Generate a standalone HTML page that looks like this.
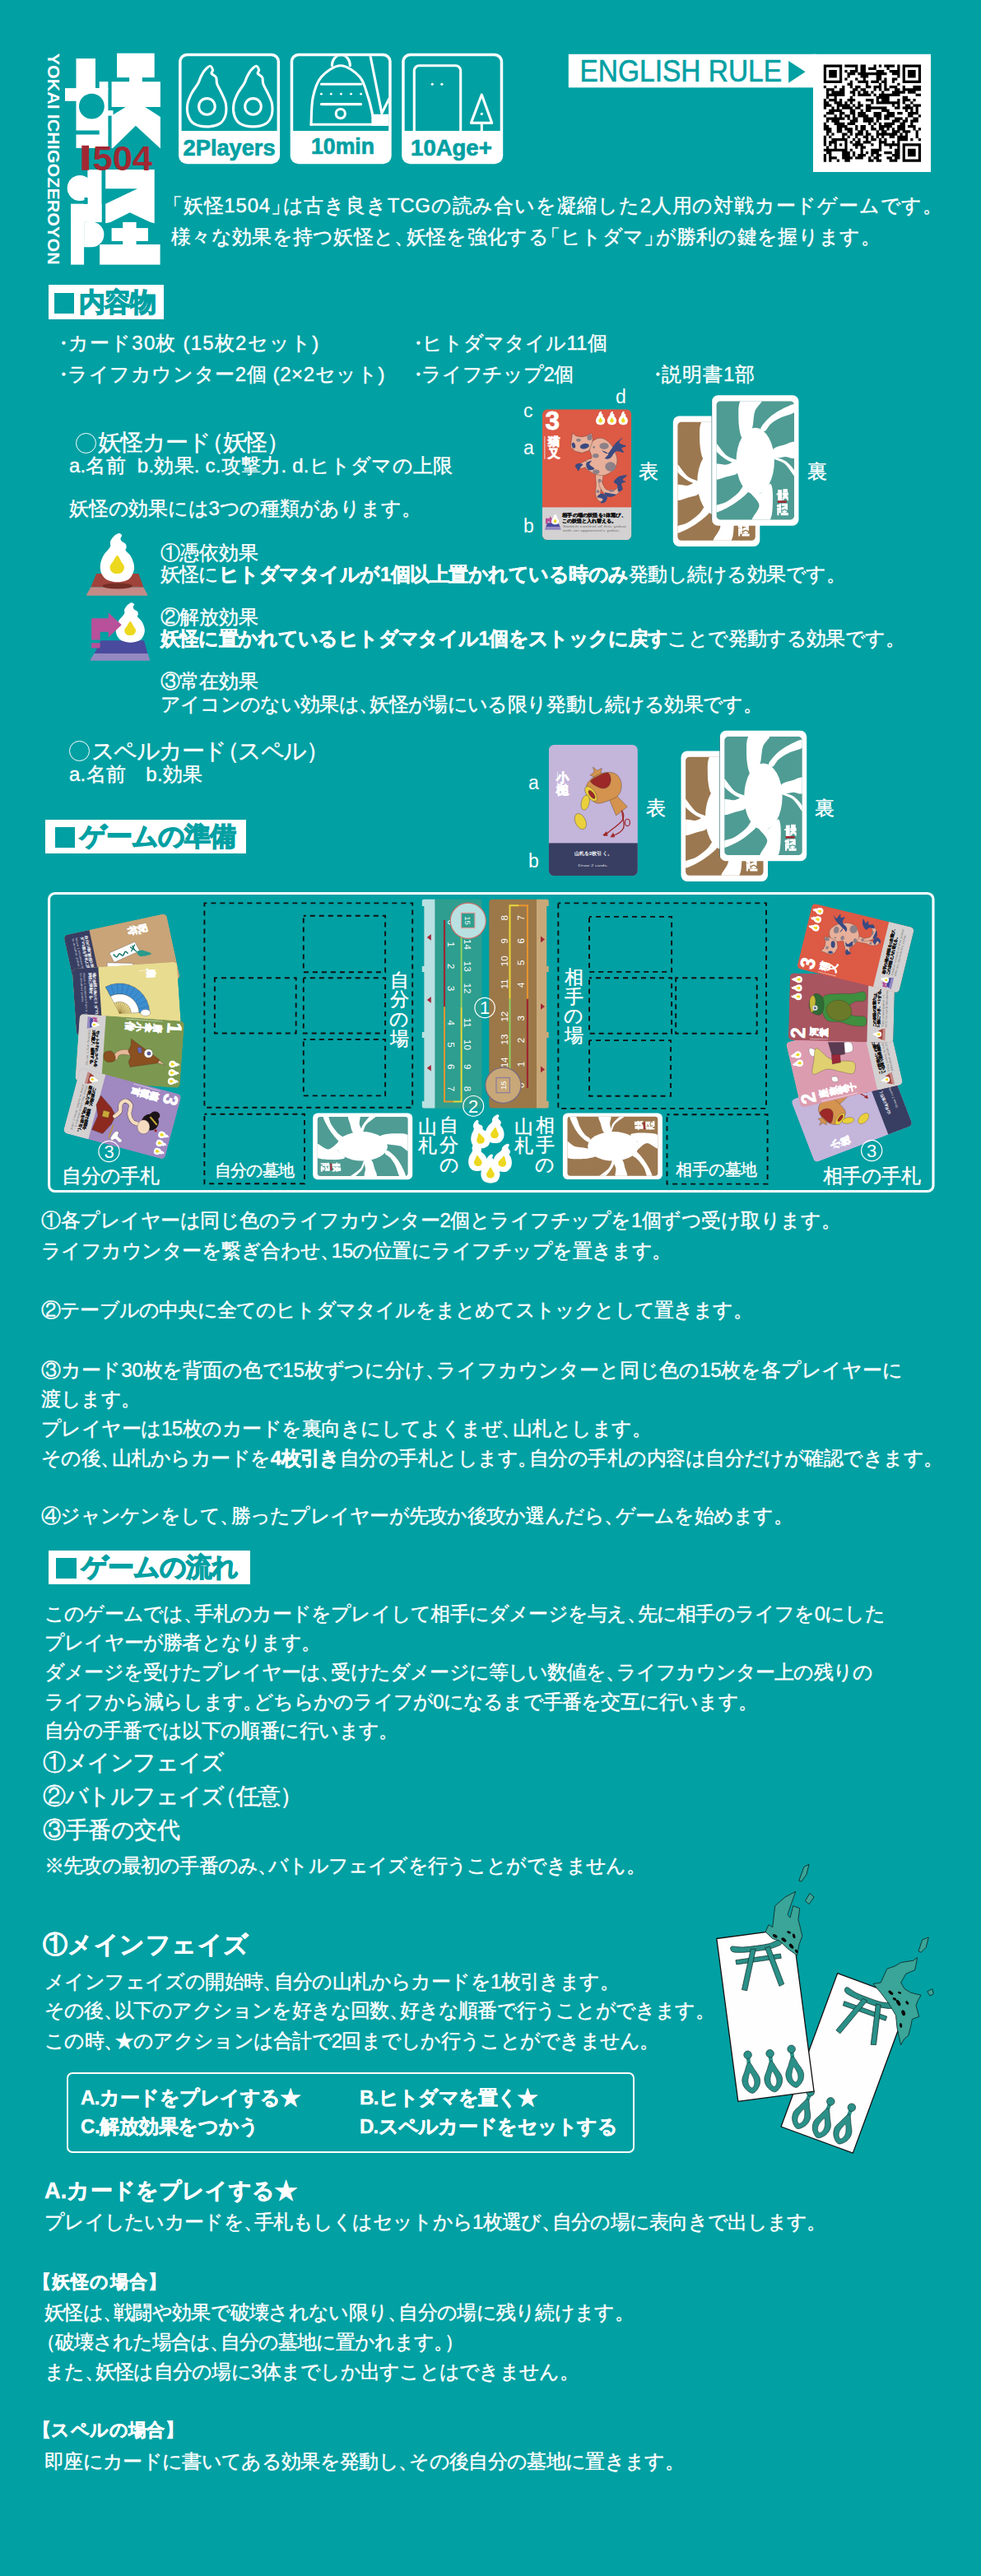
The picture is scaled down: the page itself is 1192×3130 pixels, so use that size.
<!DOCTYPE html><html lang="ja"><head><meta charset="utf-8"><title>妖怪1504 ルール</title><style>
html,body{margin:0;padding:0}body{background:#00a0a3;width:1192px;height:3130px;overflow:hidden;font-family:"Liberation Sans",sans-serif;color:#fff}
#pg{position:relative;width:1192px;height:3130px;overflow:hidden;background:#00a0a3}
.t{position:absolute;white-space:nowrap;margin:0;font-weight:normal}.t b{font-weight:bold;-webkit-text-stroke:0.45px #fff}.t{-webkit-text-stroke:0.38px #fff}.o{display:inline-block;box-sizing:border-box;width:25px;height:25px;border:1.6px solid #fff;border-radius:50%;vertical-align:-3.5px;margin-right:2px}.c{font-style:normal;margin-right:-0.42em}.q{font-style:normal;margin-left:-0.42em}.d{font-style:normal;margin:0 -7px 0 -1.5px}
.h{position:absolute;background:#fff;color:#00a0a3;font-weight:bold;white-space:nowrap;font-size:31.5px;letter-spacing:-1px;-webkit-text-stroke:1.3px #00a0a3}.sq{display:inline-block;width:24.5px;height:24.5px;background:#00a0a3;vertical-align:-3px;margin-right:6px}
svg{position:absolute;left:0;top:0}svg text{font-family:"Liberation Sans",sans-serif}
</style></head><body><div id="pg">
<svg width="1192" height="3130" viewBox="0 0 1192 3130">
<g fill="#fff">
<rect x="92.5" y="71.1" width="23.5" height="36"/>
<rect x="79" y="107.1" width="41.7" height="15.7"/>
<rect x="92.5" y="107.1" width="38.9" height="51.4"/>
<rect x="120.7" y="99.2" width="10.7" height="10"/>
<rect x="92.5" y="163.5" width="38.9" height="16.4"/>
<rect x="120.7" y="158" width="10.7" height="6"/>
<rect x="131" y="134.2" width="6.5" height="6.4"/>
<rect x="142.1" y="64.7" width="45.6" height="29.5"/>
<rect x="157.1" y="94" width="15.7" height="6"/>
<path d="M135.60 99.20L194.90 99.20L194.90 129.90L176.30 129.90L194.90 142.10L194.90 180.60L164.90 152.80L137.10 179.90L135.60 179.90L135.60 140.60L152.80 129.90L135.60 129.90Z"/>
</g>
<circle cx="111.4" cy="129.2" r="15.4" fill="#00a0a3"/>
<g fill="#fff">
<circle cx="97.1" cy="228.5" r="15.4"/>
<rect x="106.4" y="206.1" width="17.1" height="64"/>
<rect x="86.1" y="247.8" width="37.4" height="22"/>
<rect x="86.1" y="247.8" width="16" height="73.8"/>
<path d="M102.1 269.5 L111 269.5 A15.4 15.4 0 0 1 111 300.3 L102.1 300.3Z"/>
<path d="M128.20 206.10L187.70 206.10L187.70 271.30L182.70 269.90L157.80 258.20L134.20 269.90L128.20 271.30L128.20 247.80L167.00 229.20L128.20 229.20Z"/>
<rect x="149.2" y="269.9" width="16.4" height="28"/>
<rect x="135.6" y="277.1" width="44.3" height="15.9"/>
<rect x="121.1" y="297" width="73.5" height="24.6"/>
</g>
<rect x="102.5" y="240" width="3.9" height="7.8" fill="#00a0a3"/>
<rect x="99.3" y="176.8" width="8.8" height="30" fill="#a02832"/>
<text x="112.5" y="206.8" font-size="43" font-weight="bold" fill="#a02832" textLength="72.5" lengthAdjust="spacingAndGlyphs">504</text>
<text transform="translate(58.3 64.7) rotate(90)" font-size="20.5" font-weight="bold" fill="#fff" textLength="257" lengthAdjust="spacingAndGlyphs">YOKAI ICHIGOZEROYON</text>
<rect x="217.1" y="64.7" width="123" height="134.5" rx="10" fill="#fff"/><path d="M220.6 159 V75.2 a7 7 0 0 1 7 -7 H329.6 a7 7 0 0 1 7 7 V159Z" fill="#00a0a3"/>
<rect x="352.7" y="64.7" width="123" height="134.5" rx="10" fill="#fff"/><path d="M356.2 159 V75.2 a7 7 0 0 1 7 -7 H465.2 a7 7 0 0 1 7 7 V159Z" fill="#00a0a3"/>
<rect x="488.2" y="64.7" width="123" height="134.5" rx="10" fill="#fff"/><path d="M491.7 159 V75.2 a7 7 0 0 1 7 -7 H600.7 a7 7 0 0 1 7 7 V159Z" fill="#00a0a3"/>
<text x="278.6" y="188.5" font-size="27" font-weight="bold" fill="#00a0a3" stroke="#00a0a3" stroke-width="0.7" text-anchor="middle" textLength="112" lengthAdjust="spacingAndGlyphs">2Players</text>
<text x="416.5" y="186.8" font-size="27" font-weight="bold" fill="#00a0a3" stroke="#00a0a3" stroke-width="0.7" text-anchor="middle" textLength="77" lengthAdjust="spacingAndGlyphs">10min</text>
<text x="548.4" y="188.5" font-size="27" font-weight="bold" fill="#00a0a3" stroke="#00a0a3" stroke-width="0.7" text-anchor="middle" textLength="98.6" lengthAdjust="spacingAndGlyphs">10Age+</text>
<path d="M255.26 80.28C256.89 80.21 258.22 83.68 258.52 85.17C258.83 86.67 256.42 87.76 257.09 89.25C257.77 90.75 261.48 91.97 262.60 94.14C263.72 96.32 262.63 98.97 263.82 102.30C265.01 105.63 267.97 110.11 269.73 114.12C271.50 118.13 273.74 121.94 274.42 126.36C275.10 130.77 275.10 136.62 273.81 140.63C272.52 144.64 270.41 148.20 266.68 150.41C262.94 152.62 256.52 153.88 251.39 153.88C246.26 153.88 239.66 152.62 235.89 150.41C232.12 148.20 230.12 144.47 228.76 140.63C227.40 136.79 227.13 131.79 227.74 127.38C228.35 122.96 230.29 118.44 232.43 114.12C234.57 109.81 238.68 104.88 240.58 101.48C242.48 98.09 242.48 96.39 243.84 93.74C245.20 91.09 246.83 87.82 248.74 85.58C250.64 83.34 253.63 80.35 255.26 80.28Z" fill="none" stroke="#fff" stroke-width="3.1" stroke-linejoin="round"/>
<circle cx="251.4" cy="129.4" r="9.8" fill="none" stroke="#fff" stroke-width="3.1" stroke-linejoin="round"/>
<path d="M311.36 80.28C312.99 80.21 314.32 83.68 314.62 85.17C314.93 86.67 312.52 87.76 313.19 89.25C313.87 90.75 317.58 91.97 318.70 94.14C319.82 96.32 318.73 98.97 319.92 102.30C321.11 105.63 324.07 110.11 325.83 114.12C327.60 118.13 329.84 121.94 330.52 126.36C331.20 130.77 331.20 136.62 329.91 140.63C328.62 144.64 326.51 148.20 322.78 150.41C319.04 152.62 312.62 153.88 307.49 153.88C302.36 153.88 295.76 152.62 291.99 150.41C288.22 148.20 286.22 144.47 284.86 140.63C283.50 136.79 283.23 131.79 283.84 127.38C284.45 122.96 286.39 118.44 288.53 114.12C290.67 109.81 294.78 104.88 296.68 101.48C298.58 98.09 298.58 96.39 299.94 93.74C301.30 91.09 302.93 87.82 304.84 85.58C306.74 83.34 309.73 80.35 311.36 80.28Z" fill="none" stroke="#fff" stroke-width="3.1" stroke-linejoin="round"/>
<circle cx="307.5" cy="129.4" r="9.8" fill="none" stroke="#fff" stroke-width="3.1" stroke-linejoin="round"/>
<clipPath id="cb2"><rect x="356.2" y="68.2" width="116" height="91"/></clipPath><g clip-path="url(#cb2)" fill="none" stroke="#fff" stroke-width="3.1" stroke-linejoin="round" stroke-linecap="round">
<path d="M378.03 151.34C378.40 145.83 378.17 127.94 380.23 118.31C382.30 108.67 384.82 99.96 390.42 93.54C396.01 87.11 406.01 79.77 413.81 79.77C421.61 79.77 431.61 87.11 437.21 93.54C442.81 99.96 444.78 110.51 447.39 118.31C450.01 126.11 451.98 136.66 452.90 140.33"/>
<path d="M378.0 151.3 H480"/>
<path d="M403.4 79.8 A11 13 0 0 1 425.4 79.8"/>
<path d="M390.4 102.3 H438.6 M390.4 126.6 H438.6"/>
<circle cx="413.8" cy="138.1" r="5.6"/>
<path d="M449.6 66.0 L463.9 137.6 L474.4 116.9"/>
<rect x="452.9" y="140.3" width="30" height="11" fill="#fff"/>
</g>
<circle cx="390.4" cy="114.2" r="1.4" fill="#fff"/>
<circle cx="402.3" cy="114.2" r="1.4" fill="#fff"/>
<circle cx="414.4" cy="114.2" r="1.4" fill="#fff"/>
<circle cx="426.5" cy="114.2" r="1.4" fill="#fff"/>
<circle cx="438.6" cy="114.2" r="1.4" fill="#fff"/>
<g fill="none" stroke="#fff" stroke-width="3.1" stroke-linejoin="round">
<path d="M503.3 160 V85.8 a6 6 0 0 1 6 -6 H553.7 a6 6 0 0 1 6 6 V160"/>
<path d="M585.3 115.0 L572.4 149.4 L597.7 149.4 Z"/>
<path d="M585.3 149.4 V160"/>
</g>
<circle cx="525.3" cy="102.3" r="1.6" fill="#fff"/>
<circle cx="536.9" cy="102.3" r="1.6" fill="#fff"/>
<circle cx="585.3" cy="138.4" r="1.6" fill="#fff"/>
<rect x="690.8" y="65.8" width="300" height="40.6" fill="#fff"/>
<rect x="988" y="65.8" width="143" height="143.2" fill="#fff"/>
<text x="704.5" y="99" font-size="36" fill="#00a0a3" stroke="#00a0a3" stroke-width="0.6" textLength="245.5" lengthAdjust="spacingAndGlyphs">ENGLISH RULE</text>
<path d="M958.2 73.9 L978.6 87.3 L958.2 100.7Z" fill="#00a0a3"/>
<path d="M1000.80 78.50h22.41v3.24h-22.41zM1026.36 78.50h16.02v3.24h-16.02zM1045.52 78.50h6.44v3.24h-6.44zM1061.50 78.50h3.24v3.24h-3.24zM1067.89 78.50h3.24v3.24h-3.24zM1074.28 78.50h12.83v3.24h-12.83zM1090.25 78.50h3.24v3.24h-3.24zM1096.64 78.50h22.41v3.24h-22.41zM1000.80 81.69h3.24v3.24h-3.24zM1019.97 81.69h3.24v3.24h-3.24zM1039.14 81.69h3.24v3.24h-3.24zM1045.52 81.69h6.44v3.24h-6.44zM1055.11 81.69h9.63v3.24h-9.63zM1077.47 81.69h3.24v3.24h-3.24zM1090.25 81.69h3.24v3.24h-3.24zM1096.64 81.69h3.24v3.24h-3.24zM1115.81 81.69h3.24v3.24h-3.24zM1000.80 84.89h3.24v3.24h-3.24zM1007.19 84.89h9.63v3.24h-9.63zM1019.97 84.89h3.24v3.24h-3.24zM1026.36 84.89h3.24v3.24h-3.24zM1032.75 84.89h9.63v3.24h-9.63zM1045.52 84.89h6.44v3.24h-6.44zM1064.69 84.89h9.63v3.24h-9.63zM1080.66 84.89h12.83v3.24h-12.83zM1096.64 84.89h3.24v3.24h-3.24zM1103.03 84.89h9.63v3.24h-9.63zM1115.81 84.89h3.24v3.24h-3.24zM1000.80 88.08h3.24v3.24h-3.24zM1007.19 88.08h9.63v3.24h-9.63zM1019.97 88.08h3.24v3.24h-3.24zM1029.55 88.08h9.63v3.24h-9.63zM1042.33 88.08h35.19v3.24h-35.19zM1083.86 88.08h9.63v3.24h-9.63zM1096.64 88.08h3.24v3.24h-3.24zM1103.03 88.08h9.63v3.24h-9.63zM1115.81 88.08h3.24v3.24h-3.24zM1000.80 91.28h3.24v3.24h-3.24zM1007.19 91.28h9.63v3.24h-9.63zM1019.97 91.28h3.24v3.24h-3.24zM1029.55 91.28h3.24v3.24h-3.24zM1045.52 91.28h9.63v3.24h-9.63zM1064.69 91.28h6.44v3.24h-6.44zM1090.25 91.28h3.24v3.24h-3.24zM1096.64 91.28h3.24v3.24h-3.24zM1103.03 91.28h9.63v3.24h-9.63zM1115.81 91.28h3.24v3.24h-3.24zM1000.80 94.47h3.24v3.24h-3.24zM1019.97 94.47h3.24v3.24h-3.24zM1026.36 94.47h3.24v3.24h-3.24zM1039.14 94.47h3.24v3.24h-3.24zM1048.72 94.47h3.24v3.24h-3.24zM1064.69 94.47h6.44v3.24h-6.44zM1074.28 94.47h3.24v3.24h-3.24zM1083.86 94.47h6.44v3.24h-6.44zM1096.64 94.47h3.24v3.24h-3.24zM1115.81 94.47h3.24v3.24h-3.24zM1000.80 97.67h22.41v3.24h-22.41zM1032.75 97.67h3.24v3.24h-3.24zM1042.33 97.67h12.83v3.24h-12.83zM1058.30 97.67h9.63v3.24h-9.63zM1071.08 97.67h6.44v3.24h-6.44zM1083.86 97.67h3.24v3.24h-3.24zM1096.64 97.67h22.41v3.24h-22.41zM1029.55 100.86h6.44v3.24h-6.44zM1051.91 100.86h3.24v3.24h-3.24zM1067.89 100.86h3.24v3.24h-3.24zM1074.28 100.86h3.24v3.24h-3.24zM1090.25 100.86h3.24v3.24h-3.24zM1000.80 104.06h3.24v3.24h-3.24zM1013.58 104.06h3.24v3.24h-3.24zM1023.16 104.06h3.24v3.24h-3.24zM1032.75 104.06h3.24v3.24h-3.24zM1039.14 104.06h6.44v3.24h-6.44zM1051.91 104.06h6.44v3.24h-6.44zM1061.50 104.06h9.63v3.24h-9.63zM1074.28 104.06h3.24v3.24h-3.24zM1080.66 104.06h9.63v3.24h-9.63zM1096.64 104.06h3.24v3.24h-3.24zM1109.42 104.06h9.63v3.24h-9.63zM1003.99 107.25h9.63v3.24h-9.63zM1019.97 107.25h6.44v3.24h-6.44zM1035.94 107.25h6.44v3.24h-6.44zM1045.52 107.25h6.44v3.24h-6.44zM1061.50 107.25h3.24v3.24h-3.24zM1067.89 107.25h3.24v3.24h-3.24zM1074.28 107.25h6.44v3.24h-6.44zM1087.05 107.25h6.44v3.24h-6.44zM1096.64 107.25h22.41v3.24h-22.41zM1003.99 110.45h3.24v3.24h-3.24zM1010.38 110.45h16.02v3.24h-16.02zM1032.75 110.45h6.44v3.24h-6.44zM1042.33 110.45h3.24v3.24h-3.24zM1048.72 110.45h6.44v3.24h-6.44zM1058.30 110.45h3.24v3.24h-3.24zM1071.08 110.45h3.24v3.24h-3.24zM1083.86 110.45h16.02v3.24h-16.02zM1103.03 110.45h9.63v3.24h-9.63zM1003.99 113.64h22.41v3.24h-22.41zM1035.94 113.64h3.24v3.24h-3.24zM1042.33 113.64h16.02v3.24h-16.02zM1061.50 113.64h3.24v3.24h-3.24zM1067.89 113.64h25.61v3.24h-25.61zM1112.61 113.64h6.44v3.24h-6.44zM1003.99 116.84h3.24v3.24h-3.24zM1013.58 116.84h3.24v3.24h-3.24zM1032.75 116.84h3.24v3.24h-3.24zM1064.69 116.84h16.02v3.24h-16.02zM1096.64 116.84h6.44v3.24h-6.44zM1000.80 120.03h3.24v3.24h-3.24zM1007.19 120.03h9.63v3.24h-9.63zM1019.97 120.03h3.24v3.24h-3.24zM1029.55 120.03h9.63v3.24h-9.63zM1051.91 120.03h9.63v3.24h-9.63zM1064.69 120.03h3.24v3.24h-3.24zM1071.08 120.03h9.63v3.24h-9.63zM1090.25 120.03h3.24v3.24h-3.24zM1096.64 120.03h9.63v3.24h-9.63zM1109.42 120.03h3.24v3.24h-3.24zM1000.80 123.22h6.44v3.24h-6.44zM1013.58 123.22h9.63v3.24h-9.63zM1026.36 123.22h3.24v3.24h-3.24zM1032.75 123.22h3.24v3.24h-3.24zM1042.33 123.22h3.24v3.24h-3.24zM1058.30 123.22h3.24v3.24h-3.24zM1064.69 123.22h28.80v3.24h-28.80zM1096.64 123.22h3.24v3.24h-3.24zM1106.22 123.22h3.24v3.24h-3.24zM1000.80 126.42h9.63v3.24h-9.63zM1016.77 126.42h16.02v3.24h-16.02zM1035.94 126.42h3.24v3.24h-3.24zM1042.33 126.42h6.44v3.24h-6.44zM1051.91 126.42h6.44v3.24h-6.44zM1083.86 126.42h3.24v3.24h-3.24zM1090.25 126.42h3.24v3.24h-3.24zM1099.83 126.42h6.44v3.24h-6.44zM1109.42 126.42h9.63v3.24h-9.63zM1000.80 129.61h3.24v3.24h-3.24zM1010.38 129.61h3.24v3.24h-3.24zM1016.77 129.61h3.24v3.24h-3.24zM1023.16 129.61h12.83v3.24h-12.83zM1039.14 129.61h6.44v3.24h-6.44zM1051.91 129.61h25.61v3.24h-25.61zM1087.05 129.61h6.44v3.24h-6.44zM1096.64 129.61h12.83v3.24h-12.83zM1112.61 129.61h3.24v3.24h-3.24zM1007.19 132.81h16.02v3.24h-16.02zM1032.75 132.81h6.44v3.24h-6.44zM1045.52 132.81h3.24v3.24h-3.24zM1051.91 132.81h6.44v3.24h-6.44zM1071.08 132.81h9.63v3.24h-9.63zM1099.83 132.81h3.24v3.24h-3.24zM1106.22 132.81h3.24v3.24h-3.24zM1112.61 132.81h3.24v3.24h-3.24zM1003.99 136.00h9.63v3.24h-9.63zM1019.97 136.00h6.44v3.24h-6.44zM1032.75 136.00h6.44v3.24h-6.44zM1042.33 136.00h9.63v3.24h-9.63zM1061.50 136.00h9.63v3.24h-9.63zM1077.47 136.00h9.63v3.24h-9.63zM1090.25 136.00h6.44v3.24h-6.44zM1103.03 136.00h12.83v3.24h-12.83zM1000.80 139.20h3.24v3.24h-3.24zM1013.58 139.20h3.24v3.24h-3.24zM1019.97 139.20h3.24v3.24h-3.24zM1026.36 139.20h6.44v3.24h-6.44zM1035.94 139.20h3.24v3.24h-3.24zM1042.33 139.20h12.83v3.24h-12.83zM1061.50 139.20h9.63v3.24h-9.63zM1074.28 139.20h12.83v3.24h-12.83zM1103.03 139.20h6.44v3.24h-6.44zM1115.81 139.20h3.24v3.24h-3.24zM1003.99 142.39h22.41v3.24h-22.41zM1029.55 142.39h3.24v3.24h-3.24zM1035.94 142.39h6.44v3.24h-6.44zM1048.72 142.39h12.83v3.24h-12.83zM1064.69 142.39h6.44v3.24h-6.44zM1074.28 142.39h6.44v3.24h-6.44zM1087.05 142.39h9.63v3.24h-9.63zM1099.83 142.39h3.24v3.24h-3.24zM1109.42 142.39h6.44v3.24h-6.44zM1003.99 145.59h3.24v3.24h-3.24zM1010.38 145.59h9.63v3.24h-9.63zM1032.75 145.59h9.63v3.24h-9.63zM1048.72 145.59h12.83v3.24h-12.83zM1064.69 145.59h3.24v3.24h-3.24zM1083.86 145.59h9.63v3.24h-9.63zM1096.64 145.59h6.44v3.24h-6.44zM1106.22 145.59h9.63v3.24h-9.63zM1000.80 148.78h3.24v3.24h-3.24zM1013.58 148.78h12.83v3.24h-12.83zM1029.55 148.78h9.63v3.24h-9.63zM1055.11 148.78h3.24v3.24h-3.24zM1061.50 148.78h3.24v3.24h-3.24zM1067.89 148.78h3.24v3.24h-3.24zM1074.28 148.78h12.83v3.24h-12.83zM1093.44 148.78h6.44v3.24h-6.44zM1106.22 148.78h3.24v3.24h-3.24zM1000.80 151.98h6.44v3.24h-6.44zM1016.77 151.98h12.83v3.24h-12.83zM1039.14 151.98h3.24v3.24h-3.24zM1045.52 151.98h6.44v3.24h-6.44zM1058.30 151.98h3.24v3.24h-3.24zM1067.89 151.98h16.02v3.24h-16.02zM1090.25 151.98h9.63v3.24h-9.63zM1103.03 151.98h9.63v3.24h-9.63zM1000.80 155.17h9.63v3.24h-9.63zM1016.77 155.17h6.44v3.24h-6.44zM1026.36 155.17h9.63v3.24h-9.63zM1039.14 155.17h3.24v3.24h-3.24zM1045.52 155.17h6.44v3.24h-6.44zM1058.30 155.17h6.44v3.24h-6.44zM1067.89 155.17h6.44v3.24h-6.44zM1077.47 155.17h3.24v3.24h-3.24zM1083.86 155.17h3.24v3.24h-3.24zM1090.25 155.17h9.63v3.24h-9.63zM1109.42 155.17h3.24v3.24h-3.24zM1115.81 155.17h3.24v3.24h-3.24zM1003.99 158.36h6.44v3.24h-6.44zM1016.77 158.36h6.44v3.24h-6.44zM1029.55 158.36h6.44v3.24h-6.44zM1042.33 158.36h6.44v3.24h-6.44zM1051.91 158.36h3.24v3.24h-3.24zM1064.69 158.36h3.24v3.24h-3.24zM1071.08 158.36h6.44v3.24h-6.44zM1083.86 158.36h9.63v3.24h-9.63zM1096.64 158.36h9.63v3.24h-9.63zM1112.61 158.36h3.24v3.24h-3.24zM1003.99 161.56h3.24v3.24h-3.24zM1010.38 161.56h3.24v3.24h-3.24zM1023.16 161.56h6.44v3.24h-6.44zM1032.75 161.56h3.24v3.24h-3.24zM1039.14 161.56h9.63v3.24h-9.63zM1051.91 161.56h6.44v3.24h-6.44zM1064.69 161.56h25.61v3.24h-25.61zM1093.44 161.56h3.24v3.24h-3.24zM1099.83 161.56h3.24v3.24h-3.24zM1112.61 161.56h3.24v3.24h-3.24zM1000.80 164.75h3.24v3.24h-3.24zM1007.19 164.75h3.24v3.24h-3.24zM1023.16 164.75h3.24v3.24h-3.24zM1029.55 164.75h3.24v3.24h-3.24zM1039.14 164.75h3.24v3.24h-3.24zM1048.72 164.75h6.44v3.24h-6.44zM1058.30 164.75h3.24v3.24h-3.24zM1064.69 164.75h3.24v3.24h-3.24zM1071.08 164.75h3.24v3.24h-3.24zM1080.66 164.75h6.44v3.24h-6.44zM1090.25 164.75h12.83v3.24h-12.83zM1112.61 164.75h3.24v3.24h-3.24zM1000.80 167.95h3.24v3.24h-3.24zM1010.38 167.95h19.22v3.24h-19.22zM1035.94 167.95h3.24v3.24h-3.24zM1042.33 167.95h3.24v3.24h-3.24zM1051.91 167.95h3.24v3.24h-3.24zM1058.30 167.95h6.44v3.24h-6.44zM1067.89 167.95h3.24v3.24h-3.24zM1074.28 167.95h3.24v3.24h-3.24zM1090.25 167.95h12.83v3.24h-12.83zM1106.22 167.95h3.24v3.24h-3.24zM1115.81 167.95h3.24v3.24h-3.24zM1000.80 171.14h3.24v3.24h-3.24zM1007.19 171.14h9.63v3.24h-9.63zM1026.36 171.14h3.24v3.24h-3.24zM1032.75 171.14h3.24v3.24h-3.24zM1039.14 171.14h6.44v3.24h-6.44zM1048.72 171.14h9.63v3.24h-9.63zM1067.89 171.14h9.63v3.24h-9.63zM1083.86 171.14h3.24v3.24h-3.24zM1090.25 171.14h3.24v3.24h-3.24zM1000.80 174.34h3.24v3.24h-3.24zM1007.19 174.34h3.24v3.24h-3.24zM1013.58 174.34h3.24v3.24h-3.24zM1019.97 174.34h3.24v3.24h-3.24zM1026.36 174.34h3.24v3.24h-3.24zM1035.94 174.34h12.83v3.24h-12.83zM1058.30 174.34h3.24v3.24h-3.24zM1067.89 174.34h3.24v3.24h-3.24zM1074.28 174.34h19.22v3.24h-19.22zM1096.64 174.34h22.41v3.24h-22.41zM1003.99 177.53h3.24v3.24h-3.24zM1013.58 177.53h3.24v3.24h-3.24zM1026.36 177.53h3.24v3.24h-3.24zM1039.14 177.53h3.24v3.24h-3.24zM1045.52 177.53h6.44v3.24h-6.44zM1067.89 177.53h3.24v3.24h-3.24zM1080.66 177.53h3.24v3.24h-3.24zM1090.25 177.53h3.24v3.24h-3.24zM1096.64 177.53h3.24v3.24h-3.24zM1115.81 177.53h3.24v3.24h-3.24zM1000.80 180.73h28.80v3.24h-28.80zM1032.75 180.73h3.24v3.24h-3.24zM1045.52 180.73h3.24v3.24h-3.24zM1058.30 180.73h12.83v3.24h-12.83zM1087.05 180.73h6.44v3.24h-6.44zM1096.64 180.73h3.24v3.24h-3.24zM1103.03 180.73h9.63v3.24h-9.63zM1115.81 180.73h3.24v3.24h-3.24zM1003.99 183.92h6.44v3.24h-6.44zM1023.16 183.92h9.63v3.24h-9.63zM1035.94 183.92h3.24v3.24h-3.24zM1045.52 183.92h3.24v3.24h-3.24zM1051.91 183.92h3.24v3.24h-3.24zM1058.30 183.92h9.63v3.24h-9.63zM1074.28 183.92h9.63v3.24h-9.63zM1087.05 183.92h6.44v3.24h-6.44zM1096.64 183.92h3.24v3.24h-3.24zM1103.03 183.92h9.63v3.24h-9.63zM1115.81 183.92h3.24v3.24h-3.24zM1000.80 187.12h3.24v3.24h-3.24zM1007.19 187.12h3.24v3.24h-3.24zM1023.16 187.12h9.63v3.24h-9.63zM1035.94 187.12h3.24v3.24h-3.24zM1042.33 187.12h9.63v3.24h-9.63zM1058.30 187.12h3.24v3.24h-3.24zM1064.69 187.12h6.44v3.24h-6.44zM1083.86 187.12h9.63v3.24h-9.63zM1096.64 187.12h3.24v3.24h-3.24zM1103.03 187.12h9.63v3.24h-9.63zM1115.81 187.12h3.24v3.24h-3.24zM1000.80 190.31h3.24v3.24h-3.24zM1007.19 190.31h9.63v3.24h-9.63zM1023.16 190.31h12.83v3.24h-12.83zM1039.14 190.31h9.63v3.24h-9.63zM1055.11 190.31h3.24v3.24h-3.24zM1061.50 190.31h6.44v3.24h-6.44zM1077.47 190.31h6.44v3.24h-6.44zM1087.05 190.31h6.44v3.24h-6.44zM1096.64 190.31h3.24v3.24h-3.24zM1115.81 190.31h3.24v3.24h-3.24zM1000.80 193.51h3.24v3.24h-3.24zM1007.19 193.51h3.24v3.24h-3.24zM1016.77 193.51h3.24v3.24h-3.24zM1026.36 193.51h6.44v3.24h-6.44zM1055.11 193.51h6.44v3.24h-6.44zM1064.69 193.51h6.44v3.24h-6.44zM1080.66 193.51h9.63v3.24h-9.63zM1096.64 193.51h22.41v3.24h-22.41z" fill="#000"/>
<g transform="translate(658.90 497.30) scale(1.0131 0.9925)"><g><clipPath id="fc1"><rect width="107" height="160" rx="6.5"/></clipPath><g clip-path="url(#fc1)"><rect width="107" height="160" fill="#dd5a45"/><rect y="120" width="107" height="40" fill="#d3d1d1"/><g stroke="#3a3030" stroke-width="0.35"><path d="M64.61 79.44C65.94 77.45 71.46 78.56 72.56 80.76C73.67 82.97 71.68 88.72 71.24 92.69C70.80 96.67 69.25 101.53 69.91 104.62C70.57 107.71 75.43 109.92 75.21 111.24C74.99 112.57 70.46 113.67 68.59 112.57C66.71 111.46 64.61 107.93 63.95 104.62C63.29 101.31 64.50 96.89 64.61 92.69C64.72 88.49 63.29 81.43 64.61 79.44Z" fill="#e8b09a"/><path d="M69.91 86.07C71.24 86.73 73.67 95.89 76.54 97.99C79.41 100.09 84.49 99.54 87.14 98.65C89.79 97.77 91.12 93.02 92.44 92.69C93.77 92.36 95.75 94.68 95.09 96.67C94.43 98.65 91.56 103.29 88.47 104.62C85.37 105.94 79.85 106.39 76.54 104.62C73.23 102.85 69.69 97.11 68.59 94.02C67.48 90.92 68.59 85.40 69.91 86.07Z" fill="#e8b09a"/><path d="M58.25 41.67C59.58 39.46 62.23 37.36 64.61 36.37C67.00 35.38 69.91 34.93 72.56 35.71C75.21 36.48 78.26 38.76 80.51 41.01C82.77 43.26 84.58 46.13 86.08 49.22C87.58 52.32 89.02 56.47 89.53 59.56C90.03 62.65 89.86 65.30 89.13 67.78C88.40 70.25 87.03 72.46 85.15 74.40C83.27 76.35 80.18 78.33 77.86 79.44C75.54 80.54 73.45 80.99 71.24 81.03C69.03 81.07 67.04 80.59 64.61 79.70C62.18 78.82 58.98 77.27 56.66 75.73C54.34 74.18 51.80 72.19 50.70 70.43C49.59 68.66 49.48 66.58 50.03 65.13C50.59 63.67 52.46 62.61 54.01 61.68C55.56 60.75 58.60 60.80 59.31 59.56C60.02 58.32 58.69 55.92 58.25 54.26C57.81 52.60 56.66 51.72 56.66 49.62C56.66 47.52 56.93 43.88 58.25 41.67Z" fill="#e8b09a"/><path d="M52.68 63.54C50.92 63.09 47.83 65.30 46.06 66.19C44.29 67.07 42.52 67.73 42.08 68.84C41.64 69.94 42.08 72.37 43.41 72.81C44.73 73.25 47.83 72.15 50.03 71.49C52.24 70.83 56.22 70.16 56.66 68.84C57.10 67.51 54.45 63.98 52.68 63.54Z" fill="#e8b09a"/><path d="M36.25 29.08L40.49 32.79L47.38 33.85L52.95 32.79L59.31 29.35L60.64 37.30L58.78 44.32L56.40 50.28L47.65 53.47L39.43 51.34L34.13 46.31L34.93 38.36Z" fill="#e8b09a"/><path d="M54.27 33.85L58.78 30.94L59.44 37.83Z" fill="#8c8088" stroke="none"/></g><ellipse cx="74.2" cy="45.0" rx="5.6" ry="4.0" fill="#8c8088"/><ellipse cx="81.8" cy="70.2" rx="6.4" ry="5.8" fill="#8c8088"/><ellipse cx="64.1" cy="56.9" rx="3.7" ry="2.7" fill="#8c8088"/><ellipse cx="64.6" cy="76.5" rx="4.0" ry="2.7" fill="#8c8088"/><ellipse cx="56.7" cy="34.4" rx="2.9" ry="3.7" fill="#8c8088"/><ellipse cx="43.4" cy="37.7" rx="2.7" ry="2.1" fill="#8c8088"/><ellipse cx="68.6" cy="87.4" rx="1.9" ry="2.4" fill="#8c8088"/><ellipse cx="66.6" cy="100.6" rx="1.9" ry="1.9" fill="#8c8088"/><ellipse cx="83.2" cy="100.0" rx="3.3" ry="1.3" fill="#8c8088"/><ellipse cx="62.0" cy="46.3" rx="1.3" ry="1.6" fill="#8c8088"/><ellipse cx="37.6" cy="44.3" rx="2.1" ry="3.6" fill="#3b4a80" transform="rotate(-12 37.6 44.3)"/><ellipse cx="50.8" cy="45.2" rx="5.6" ry="3.2" fill="#3b4a80" transform="rotate(-12 50.8 45.2)"/><path d="M71.24 50.28C71.02 50.28 75.88 54.59 77.86 54.26C79.85 53.93 81.40 50.51 83.16 48.30C84.93 46.09 86.26 43.22 88.47 41.01C90.67 38.80 95.75 35.04 96.42 35.04C97.08 35.04 91.78 39.35 92.44 41.01C93.10 42.66 99.95 43.88 100.39 44.98C100.83 46.09 95.53 46.31 95.09 47.63C94.65 48.96 98.85 52.27 97.74 52.94C96.64 53.60 91.12 50.51 88.47 51.61C85.81 52.71 84.05 58.13 81.84 59.56C79.63 61.00 75.65 61.11 75.21 60.22C74.77 59.34 79.85 55.92 79.19 54.26C78.53 52.60 71.46 50.28 71.24 50.28Z" fill="#3b4a80"/><path d="M39.43 68.84C39.76 67.73 41.86 66.41 43.41 66.19C44.95 65.97 48.27 66.74 48.71 67.51C49.15 68.29 46.94 69.50 46.06 70.83C45.18 72.15 44.18 75.13 43.41 75.46C42.64 75.79 42.08 73.92 41.42 72.81C40.76 71.71 39.10 69.94 39.43 68.84Z" fill="#3b4a80"/><path d="M52.68 66.19C53.35 64.31 58.65 62.65 59.31 62.87C59.97 63.09 56.11 65.86 56.66 67.51C57.21 69.17 62.84 71.71 62.62 72.81C62.40 73.92 56.99 75.24 55.34 74.14C53.68 73.03 52.02 68.06 52.68 66.19Z" fill="#3b4a80"/><path d="M85.81 88.72C86.26 86.95 89.79 83.41 92.44 82.09C95.09 80.76 101.05 80.10 101.72 80.76C102.38 81.43 96.64 84.74 96.42 86.07C96.20 87.39 100.61 87.83 100.39 88.72C100.17 89.60 95.75 89.82 95.09 91.37C94.43 92.91 97.08 96.45 96.42 97.99C95.75 99.54 92.22 101.53 91.12 100.64C90.01 99.76 90.67 94.68 89.79 92.69C88.91 90.70 85.37 90.48 85.81 88.72Z" fill="#3b4a80"/><path d="M65.94 107.27C65.72 106.16 69.25 103.29 71.24 103.29C73.23 103.29 77.20 105.50 77.86 107.27C78.53 109.04 76.54 112.68 75.21 113.89C73.89 115.11 70.35 115.22 69.91 114.56C69.47 113.89 73.23 111.13 72.56 109.92C71.90 108.70 66.16 108.37 65.94 107.27Z" fill="#3b4a80"/><path d="M75.21 101.97C76.32 101.53 80.96 102.85 83.16 103.29C85.37 103.73 88.69 103.96 88.47 104.62C88.24 105.28 83.83 107.05 81.84 107.27C79.85 107.49 77.64 106.83 76.54 105.94C75.43 105.06 74.11 102.41 75.21 101.97Z" fill="#3b4a80"/><text x="3.5" y="25.2" font-size="31" font-weight="bold" fill="#fff" stroke="#fff" stroke-width="0.8">3</text><g><path d="M70.54 2.60C70.86 2.66 71.28 3.07 71.34 3.34C71.40 3.62 70.92 3.93 70.90 4.25C70.88 4.57 70.96 4.92 71.23 5.24C71.50 5.56 72.24 5.81 72.51 6.16C72.77 6.52 72.82 7.00 72.83 7.37C72.83 7.74 72.33 7.91 72.55 8.39C72.77 8.87 73.73 9.55 74.16 10.26C74.59 10.96 74.94 11.89 75.13 12.63C75.33 13.37 75.38 14.00 75.30 14.68C75.22 15.36 75.00 16.11 74.64 16.72C74.28 17.34 73.96 17.96 73.17 18.36C72.37 18.75 70.97 19.10 69.88 19.10C68.78 19.10 67.42 18.75 66.60 18.36C65.78 17.96 65.34 17.34 64.96 16.72C64.58 16.11 64.38 15.41 64.30 14.68C64.22 13.94 64.27 13.10 64.47 12.30C64.66 11.51 65.03 10.62 65.44 9.91C65.85 9.20 66.57 8.55 66.93 8.04C67.29 7.54 67.50 7.28 67.60 6.86C67.70 6.43 67.42 5.94 67.52 5.49C67.63 5.03 67.93 4.55 68.24 4.13C68.55 3.72 69.01 3.27 69.39 3.01C69.78 2.76 70.21 2.54 70.54 2.60Z" fill="#fff"/><path d="M69.90 10.03C70.32 10.06 70.78 11.45 71.16 12.09C71.53 12.74 72.07 13.32 72.12 13.91C72.18 14.51 71.88 15.27 71.49 15.67C71.11 16.07 70.36 16.30 69.80 16.30C69.24 16.30 68.49 16.07 68.11 15.67C67.72 15.27 67.40 14.54 67.48 13.91C67.56 13.29 68.19 12.55 68.59 11.91C68.99 11.26 69.47 9.99 69.90 10.03Z" fill="#edd820"/></g><g><path d="M84.24 2.60C84.56 2.66 84.98 3.07 85.04 3.34C85.10 3.62 84.62 3.93 84.60 4.25C84.58 4.57 84.66 4.92 84.93 5.24C85.20 5.56 85.94 5.81 86.21 6.16C86.47 6.52 86.52 7.00 86.53 7.37C86.53 7.74 86.03 7.91 86.25 8.39C86.47 8.87 87.43 9.55 87.86 10.26C88.29 10.96 88.64 11.89 88.83 12.63C89.03 13.37 89.08 14.00 89.00 14.68C88.92 15.36 88.70 16.11 88.34 16.72C87.98 17.34 87.66 17.96 86.87 18.36C86.07 18.75 84.67 19.10 83.58 19.10C82.48 19.10 81.12 18.75 80.30 18.36C79.48 17.96 79.04 17.34 78.66 16.72C78.28 16.11 78.08 15.41 78.00 14.68C77.92 13.94 77.97 13.10 78.17 12.30C78.36 11.51 78.73 10.62 79.14 9.91C79.55 9.20 80.27 8.55 80.63 8.04C80.99 7.54 81.20 7.28 81.30 6.86C81.40 6.43 81.12 5.94 81.22 5.49C81.33 5.03 81.63 4.55 81.94 4.13C82.25 3.72 82.71 3.27 83.09 3.01C83.48 2.76 83.91 2.54 84.24 2.60Z" fill="#fff"/><path d="M83.60 10.03C84.02 10.06 84.48 11.45 84.86 12.09C85.23 12.74 85.77 13.32 85.82 13.91C85.88 14.51 85.58 15.27 85.19 15.67C84.81 16.07 84.06 16.30 83.50 16.30C82.94 16.30 82.19 16.07 81.81 15.67C81.42 15.27 81.10 14.54 81.18 13.91C81.26 13.29 81.89 12.55 82.29 11.91C82.69 11.26 83.17 9.99 83.60 10.03Z" fill="#edd820"/></g><g><path d="M97.84 2.60C98.16 2.66 98.58 3.07 98.64 3.34C98.70 3.62 98.22 3.93 98.20 4.25C98.18 4.57 98.26 4.92 98.53 5.24C98.80 5.56 99.54 5.81 99.81 6.16C100.07 6.52 100.12 7.00 100.12 7.37C100.13 7.74 99.63 7.91 99.85 8.39C100.07 8.87 101.03 9.55 101.46 10.26C101.89 10.96 102.24 11.89 102.43 12.63C102.63 13.37 102.68 14.00 102.60 14.68C102.52 15.36 102.30 16.11 101.94 16.72C101.58 17.34 101.26 17.96 100.47 18.36C99.67 18.75 98.27 19.10 97.18 19.10C96.08 19.10 94.72 18.75 93.90 18.36C93.08 17.96 92.64 17.34 92.26 16.72C91.88 16.11 91.68 15.41 91.60 14.68C91.52 13.94 91.57 13.10 91.77 12.30C91.96 11.51 92.33 10.62 92.74 9.91C93.15 9.20 93.87 8.55 94.23 8.04C94.59 7.54 94.80 7.28 94.90 6.86C95.00 6.43 94.72 5.94 94.82 5.49C94.93 5.03 95.23 4.55 95.54 4.13C95.85 3.72 96.31 3.27 96.69 3.01C97.08 2.76 97.51 2.54 97.84 2.60Z" fill="#fff"/><path d="M97.20 10.03C97.62 10.06 98.08 11.45 98.46 12.09C98.83 12.74 99.37 13.32 99.42 13.91C99.48 14.51 99.18 15.27 98.79 15.67C98.41 16.07 97.66 16.30 97.10 16.30C96.54 16.30 95.79 16.07 95.41 15.67C95.02 15.27 94.70 14.54 94.78 13.91C94.86 13.29 95.49 12.55 95.89 11.91C96.29 11.26 96.77 9.99 97.20 10.03Z" fill="#edd820"/></g><text x="14.2" y="44.5" font-size="14.5" font-weight="bold" fill="#fff" stroke="#fff" stroke-width="0.9" text-anchor="middle">猫</text><text x="14.2" y="59.1" font-size="14.5" font-weight="bold" fill="#fff" stroke="#fff" stroke-width="0.9" text-anchor="middle">又</text><rect x="2.2" y="33" width="1.3" height="28" fill="#fff" opacity=".55"/><text x="24" y="132.2" font-size="5.6" font-weight="bold" fill="#111" stroke="#111" stroke-width="0.25" textLength="76.7" lengthAdjust="spacingAndGlyphs">相手の場の妖怪を1体選び、</text><text x="24" y="138.5" font-size="5.6" font-weight="bold" fill="#111" stroke="#111" stroke-width="0.25" textLength="64.9" lengthAdjust="spacingAndGlyphs">この妖怪と入れ替える。</text><text x="24.5" y="145.0" font-size="4.3" fill="#777" textLength="76.0" lengthAdjust="spacingAndGlyphs">Switch control of this yokai</text><text x="24.5" y="150.0" font-size="4.3" fill="#777" textLength="68.8" lengthAdjust="spacingAndGlyphs">with an opponent's yokai.</text><path d="M4 144 L6.5 139 H19 L21.5 144Z" fill="#4a4a9e"/><path d="M3 147.5 L4 144 H21.5 L22.5 147.5Z" fill="#9488c0"/><path d="M4 133.5 h5 v-2.5 l4.5 4.5 l-4.5 4.5 v-2.5 h-2.5 v3 h-2.5z" fill="#b8509a"/><g><path d="M16.10 128.50C16.37 128.54 16.71 128.85 16.76 129.06C16.81 129.27 16.41 129.51 16.40 129.75C16.38 129.99 16.45 130.26 16.67 130.50C16.89 130.74 17.50 130.93 17.71 131.20C17.93 131.47 17.97 131.83 17.98 132.11C17.98 132.39 17.57 132.52 17.75 132.89C17.93 133.25 18.71 133.76 19.06 134.30C19.42 134.84 19.71 135.54 19.87 136.10C20.02 136.66 20.07 137.13 20.00 137.65C19.93 138.17 19.75 138.74 19.46 139.20C19.17 139.66 18.90 140.14 18.25 140.44C17.60 140.74 16.46 141.00 15.56 141.00C14.67 141.00 13.55 140.74 12.88 140.44C12.21 140.14 11.85 139.66 11.54 139.20C11.23 138.74 11.07 138.21 11.00 137.65C10.93 137.09 10.98 136.45 11.13 135.85C11.29 135.25 11.60 134.57 11.94 134.04C12.27 133.50 12.86 133.01 13.15 132.62C13.45 132.24 13.62 132.05 13.70 131.72C13.78 131.40 13.55 131.03 13.64 130.69C13.72 130.34 13.97 129.97 14.22 129.66C14.48 129.35 14.85 129.01 15.17 128.81C15.48 128.62 15.84 128.46 16.10 128.50Z" fill="#fff"/><path d="M15.58 134.12C15.93 134.15 16.31 135.20 16.61 135.69C16.91 136.18 17.35 136.62 17.40 137.07C17.45 137.52 17.20 138.10 16.89 138.40C16.57 138.70 15.96 138.88 15.50 138.88C15.04 138.88 14.43 138.70 14.11 138.40C13.80 138.10 13.53 137.54 13.60 137.07C13.67 136.59 14.18 136.04 14.51 135.55C14.84 135.06 15.23 134.10 15.58 134.12Z" fill="#edd820"/></g></g></g></g>
<g transform="translate(817.80 505.50) scale(1.0000 1.0000)"><g><rect x="0" y="0" width="105.5" height="158.5" rx="7.5" fill="#fff"/><clipPath id="bk2"><rect x="5.6" y="7.3" width="94.4" height="143.9" rx="4.5"/></clipPath><rect x="5.6" y="7.3" width="94.4" height="143.9" rx="4.5" fill="#9c7850"/><g clip-path="url(#bk2)" fill="#fff" stroke="none"><ellipse cx="52.7" cy="80.1" rx="23.2" ry="40.5"/><path d="M35.88 5.55C40.50 1.50 57.39 3.24 60.14 5.55C62.88 7.86 54.22 13.63 52.34 19.41C50.46 25.19 50.61 35.59 48.87 40.21C47.14 44.83 44.11 45.41 41.94 47.14C39.77 48.87 37.46 53.50 35.88 50.61C34.29 47.72 32.41 37.32 32.41 29.81C32.41 22.30 31.25 9.59 35.88 5.55Z"/><path d="M59.27 40.21C60.14 37.46 65.63 30.96 69.67 27.21C73.71 23.45 78.34 20.42 83.54 17.68C88.73 14.93 97.98 10.31 100.87 10.75C103.76 11.18 103.76 17.53 100.87 20.28C97.98 23.02 88.45 24.75 83.54 27.21C78.63 29.66 74.58 32.26 71.40 35.01C68.23 37.75 66.49 42.81 64.47 43.67C62.45 44.54 58.41 42.95 59.27 40.21Z"/><path d="M74.87 65.34C77.18 62.59 84.40 61.44 88.73 60.14C93.07 58.84 98.84 54.94 100.87 57.54C102.89 60.14 102.89 72.85 100.87 75.74C98.84 78.63 93.07 74.73 88.73 74.87C84.40 75.01 77.18 78.19 74.87 76.60C72.56 75.01 72.56 68.08 74.87 65.34Z"/><path d="M75.74 77.47C77.76 78.77 84.55 79.92 88.73 83.54C92.92 87.15 98.84 97.69 100.87 99.13C102.89 100.58 102.74 95.38 100.87 92.20C98.99 89.02 93.65 82.81 89.60 80.07C85.56 77.33 78.91 76.17 76.60 75.74C74.29 75.30 73.71 76.17 75.74 77.47Z"/><path d="M47.14 118.20C47.43 115.74 55.23 120.80 59.27 119.06C63.32 117.33 68.95 106.21 71.40 107.80C73.86 109.39 74.29 121.09 74.00 128.60C73.71 136.11 73.86 148.82 69.67 152.86C65.48 156.90 50.90 156.04 48.87 152.86C46.85 149.68 57.83 139.57 57.54 133.80C57.25 128.02 46.85 120.65 47.14 118.20Z"/><path d="M44.54 116.46C43.24 119.64 36.02 125.13 31.54 128.60C27.07 132.06 22.30 134.95 17.68 137.26C13.06 139.57 6.12 142.89 3.81 142.46C1.50 142.03 1.50 136.83 3.81 134.66C6.12 132.50 13.06 132.06 17.68 129.46C22.30 126.86 27.93 122.39 31.54 119.06C35.15 115.74 37.18 109.97 39.34 109.53C41.51 109.10 45.84 113.29 44.54 116.46Z"/><path d="M31.54 93.93C29.38 97.11 22.30 97.83 17.68 99.13C13.06 100.43 6.12 104.19 3.81 101.73C1.50 99.28 1.50 87.29 3.81 84.40C6.12 81.51 13.20 85.12 17.68 84.40C22.15 83.68 28.37 78.48 30.68 80.07C32.99 81.66 33.71 90.76 31.54 93.93Z"/><path d="M30.68 79.20C28.65 77.61 22.15 76.89 17.68 73.14C13.20 69.38 6.12 57.83 3.81 56.67C1.50 55.52 1.50 62.59 3.81 66.20C6.12 69.82 13.34 75.59 17.68 78.34C22.01 81.08 27.64 82.52 29.81 82.67C31.98 82.81 32.70 80.79 30.68 79.20Z"/></g><g transform="translate(78.50 114.00) scale(0.1246) translate(-79 -64.7)" fill="#fff"><rect x="92.5" y="71.1" width="38.9" height="108.8"/><rect x="79" y="107.1" width="30" height="15.7"/><rect x="142.1" y="64.7" width="45.6" height="35"/><path d="M135.60 99.20L194.90 99.20L194.90 129.90L176.30 129.90L194.90 142.10L194.90 180.60L164.90 152.80L137.10 179.90L135.60 179.90L135.60 140.60L152.80 129.90L135.60 129.90Z"/><circle cx="97.1" cy="228.5" r="15.4"/><rect x="106.4" y="206.1" width="17.1" height="64"/><rect x="86.1" y="247.8" width="37.4" height="22"/><rect x="86.1" y="247.8" width="16" height="73.8"/><path d="M102.1 269.5 L111 269.5 A15.4 15.4 0 0 1 111 300.3 L102.1 300.3Z"/><path d="M128.20 206.10L187.70 206.10L187.70 271.30L157.80 258.20L128.20 271.30L128.20 247.80L167.00 229.20L128.20 229.20Z"/><rect x="149.2" y="269.9" width="16.4" height="28"/><rect x="135.6" y="277.1" width="44.3" height="15.9"/><rect x="121.1" y="297" width="73.5" height="24.6"/></g><rect x="79.8" y="128.2" width="11" height="2.6" fill="#a02832"/></g></g>
<g transform="translate(865.00 480.20) scale(1.0000 1.0000)"><g><rect x="0" y="0" width="105.5" height="158.5" rx="7.5" fill="#fff"/><clipPath id="bk3"><rect x="5.6" y="7.3" width="94.4" height="143.9" rx="4.5"/></clipPath><rect x="5.6" y="7.3" width="94.4" height="143.9" rx="4.5" fill="#4f9c94"/><g clip-path="url(#bk3)" fill="#fff" stroke="none"><ellipse cx="52.7" cy="80.1" rx="23.2" ry="40.5"/><path d="M35.88 5.55C40.50 1.50 57.39 3.24 60.14 5.55C62.88 7.86 54.22 13.63 52.34 19.41C50.46 25.19 50.61 35.59 48.87 40.21C47.14 44.83 44.11 45.41 41.94 47.14C39.77 48.87 37.46 53.50 35.88 50.61C34.29 47.72 32.41 37.32 32.41 29.81C32.41 22.30 31.25 9.59 35.88 5.55Z"/><path d="M59.27 40.21C60.14 37.46 65.63 30.96 69.67 27.21C73.71 23.45 78.34 20.42 83.54 17.68C88.73 14.93 97.98 10.31 100.87 10.75C103.76 11.18 103.76 17.53 100.87 20.28C97.98 23.02 88.45 24.75 83.54 27.21C78.63 29.66 74.58 32.26 71.40 35.01C68.23 37.75 66.49 42.81 64.47 43.67C62.45 44.54 58.41 42.95 59.27 40.21Z"/><path d="M74.87 65.34C77.18 62.59 84.40 61.44 88.73 60.14C93.07 58.84 98.84 54.94 100.87 57.54C102.89 60.14 102.89 72.85 100.87 75.74C98.84 78.63 93.07 74.73 88.73 74.87C84.40 75.01 77.18 78.19 74.87 76.60C72.56 75.01 72.56 68.08 74.87 65.34Z"/><path d="M75.74 77.47C77.76 78.77 84.55 79.92 88.73 83.54C92.92 87.15 98.84 97.69 100.87 99.13C102.89 100.58 102.74 95.38 100.87 92.20C98.99 89.02 93.65 82.81 89.60 80.07C85.56 77.33 78.91 76.17 76.60 75.74C74.29 75.30 73.71 76.17 75.74 77.47Z"/><path d="M47.14 118.20C47.43 115.74 55.23 120.80 59.27 119.06C63.32 117.33 68.95 106.21 71.40 107.80C73.86 109.39 74.29 121.09 74.00 128.60C73.71 136.11 73.86 148.82 69.67 152.86C65.48 156.90 50.90 156.04 48.87 152.86C46.85 149.68 57.83 139.57 57.54 133.80C57.25 128.02 46.85 120.65 47.14 118.20Z"/><path d="M44.54 116.46C43.24 119.64 36.02 125.13 31.54 128.60C27.07 132.06 22.30 134.95 17.68 137.26C13.06 139.57 6.12 142.89 3.81 142.46C1.50 142.03 1.50 136.83 3.81 134.66C6.12 132.50 13.06 132.06 17.68 129.46C22.30 126.86 27.93 122.39 31.54 119.06C35.15 115.74 37.18 109.97 39.34 109.53C41.51 109.10 45.84 113.29 44.54 116.46Z"/><path d="M31.54 93.93C29.38 97.11 22.30 97.83 17.68 99.13C13.06 100.43 6.12 104.19 3.81 101.73C1.50 99.28 1.50 87.29 3.81 84.40C6.12 81.51 13.20 85.12 17.68 84.40C22.15 83.68 28.37 78.48 30.68 80.07C32.99 81.66 33.71 90.76 31.54 93.93Z"/><path d="M30.68 79.20C28.65 77.61 22.15 76.89 17.68 73.14C13.20 69.38 6.12 57.83 3.81 56.67C1.50 55.52 1.50 62.59 3.81 66.20C6.12 69.82 13.34 75.59 17.68 78.34C22.01 81.08 27.64 82.52 29.81 82.67C31.98 82.81 32.70 80.79 30.68 79.20Z"/></g><g transform="translate(78.50 114.00) scale(0.1246) translate(-79 -64.7)" fill="#fff"><rect x="92.5" y="71.1" width="38.9" height="108.8"/><rect x="79" y="107.1" width="30" height="15.7"/><rect x="142.1" y="64.7" width="45.6" height="35"/><path d="M135.60 99.20L194.90 99.20L194.90 129.90L176.30 129.90L194.90 142.10L194.90 180.60L164.90 152.80L137.10 179.90L135.60 179.90L135.60 140.60L152.80 129.90L135.60 129.90Z"/><circle cx="97.1" cy="228.5" r="15.4"/><rect x="106.4" y="206.1" width="17.1" height="64"/><rect x="86.1" y="247.8" width="37.4" height="22"/><rect x="86.1" y="247.8" width="16" height="73.8"/><path d="M102.1 269.5 L111 269.5 A15.4 15.4 0 0 1 111 300.3 L102.1 300.3Z"/><path d="M128.20 206.10L187.70 206.10L187.70 271.30L157.80 258.20L128.20 271.30L128.20 247.80L167.00 229.20L128.20 229.20Z"/><rect x="149.2" y="269.9" width="16.4" height="28"/><rect x="135.6" y="277.1" width="44.3" height="15.9"/><rect x="121.1" y="297" width="73.5" height="24.6"/></g><rect x="79.8" y="128.2" width="11" height="2.6" fill="#a02832"/></g></g>
<rect x="864.3" y="487" width="1" height="146" fill="#2a6a70" opacity=".6"/>
<g transform="translate(666.70 905.00) scale(1.0112 0.9950)"><g><clipPath id="fc4"><rect width="107" height="160" rx="6.5"/></clipPath><g clip-path="url(#fc4)"><rect width="107" height="160" fill="#c4b5da"/><rect y="120" width="107" height="40" fill="#383e62"/><g stroke="#3a3030" stroke-width="0.35"><path d="M71.79 64.22L79.63 59.94L94.62 75.64L81.06 86.34Z" fill="#d4934e"/><path d="M87.5 79.9 C 96.8 92.8 79.6 98.5 66.8 111.3" fill="none" stroke="#9c2828" stroke-width="1.3"/><path d="M88.2 81.3 C 88.2 95.6 98.2 102.8 76.8 111.3" fill="none" stroke="#9c2828" stroke-width="1.3"/><ellipse cx="94.6" cy="94.9" rx="3" ry="4.2" fill="none" stroke="#9c2828" stroke-width="1.2"/><path d="M64.65 110.60L69.64 105.61L71.07 111.32Z" fill="#9c2828" stroke="none"/><path d="M73.93 112.74L77.49 107.04L79.63 112.74Z" fill="#9c2828" stroke="none"/><path d="M49.66 37.11L54.66 33.54L53.23 27.12L58.23 31.40L63.94 28.54L62.51 34.25L68.22 35.68L56.80 39.96Z" fill="#d4934e"/><path d="M45.38 49.95C46.33 45.67 51.09 41.27 55.37 38.53C59.65 35.80 66.55 33.78 71.07 33.54C75.59 33.30 79.75 34.61 82.49 37.11C85.22 39.60 87.25 44.48 87.48 48.52C87.72 52.57 86.65 58.04 83.92 61.37C81.18 64.70 75.35 66.84 71.07 68.50C66.79 70.17 61.80 72.07 58.23 71.36C54.66 70.64 51.81 67.79 49.66 64.22C47.52 60.65 44.43 54.23 45.38 49.95Z" fill="#d4934e"/><path d="M50.38 44.96C49.90 42.46 56.21 39.60 59.65 37.82C63.10 36.04 68.57 33.42 71.07 34.25C73.57 35.08 74.64 39.96 74.64 42.81C74.64 45.67 73.09 49.71 71.07 51.38C69.05 53.04 65.96 53.87 62.51 52.80C59.06 51.73 50.85 47.45 50.38 44.96Z" fill="#9c2828"/><ellipse cx="50.8" cy="59.9" rx="5.2" ry="10.5" transform="rotate(-35 50.8 59.9)" fill="#ead03c"/><ellipse cx="51.8" cy="60.7" rx="2.5" ry="6" transform="rotate(-35 51.8 60.7)" fill="#9c2828"/><ellipse cx="44.0" cy="70.6" rx="4.8" ry="9.3" transform="rotate(12 44.0 70.6)" fill="#ead03c"/><ellipse cx="38.2" cy="93.5" rx="6.2" ry="10.2" transform="rotate(-25 38.2 93.5)" fill="#ead03c"/></g><text x="16.2" y="45.0" font-size="15" font-weight="bold" fill="#fff" stroke="#fff" stroke-width="0.8" text-anchor="middle">小</text><text x="16.2" y="60.6" font-size="15" font-weight="bold" fill="#fff" stroke="#fff" stroke-width="0.8" text-anchor="middle">槌</text><rect x="10" y="33" width="1.2" height="26" fill="#fff" opacity=".55"/><text x="53.5" y="134.6" font-size="5.6" font-weight="bold" fill="#fff" text-anchor="middle" textLength="46" lengthAdjust="spacingAndGlyphs">山札を2枚引く。</text><text x="53.5" y="148.6" font-size="4.3" fill="#ddd" text-anchor="middle" textLength="36" lengthAdjust="spacingAndGlyphs">Draw 2 cards.</text></g></g></g>
<g transform="translate(827.50 912.50) scale(1.0000 1.0000)"><g><rect x="0" y="0" width="105.5" height="158.5" rx="7.5" fill="#fff"/><clipPath id="bk5"><rect x="5.6" y="7.3" width="94.4" height="143.9" rx="4.5"/></clipPath><rect x="5.6" y="7.3" width="94.4" height="143.9" rx="4.5" fill="#9c7850"/><g clip-path="url(#bk5)" fill="#fff" stroke="none"><ellipse cx="52.7" cy="80.1" rx="23.2" ry="40.5"/><path d="M35.88 5.55C40.50 1.50 57.39 3.24 60.14 5.55C62.88 7.86 54.22 13.63 52.34 19.41C50.46 25.19 50.61 35.59 48.87 40.21C47.14 44.83 44.11 45.41 41.94 47.14C39.77 48.87 37.46 53.50 35.88 50.61C34.29 47.72 32.41 37.32 32.41 29.81C32.41 22.30 31.25 9.59 35.88 5.55Z"/><path d="M59.27 40.21C60.14 37.46 65.63 30.96 69.67 27.21C73.71 23.45 78.34 20.42 83.54 17.68C88.73 14.93 97.98 10.31 100.87 10.75C103.76 11.18 103.76 17.53 100.87 20.28C97.98 23.02 88.45 24.75 83.54 27.21C78.63 29.66 74.58 32.26 71.40 35.01C68.23 37.75 66.49 42.81 64.47 43.67C62.45 44.54 58.41 42.95 59.27 40.21Z"/><path d="M74.87 65.34C77.18 62.59 84.40 61.44 88.73 60.14C93.07 58.84 98.84 54.94 100.87 57.54C102.89 60.14 102.89 72.85 100.87 75.74C98.84 78.63 93.07 74.73 88.73 74.87C84.40 75.01 77.18 78.19 74.87 76.60C72.56 75.01 72.56 68.08 74.87 65.34Z"/><path d="M75.74 77.47C77.76 78.77 84.55 79.92 88.73 83.54C92.92 87.15 98.84 97.69 100.87 99.13C102.89 100.58 102.74 95.38 100.87 92.20C98.99 89.02 93.65 82.81 89.60 80.07C85.56 77.33 78.91 76.17 76.60 75.74C74.29 75.30 73.71 76.17 75.74 77.47Z"/><path d="M47.14 118.20C47.43 115.74 55.23 120.80 59.27 119.06C63.32 117.33 68.95 106.21 71.40 107.80C73.86 109.39 74.29 121.09 74.00 128.60C73.71 136.11 73.86 148.82 69.67 152.86C65.48 156.90 50.90 156.04 48.87 152.86C46.85 149.68 57.83 139.57 57.54 133.80C57.25 128.02 46.85 120.65 47.14 118.20Z"/><path d="M44.54 116.46C43.24 119.64 36.02 125.13 31.54 128.60C27.07 132.06 22.30 134.95 17.68 137.26C13.06 139.57 6.12 142.89 3.81 142.46C1.50 142.03 1.50 136.83 3.81 134.66C6.12 132.50 13.06 132.06 17.68 129.46C22.30 126.86 27.93 122.39 31.54 119.06C35.15 115.74 37.18 109.97 39.34 109.53C41.51 109.10 45.84 113.29 44.54 116.46Z"/><path d="M31.54 93.93C29.38 97.11 22.30 97.83 17.68 99.13C13.06 100.43 6.12 104.19 3.81 101.73C1.50 99.28 1.50 87.29 3.81 84.40C6.12 81.51 13.20 85.12 17.68 84.40C22.15 83.68 28.37 78.48 30.68 80.07C32.99 81.66 33.71 90.76 31.54 93.93Z"/><path d="M30.68 79.20C28.65 77.61 22.15 76.89 17.68 73.14C13.20 69.38 6.12 57.83 3.81 56.67C1.50 55.52 1.50 62.59 3.81 66.20C6.12 69.82 13.34 75.59 17.68 78.34C22.01 81.08 27.64 82.52 29.81 82.67C31.98 82.81 32.70 80.79 30.68 79.20Z"/></g><g transform="translate(78.50 114.00) scale(0.1246) translate(-79 -64.7)" fill="#fff"><rect x="92.5" y="71.1" width="38.9" height="108.8"/><rect x="79" y="107.1" width="30" height="15.7"/><rect x="142.1" y="64.7" width="45.6" height="35"/><path d="M135.60 99.20L194.90 99.20L194.90 129.90L176.30 129.90L194.90 142.10L194.90 180.60L164.90 152.80L137.10 179.90L135.60 179.90L135.60 140.60L152.80 129.90L135.60 129.90Z"/><circle cx="97.1" cy="228.5" r="15.4"/><rect x="106.4" y="206.1" width="17.1" height="64"/><rect x="86.1" y="247.8" width="37.4" height="22"/><rect x="86.1" y="247.8" width="16" height="73.8"/><path d="M102.1 269.5 L111 269.5 A15.4 15.4 0 0 1 111 300.3 L102.1 300.3Z"/><path d="M128.20 206.10L187.70 206.10L187.70 271.30L157.80 258.20L128.20 271.30L128.20 247.80L167.00 229.20L128.20 229.20Z"/><rect x="149.2" y="269.9" width="16.4" height="28"/><rect x="135.6" y="277.1" width="44.3" height="15.9"/><rect x="121.1" y="297" width="73.5" height="24.6"/></g><rect x="79.8" y="128.2" width="11" height="2.6" fill="#a02832"/></g></g>
<g transform="translate(874.70 887.80) scale(1.0000 1.0000)"><g><rect x="0" y="0" width="105.5" height="158.5" rx="7.5" fill="#fff"/><clipPath id="bk6"><rect x="5.6" y="7.3" width="94.4" height="143.9" rx="4.5"/></clipPath><rect x="5.6" y="7.3" width="94.4" height="143.9" rx="4.5" fill="#4f9c94"/><g clip-path="url(#bk6)" fill="#fff" stroke="none"><ellipse cx="52.7" cy="80.1" rx="23.2" ry="40.5"/><path d="M35.88 5.55C40.50 1.50 57.39 3.24 60.14 5.55C62.88 7.86 54.22 13.63 52.34 19.41C50.46 25.19 50.61 35.59 48.87 40.21C47.14 44.83 44.11 45.41 41.94 47.14C39.77 48.87 37.46 53.50 35.88 50.61C34.29 47.72 32.41 37.32 32.41 29.81C32.41 22.30 31.25 9.59 35.88 5.55Z"/><path d="M59.27 40.21C60.14 37.46 65.63 30.96 69.67 27.21C73.71 23.45 78.34 20.42 83.54 17.68C88.73 14.93 97.98 10.31 100.87 10.75C103.76 11.18 103.76 17.53 100.87 20.28C97.98 23.02 88.45 24.75 83.54 27.21C78.63 29.66 74.58 32.26 71.40 35.01C68.23 37.75 66.49 42.81 64.47 43.67C62.45 44.54 58.41 42.95 59.27 40.21Z"/><path d="M74.87 65.34C77.18 62.59 84.40 61.44 88.73 60.14C93.07 58.84 98.84 54.94 100.87 57.54C102.89 60.14 102.89 72.85 100.87 75.74C98.84 78.63 93.07 74.73 88.73 74.87C84.40 75.01 77.18 78.19 74.87 76.60C72.56 75.01 72.56 68.08 74.87 65.34Z"/><path d="M75.74 77.47C77.76 78.77 84.55 79.92 88.73 83.54C92.92 87.15 98.84 97.69 100.87 99.13C102.89 100.58 102.74 95.38 100.87 92.20C98.99 89.02 93.65 82.81 89.60 80.07C85.56 77.33 78.91 76.17 76.60 75.74C74.29 75.30 73.71 76.17 75.74 77.47Z"/><path d="M47.14 118.20C47.43 115.74 55.23 120.80 59.27 119.06C63.32 117.33 68.95 106.21 71.40 107.80C73.86 109.39 74.29 121.09 74.00 128.60C73.71 136.11 73.86 148.82 69.67 152.86C65.48 156.90 50.90 156.04 48.87 152.86C46.85 149.68 57.83 139.57 57.54 133.80C57.25 128.02 46.85 120.65 47.14 118.20Z"/><path d="M44.54 116.46C43.24 119.64 36.02 125.13 31.54 128.60C27.07 132.06 22.30 134.95 17.68 137.26C13.06 139.57 6.12 142.89 3.81 142.46C1.50 142.03 1.50 136.83 3.81 134.66C6.12 132.50 13.06 132.06 17.68 129.46C22.30 126.86 27.93 122.39 31.54 119.06C35.15 115.74 37.18 109.97 39.34 109.53C41.51 109.10 45.84 113.29 44.54 116.46Z"/><path d="M31.54 93.93C29.38 97.11 22.30 97.83 17.68 99.13C13.06 100.43 6.12 104.19 3.81 101.73C1.50 99.28 1.50 87.29 3.81 84.40C6.12 81.51 13.20 85.12 17.68 84.40C22.15 83.68 28.37 78.48 30.68 80.07C32.99 81.66 33.71 90.76 31.54 93.93Z"/><path d="M30.68 79.20C28.65 77.61 22.15 76.89 17.68 73.14C13.20 69.38 6.12 57.83 3.81 56.67C1.50 55.52 1.50 62.59 3.81 66.20C6.12 69.82 13.34 75.59 17.68 78.34C22.01 81.08 27.64 82.52 29.81 82.67C31.98 82.81 32.70 80.79 30.68 79.20Z"/></g><g transform="translate(78.50 114.00) scale(0.1246) translate(-79 -64.7)" fill="#fff"><rect x="92.5" y="71.1" width="38.9" height="108.8"/><rect x="79" y="107.1" width="30" height="15.7"/><rect x="142.1" y="64.7" width="45.6" height="35"/><path d="M135.60 99.20L194.90 99.20L194.90 129.90L176.30 129.90L194.90 142.10L194.90 180.60L164.90 152.80L137.10 179.90L135.60 179.90L135.60 140.60L152.80 129.90L135.60 129.90Z"/><circle cx="97.1" cy="228.5" r="15.4"/><rect x="106.4" y="206.1" width="17.1" height="64"/><rect x="86.1" y="247.8" width="37.4" height="22"/><rect x="86.1" y="247.8" width="16" height="73.8"/><path d="M102.1 269.5 L111 269.5 A15.4 15.4 0 0 1 111 300.3 L102.1 300.3Z"/><path d="M128.20 206.10L187.70 206.10L187.70 271.30L157.80 258.20L128.20 271.30L128.20 247.80L167.00 229.20L128.20 229.20Z"/><rect x="149.2" y="269.9" width="16.4" height="28"/><rect x="135.6" y="277.1" width="44.3" height="15.9"/><rect x="121.1" y="297" width="73.5" height="24.6"/></g><rect x="79.8" y="128.2" width="11" height="2.6" fill="#a02832"/></g></g>
<rect x="874" y="895" width="1" height="146" fill="#2a6a70" opacity=".6"/>
<text x="636" y="507" font-size="23" fill="#fff">c</text>
<text x="748" y="490" font-size="23" fill="#fff">d</text>
<text x="636" y="552" font-size="23" fill="#fff">a</text>
<text x="636" y="647" font-size="23" fill="#fff">b</text>
<text x="642" y="958.5" font-size="23" fill="#fff">a</text>
<text x="642" y="1054" font-size="23" fill="#fff">b</text>
<path d="M117.00 696.90L168.40 696.90L174.50 713.40L110.30 713.40Z" fill="#a0433a"/>
<path d="M110.3 713.4 H174.5 L179.2 722.5 Q179.5 723.8 178 723.8 H106.3 Q104.8 723.8 105.2 722.5Z" fill="#c48a86"/>
<ellipse cx="142.7" cy="712" rx="18.3" ry="3.4" fill="#742e26"/>
<path d="M145.15 648.00C146.36 648.20 147.91 649.68 148.14 650.67C148.37 651.66 146.57 652.79 146.50 653.93C146.43 655.07 146.73 656.34 147.73 657.49C148.73 658.63 151.50 659.53 152.49 660.81C153.48 662.08 153.65 663.80 153.68 665.14C153.70 666.47 151.82 667.08 152.65 668.81C153.48 670.54 157.03 672.98 158.64 675.52C160.24 678.06 161.57 681.41 162.28 684.05C163.00 686.70 163.21 688.96 162.90 691.41C162.59 693.86 161.77 696.56 160.44 698.76C159.11 700.96 157.90 703.21 154.95 704.63C151.99 706.05 146.77 707.30 142.69 707.30C138.61 707.30 133.52 706.05 130.47 704.63C127.41 703.21 125.79 700.96 124.36 698.76C122.93 696.56 122.21 694.06 121.90 691.41C121.59 688.76 121.80 685.72 122.52 682.87C123.23 680.01 124.63 676.82 126.16 674.27C127.69 671.72 130.36 669.40 131.70 667.57C133.04 665.74 133.83 664.83 134.20 663.30C134.57 661.77 133.52 660.01 133.91 658.38C134.31 656.75 135.42 655.00 136.58 653.51C137.74 652.03 139.45 650.40 140.88 649.48C142.31 648.56 143.94 647.80 145.15 648.00Z" fill="#fff"/>
<path d="M142.61 674.90C144.21 675.01 145.93 679.93 147.32 682.23C148.71 684.52 150.73 686.55 150.94 688.66C151.15 690.77 150.03 693.47 148.58 694.88C147.14 696.29 144.36 697.10 142.25 697.10C140.14 697.10 137.36 696.29 135.91 694.88C134.47 693.47 133.26 690.88 133.56 688.66C133.86 686.44 136.22 683.85 137.72 681.56C139.23 679.27 141.01 674.79 142.61 674.90Z" fill="#edd820"/>
<path d="M122.50 778.20L175.10 778.20L179.40 793.90L114.60 793.90Z" fill="#4a4a9e"/>
<path d="M114.6 793.9 H179.4 L182.1 801.5 Q182.4 802.7 181 802.7 H111 Q109.4 802.7 109.8 801.5Z" fill="#9488c0"/>
<path d="M160.63 732.40C161.66 732.56 162.98 733.77 163.17 734.57C163.36 735.38 161.84 736.30 161.78 737.23C161.72 738.16 161.98 739.19 162.82 740.13C163.67 741.06 166.02 741.79 166.86 742.83C167.70 743.87 167.85 745.27 167.87 746.36C167.89 747.45 166.30 747.94 167.00 749.35C167.70 750.76 170.72 752.74 172.08 754.81C173.44 756.88 174.57 759.61 175.18 761.77C175.78 763.92 175.96 765.76 175.70 767.76C175.44 769.75 174.74 771.95 173.61 773.74C172.49 775.54 171.46 777.37 168.95 778.53C166.44 779.69 162.01 780.70 158.54 780.70C155.08 780.70 150.77 779.69 148.17 778.53C145.58 777.37 144.20 775.54 142.99 773.74C141.78 771.95 141.16 769.91 140.90 767.76C140.64 765.60 140.82 763.13 141.42 760.80C142.03 758.47 143.22 755.87 144.52 753.80C145.82 751.72 148.08 749.83 149.22 748.34C150.35 746.85 151.03 746.11 151.34 744.86C151.65 743.61 150.76 742.18 151.10 740.85C151.43 739.52 152.37 738.10 153.36 736.89C154.34 735.68 155.80 734.36 157.01 733.61C158.22 732.86 159.60 732.24 160.63 732.40Z" fill="#fff"/>
<path d="M158.44 755.00C159.70 755.09 161.06 758.88 162.15 760.64C163.25 762.41 164.85 763.98 165.01 765.60C165.18 767.23 164.30 769.31 163.16 770.39C162.01 771.47 159.82 772.10 158.15 772.10C156.48 772.10 154.29 771.47 153.15 770.39C152.00 769.31 151.05 767.31 151.29 765.60C151.52 763.89 153.38 761.90 154.57 760.13C155.77 758.36 157.17 754.91 158.44 755.00Z" fill="#edd820"/>
<path d="M112.3 751.3 H131.7 V744.6 L147.8 759.3 L131.7 774.6 V767.8 H121.7 V777.6 H111.1 V752.5 Q111.1 751.3 112.3 751.3Z M111.1 781.3 H121.7 V786.2 Q121.7 787.4 120.5 787.4 H111.1Z" fill="#b8509a"/>
<rect x="59.6" y="1085.5" width="1074.4" height="362" rx="7" fill="none" stroke="#fff" stroke-width="3.1"/>
<rect x="248.4" y="1097.4" width="252.8" height="248.3" fill="none" stroke="#111" stroke-width="1.9" stroke-dasharray="6 5" stroke-dashoffset="3"/>
<rect x="368.8" y="1112.8" width="99.3" height="68.5" fill="none" stroke="#111" stroke-width="1.9" stroke-dasharray="6 5" stroke-dashoffset="3"/>
<rect x="260.9" y="1188.2" width="98.8" height="67.3" fill="none" stroke="#111" stroke-width="1.9" stroke-dasharray="6 5" stroke-dashoffset="3"/>
<rect x="368.8" y="1188.2" width="99.3" height="67.3" fill="none" stroke="#111" stroke-width="1.9" stroke-dasharray="6 5" stroke-dashoffset="3"/>
<rect x="368.8" y="1263.0" width="99.3" height="68.4" fill="none" stroke="#111" stroke-width="1.9" stroke-dasharray="6 5" stroke-dashoffset="3"/>
<rect x="248.4" y="1353.7" width="121.6" height="84.5" fill="none" stroke="#111" stroke-width="1.9" stroke-dasharray="6 5" stroke-dashoffset="3"/>
<rect x="678.3" y="1097.4" width="252.7" height="249.5" fill="none" stroke="#111" stroke-width="1.9" stroke-dasharray="6 5" stroke-dashoffset="3"/>
<rect x="716.0" y="1113.9" width="100.1" height="67.0" fill="none" stroke="#111" stroke-width="1.9" stroke-dasharray="6 5" stroke-dashoffset="3"/>
<rect x="716.0" y="1188.2" width="100.1" height="67.5" fill="none" stroke="#111" stroke-width="1.9" stroke-dasharray="6 5" stroke-dashoffset="3"/>
<rect x="821.2" y="1188.2" width="98.5" height="67.5" fill="none" stroke="#111" stroke-width="1.9" stroke-dasharray="6 5" stroke-dashoffset="3"/>
<rect x="716.0" y="1264.1" width="99.0" height="67.6" fill="none" stroke="#111" stroke-width="1.9" stroke-dasharray="6 5" stroke-dashoffset="3"/>
<rect x="810.5" y="1354.2" width="122.1" height="84.4" fill="none" stroke="#111" stroke-width="1.9" stroke-dasharray="6 5" stroke-dashoffset="3"/>
<g transform="translate(501.2 1352.6) rotate(90) scale(0.7634)"><g><rect x="0" y="0" width="105.5" height="158.5" rx="7.5" fill="#fff"/><clipPath id="bk1"><rect x="5.6" y="7.3" width="94.4" height="143.9" rx="4.5"/></clipPath><rect x="5.6" y="7.3" width="94.4" height="143.9" rx="4.5" fill="#4f9c94"/><g clip-path="url(#bk1)" fill="#fff" stroke="none"><ellipse cx="52.7" cy="80.1" rx="23.2" ry="40.5"/><path d="M35.88 5.55C40.50 1.50 57.39 3.24 60.14 5.55C62.88 7.86 54.22 13.63 52.34 19.41C50.46 25.19 50.61 35.59 48.87 40.21C47.14 44.83 44.11 45.41 41.94 47.14C39.77 48.87 37.46 53.50 35.88 50.61C34.29 47.72 32.41 37.32 32.41 29.81C32.41 22.30 31.25 9.59 35.88 5.55Z"/><path d="M59.27 40.21C60.14 37.46 65.63 30.96 69.67 27.21C73.71 23.45 78.34 20.42 83.54 17.68C88.73 14.93 97.98 10.31 100.87 10.75C103.76 11.18 103.76 17.53 100.87 20.28C97.98 23.02 88.45 24.75 83.54 27.21C78.63 29.66 74.58 32.26 71.40 35.01C68.23 37.75 66.49 42.81 64.47 43.67C62.45 44.54 58.41 42.95 59.27 40.21Z"/><path d="M74.87 65.34C77.18 62.59 84.40 61.44 88.73 60.14C93.07 58.84 98.84 54.94 100.87 57.54C102.89 60.14 102.89 72.85 100.87 75.74C98.84 78.63 93.07 74.73 88.73 74.87C84.40 75.01 77.18 78.19 74.87 76.60C72.56 75.01 72.56 68.08 74.87 65.34Z"/><path d="M75.74 77.47C77.76 78.77 84.55 79.92 88.73 83.54C92.92 87.15 98.84 97.69 100.87 99.13C102.89 100.58 102.74 95.38 100.87 92.20C98.99 89.02 93.65 82.81 89.60 80.07C85.56 77.33 78.91 76.17 76.60 75.74C74.29 75.30 73.71 76.17 75.74 77.47Z"/><path d="M47.14 118.20C47.43 115.74 55.23 120.80 59.27 119.06C63.32 117.33 68.95 106.21 71.40 107.80C73.86 109.39 74.29 121.09 74.00 128.60C73.71 136.11 73.86 148.82 69.67 152.86C65.48 156.90 50.90 156.04 48.87 152.86C46.85 149.68 57.83 139.57 57.54 133.80C57.25 128.02 46.85 120.65 47.14 118.20Z"/><path d="M44.54 116.46C43.24 119.64 36.02 125.13 31.54 128.60C27.07 132.06 22.30 134.95 17.68 137.26C13.06 139.57 6.12 142.89 3.81 142.46C1.50 142.03 1.50 136.83 3.81 134.66C6.12 132.50 13.06 132.06 17.68 129.46C22.30 126.86 27.93 122.39 31.54 119.06C35.15 115.74 37.18 109.97 39.34 109.53C41.51 109.10 45.84 113.29 44.54 116.46Z"/><path d="M31.54 93.93C29.38 97.11 22.30 97.83 17.68 99.13C13.06 100.43 6.12 104.19 3.81 101.73C1.50 99.28 1.50 87.29 3.81 84.40C6.12 81.51 13.20 85.12 17.68 84.40C22.15 83.68 28.37 78.48 30.68 80.07C32.99 81.66 33.71 90.76 31.54 93.93Z"/><path d="M30.68 79.20C28.65 77.61 22.15 76.89 17.68 73.14C13.20 69.38 6.12 57.83 3.81 56.67C1.50 55.52 1.50 62.59 3.81 66.20C6.12 69.82 13.34 75.59 17.68 78.34C22.01 81.08 27.64 82.52 29.81 82.67C31.98 82.81 32.70 80.79 30.68 79.20Z"/></g><g transform="translate(78.50 114.00) scale(0.1246) translate(-79 -64.7)" fill="#fff"><rect x="92.5" y="71.1" width="38.9" height="108.8"/><rect x="79" y="107.1" width="30" height="15.7"/><rect x="142.1" y="64.7" width="45.6" height="35"/><path d="M135.60 99.20L194.90 99.20L194.90 129.90L176.30 129.90L194.90 142.10L194.90 180.60L164.90 152.80L137.10 179.90L135.60 179.90L135.60 140.60L152.80 129.90L135.60 129.90Z"/><circle cx="97.1" cy="228.5" r="15.4"/><rect x="106.4" y="206.1" width="17.1" height="64"/><rect x="86.1" y="247.8" width="37.4" height="22"/><rect x="86.1" y="247.8" width="16" height="73.8"/><path d="M102.1 269.5 L111 269.5 A15.4 15.4 0 0 1 111 300.3 L102.1 300.3Z"/><path d="M128.20 206.10L187.70 206.10L187.70 271.30L157.80 258.20L128.20 271.30L128.20 247.80L167.00 229.20L128.20 229.20Z"/><rect x="149.2" y="269.9" width="16.4" height="28"/><rect x="135.6" y="277.1" width="44.3" height="15.9"/><rect x="121.1" y="297" width="73.5" height="24.6"/></g><rect x="79.8" y="128.2" width="11" height="2.6" fill="#a02832"/></g></g>
<g transform="translate(683.9 1433) rotate(-90) scale(0.7634)"><g><rect x="0" y="0" width="105.5" height="158.5" rx="7.5" fill="#fff"/><clipPath id="bk2"><rect x="5.6" y="7.3" width="94.4" height="143.9" rx="4.5"/></clipPath><rect x="5.6" y="7.3" width="94.4" height="143.9" rx="4.5" fill="#9c7850"/><g clip-path="url(#bk2)" fill="#fff" stroke="none"><ellipse cx="52.7" cy="80.1" rx="23.2" ry="40.5"/><path d="M35.88 5.55C40.50 1.50 57.39 3.24 60.14 5.55C62.88 7.86 54.22 13.63 52.34 19.41C50.46 25.19 50.61 35.59 48.87 40.21C47.14 44.83 44.11 45.41 41.94 47.14C39.77 48.87 37.46 53.50 35.88 50.61C34.29 47.72 32.41 37.32 32.41 29.81C32.41 22.30 31.25 9.59 35.88 5.55Z"/><path d="M59.27 40.21C60.14 37.46 65.63 30.96 69.67 27.21C73.71 23.45 78.34 20.42 83.54 17.68C88.73 14.93 97.98 10.31 100.87 10.75C103.76 11.18 103.76 17.53 100.87 20.28C97.98 23.02 88.45 24.75 83.54 27.21C78.63 29.66 74.58 32.26 71.40 35.01C68.23 37.75 66.49 42.81 64.47 43.67C62.45 44.54 58.41 42.95 59.27 40.21Z"/><path d="M74.87 65.34C77.18 62.59 84.40 61.44 88.73 60.14C93.07 58.84 98.84 54.94 100.87 57.54C102.89 60.14 102.89 72.85 100.87 75.74C98.84 78.63 93.07 74.73 88.73 74.87C84.40 75.01 77.18 78.19 74.87 76.60C72.56 75.01 72.56 68.08 74.87 65.34Z"/><path d="M75.74 77.47C77.76 78.77 84.55 79.92 88.73 83.54C92.92 87.15 98.84 97.69 100.87 99.13C102.89 100.58 102.74 95.38 100.87 92.20C98.99 89.02 93.65 82.81 89.60 80.07C85.56 77.33 78.91 76.17 76.60 75.74C74.29 75.30 73.71 76.17 75.74 77.47Z"/><path d="M47.14 118.20C47.43 115.74 55.23 120.80 59.27 119.06C63.32 117.33 68.95 106.21 71.40 107.80C73.86 109.39 74.29 121.09 74.00 128.60C73.71 136.11 73.86 148.82 69.67 152.86C65.48 156.90 50.90 156.04 48.87 152.86C46.85 149.68 57.83 139.57 57.54 133.80C57.25 128.02 46.85 120.65 47.14 118.20Z"/><path d="M44.54 116.46C43.24 119.64 36.02 125.13 31.54 128.60C27.07 132.06 22.30 134.95 17.68 137.26C13.06 139.57 6.12 142.89 3.81 142.46C1.50 142.03 1.50 136.83 3.81 134.66C6.12 132.50 13.06 132.06 17.68 129.46C22.30 126.86 27.93 122.39 31.54 119.06C35.15 115.74 37.18 109.97 39.34 109.53C41.51 109.10 45.84 113.29 44.54 116.46Z"/><path d="M31.54 93.93C29.38 97.11 22.30 97.83 17.68 99.13C13.06 100.43 6.12 104.19 3.81 101.73C1.50 99.28 1.50 87.29 3.81 84.40C6.12 81.51 13.20 85.12 17.68 84.40C22.15 83.68 28.37 78.48 30.68 80.07C32.99 81.66 33.71 90.76 31.54 93.93Z"/><path d="M30.68 79.20C28.65 77.61 22.15 76.89 17.68 73.14C13.20 69.38 6.12 57.83 3.81 56.67C1.50 55.52 1.50 62.59 3.81 66.20C6.12 69.82 13.34 75.59 17.68 78.34C22.01 81.08 27.64 82.52 29.81 82.67C31.98 82.81 32.70 80.79 30.68 79.20Z"/></g><g transform="translate(78.50 114.00) scale(0.1246) translate(-79 -64.7)" fill="#fff"><rect x="92.5" y="71.1" width="38.9" height="108.8"/><rect x="79" y="107.1" width="30" height="15.7"/><rect x="142.1" y="64.7" width="45.6" height="35"/><path d="M135.60 99.20L194.90 99.20L194.90 129.90L176.30 129.90L194.90 142.10L194.90 180.60L164.90 152.80L137.10 179.90L135.60 179.90L135.60 140.60L152.80 129.90L135.60 129.90Z"/><circle cx="97.1" cy="228.5" r="15.4"/><rect x="106.4" y="206.1" width="17.1" height="64"/><rect x="86.1" y="247.8" width="37.4" height="22"/><rect x="86.1" y="247.8" width="16" height="73.8"/><path d="M102.1 269.5 L111 269.5 A15.4 15.4 0 0 1 111 300.3 L102.1 300.3Z"/><path d="M128.20 206.10L187.70 206.10L187.70 271.30L157.80 258.20L128.20 271.30L128.20 247.80L167.00 229.20L128.20 229.20Z"/><rect x="149.2" y="269.9" width="16.4" height="28"/><rect x="135.6" y="277.1" width="44.3" height="15.9"/><rect x="121.1" y="297" width="73.5" height="24.6"/></g><rect x="79.8" y="128.2" width="11" height="2.6" fill="#a02832"/></g></g>
<path d="M515.4 1092.8 H585.3 V1346.5 H515.4Z" fill="#2d9e8f"/>
<path d="M528.4 1092.8 H583 Q585.3 1092.8 585.3 1095 V1344 Q585.3 1346.5 583 1346.5 H528.4Z" fill="#2d9e8f"/>
<path d="M512.8 1095 Q512.8 1092.8 515 1092.8 H528.4 V1346.5 H515 Q512.8 1346.5 512.8 1344 V1338 H515.4 V1261 H512.8 V1254 H515.4 V1181 H512.8 V1174 H515.4 V1101 H512.8Z" fill="#b9e1e1"/>
<path d="M540 1118 V1223.4" stroke="#9c2832" stroke-width="2.2" fill="none"/>
<path d="M540 1223.4 V1338.5 H551" stroke="#e8962e" stroke-width="2" fill="none"/>
<path d="M551 1338.5 H560.6 V1223.4" stroke="#e8d838" stroke-width="2" fill="none"/>
<path d="M560.6 1223.4 V1138" stroke="#90d060" stroke-width="2" fill="none"/>
<text transform="translate(544 1120.6) rotate(90)" font-size="11.5" fill="#fff" text-anchor="middle">0</text>
<text transform="translate(544 1147.4) rotate(90)" font-size="11.5" fill="#fff" text-anchor="middle">1</text>
<text transform="translate(563.8 1147.4) rotate(90)" font-size="11.5" fill="#fff" text-anchor="middle">14</text>
<text transform="translate(544 1174.2) rotate(90)" font-size="11.5" fill="#fff" text-anchor="middle">2</text>
<text transform="translate(563.8 1174.2) rotate(90)" font-size="11.5" fill="#fff" text-anchor="middle">13</text>
<text transform="translate(544 1201.0) rotate(90)" font-size="11.5" fill="#fff" text-anchor="middle">3</text>
<text transform="translate(563.8 1201.0) rotate(90)" font-size="11.5" fill="#fff" text-anchor="middle">12</text>
<text transform="translate(544 1242.7) rotate(90)" font-size="11.5" fill="#fff" text-anchor="middle">4</text>
<text transform="translate(563.8 1242.7) rotate(90)" font-size="11.5" fill="#fff" text-anchor="middle">11</text>
<text transform="translate(544 1269.5) rotate(90)" font-size="11.5" fill="#fff" text-anchor="middle">5</text>
<text transform="translate(563.8 1269.5) rotate(90)" font-size="11.5" fill="#fff" text-anchor="middle">10</text>
<text transform="translate(544 1296.2) rotate(90)" font-size="11.5" fill="#fff" text-anchor="middle">6</text>
<text transform="translate(563.8 1296.2) rotate(90)" font-size="11.5" fill="#fff" text-anchor="middle">9</text>
<text transform="translate(544 1323.0) rotate(90)" font-size="11.5" fill="#fff" text-anchor="middle">7</text>
<text transform="translate(563.8 1323.0) rotate(90)" font-size="11.5" fill="#fff" text-anchor="middle">8</text>
<path d="M518.8 1138.9 l5 -3.8 v7.6z" fill="#a02838"/>
<path d="M518.8 1214.9 l5 -3.8 v7.6z" fill="#a02838"/>
<path d="M518.8 1297.7 l5 -3.8 v7.6z" fill="#a02838"/>
<circle cx="568.8" cy="1118.8" r="21.6" fill="#b9e1e1" stroke="#d0706a" stroke-width="1.2"/>
<rect x="560.5" y="1109.3" width="16.4" height="18.2" fill="#2d9e8f" stroke="#e09a98" stroke-width="1.2"/>
<text transform="translate(565 1118.6) rotate(90)" font-size="9.5" fill="#fff" text-anchor="middle">15</text>
<path d="M598.3 1092.8 H652 V1346.5 H598.3 Q594.3 1346.5 594.3 1342.5 V1096.8 Q594.3 1092.8 598.3 1092.8Z" fill="#9c7848"/>
<path d="M652 1092.8 H664.5 Q666.7 1092.8 666.7 1095 V1101 H664.2 V1174 H666.7 V1181 H664.2 V1254 H666.7 V1261 H664.2 V1338 H666.7 V1344 Q666.7 1346.5 664.5 1346.5 H652Z" fill="#c8a878"/>
<path d="M619.5 1213.8 V1100.3 H630" stroke="#e8d838" stroke-width="2" fill="none"/>
<path d="M630 1100.3 H640.9 V1213.8" stroke="#e8962e" stroke-width="2" fill="none"/>
<path d="M640.9 1213.8 V1322" stroke="#9c2832" stroke-width="2.2" fill="none"/>
<path d="M619.5 1213.8 V1300" stroke="#90d060" stroke-width="2" fill="none"/>
<text transform="translate(616.8 1115.3) rotate(-90)" font-size="11.5" fill="#fff" text-anchor="middle">8</text>
<text transform="translate(616.8 1143.2) rotate(-90)" font-size="11.5" fill="#fff" text-anchor="middle">9</text>
<text transform="translate(616.8 1167.8) rotate(-90)" font-size="11.5" fill="#fff" text-anchor="middle">10</text>
<text transform="translate(616.8 1195.6) rotate(-90)" font-size="11.5" fill="#fff" text-anchor="middle">11</text>
<text transform="translate(616.8 1235.2) rotate(-90)" font-size="11.5" fill="#fff" text-anchor="middle">12</text>
<text transform="translate(616.8 1263.0) rotate(-90)" font-size="11.5" fill="#fff" text-anchor="middle">13</text>
<text transform="translate(616.8 1290.9) rotate(-90)" font-size="11.5" fill="#fff" text-anchor="middle">14</text>
<text transform="translate(637 1115.3) rotate(-90)" font-size="11.5" fill="#fff" text-anchor="middle">7</text>
<text transform="translate(637 1143.2) rotate(-90)" font-size="11.5" fill="#fff" text-anchor="middle">6</text>
<text transform="translate(637 1169.9) rotate(-90)" font-size="11.5" fill="#fff" text-anchor="middle">5</text>
<text transform="translate(637 1196.7) rotate(-90)" font-size="11.5" fill="#fff" text-anchor="middle">4</text>
<text transform="translate(637 1237.4) rotate(-90)" font-size="11.5" fill="#fff" text-anchor="middle">3</text>
<text transform="translate(637 1264.1) rotate(-90)" font-size="11.5" fill="#fff" text-anchor="middle">2</text>
<text transform="translate(637 1293.0) rotate(-90)" font-size="11.5" fill="#fff" text-anchor="middle">1</text>
<text transform="translate(637 1318.7) rotate(-90)" font-size="11.5" fill="#fff" text-anchor="middle">0</text>
<path d="M662 1141.4 l-5 -3.8 v7.6z" fill="#a02838"/>
<path d="M662 1223.0 l-5 -3.8 v7.6z" fill="#a02838"/>
<path d="M662 1299.4 l-5 -3.8 v7.6z" fill="#a02838"/>
<circle cx="611.4" cy="1318.7" r="21.6" fill="#c8a878" stroke="#7a6a80" stroke-width="1.3"/>
<rect x="603" y="1309.5" width="16.4" height="18.2" fill="#c8a878" stroke="#8a7aa0" stroke-width="1.2"/>
<text transform="translate(614.6 1318.8) rotate(-90)" font-size="9.5" fill="#fff" text-anchor="middle">15</text>
<g transform="translate(148.20 1163.00) rotate(77.80) scale(0.7617 0.7969) translate(-53.5 -80)"><g><clipPath id="fc1"><rect width="107" height="160" rx="6.5"/></clipPath><g clip-path="url(#fc1)"><rect width="107" height="160" fill="#c8a478"/><rect y="120" width="107" height="40" fill="#383e62"/><text x="16.2" y="45.0" font-size="15" font-weight="bold" fill="#fff" stroke="#fff" stroke-width="0.8" text-anchor="middle">呪</text><text x="16.2" y="60.6" font-size="15" font-weight="bold" fill="#fff" stroke="#fff" stroke-width="0.8" text-anchor="middle">符</text><rect x="10" y="33" width="1.2" height="26" fill="#fff" opacity=".55"/><text x="8" y="129.0" font-size="5.6" font-weight="bold" fill="#fff" textLength="92.0" lengthAdjust="spacingAndGlyphs">自分の場の妖怪1体に置かれたヒト</text><text x="8" y="135.3" font-size="5.6" font-weight="bold" fill="#fff" textLength="64.9" lengthAdjust="spacingAndGlyphs">ダマ1個を手札に戻す。</text><text x="8" y="143.5" font-size="4.3" fill="#ccd" textLength="77.0" lengthAdjust="spacingAndGlyphs">Move 1 hitodama from a yokai</text><text x="8" y="148.5" font-size="4.3" fill="#ccd" textLength="46.8" lengthAdjust="spacingAndGlyphs">to another yokai.</text></g></g></g><clipPath id="hc1"><rect width="107" height="160" rx="6.5" transform="translate(148.20 1163.00) rotate(77.80) scale(0.7617 0.7969) translate(-53.5 -80)"/></clipPath><g clip-path="url(#hc1)"><g stroke="#3a3030" stroke-width="0.3"><path d="M130.02 1169.81L161.34 1170.46L162.15 1176.66L130.68 1176.66Z" fill="#fff"/><path d="M132.80 1157.90L163.79 1144.36L169.82 1155.46L138.83 1169.32Z" fill="#fff"/></g><path d="M137.69 1159.53C138.37 1160.08 140.54 1162.93 141.77 1162.80C142.99 1162.66 143.81 1158.99 145.03 1158.72C146.25 1158.45 147.88 1161.57 149.11 1161.16C150.33 1160.76 151.28 1156.68 152.37 1156.27C153.46 1155.86 155.09 1158.31 155.63 1158.72" fill="none" stroke="#1f7a70" stroke-width="1.6"/><path d="M158.1 1150.6 L166.2 1156.3 M160.5 1148.9 L163.8 1154.6 M163.8 1147.6 L159.4 1156.3" stroke="#1f7a70" stroke-width="1.3"/><path d="M166.23 1156.27C166.78 1155.32 169.49 1154.78 171.13 1154.64C172.76 1154.50 173.84 1154.78 176.02 1155.46C178.19 1156.14 183.90 1157.77 184.17 1158.72C184.45 1159.67 179.82 1160.62 177.65 1161.16C175.47 1161.71 172.76 1162.12 171.13 1161.98C169.49 1161.84 168.68 1161.30 167.86 1160.35C167.05 1159.40 165.69 1157.22 166.23 1156.27Z" fill="#2a9a8c"/></g>
<g transform="translate(153.90 1213.50) rotate(86.15) scale(0.7617 0.7969) translate(-53.5 -80)"><g><clipPath id="fc2"><rect width="107" height="160" rx="6.5"/></clipPath><g clip-path="url(#fc2)"><rect width="107" height="160" fill="#e8dc90"/><rect y="120" width="107" height="40" fill="#383e62"/><text x="16.2" y="45.0" font-size="15" font-weight="bold" fill="#fff" stroke="#fff" stroke-width="0.8" text-anchor="middle">扇</text><rect x="10" y="33" width="1.2" height="26" fill="#fff" opacity=".55"/><text x="8" y="129.0" font-size="5.6" font-weight="bold" fill="#fff" textLength="92.0" lengthAdjust="spacingAndGlyphs">場の妖怪1体のヒトダマ1個を別の</text><text x="8" y="135.3" font-size="5.6" font-weight="bold" fill="#fff" textLength="47.2" lengthAdjust="spacingAndGlyphs">妖怪に移動する。</text><text x="8" y="143.5" font-size="4.3" fill="#ccd" textLength="77.0" lengthAdjust="spacingAndGlyphs">Move 1 hitodama from a yokai</text><text x="8" y="148.5" font-size="4.3" fill="#ccd" textLength="46.8" lengthAdjust="spacingAndGlyphs">to another yokai.</text></g></g></g><clipPath id="hc2"><rect width="107" height="160" rx="6.5" transform="translate(153.90 1213.50) rotate(86.15) scale(0.7617 0.7969) translate(-53.5 -80)"/></clipPath><g clip-path="url(#hc2)"><g stroke="#3a3030" stroke-width="0.3"><path d="M128.22 1199.07L135.05 1196.28L142.30 1194.93L149.68 1195.06L156.88 1196.67L163.60 1199.69L169.59 1204.01L174.58 1209.44L178.38 1215.76L180.83 1222.72L181.83 1230.03L168.84 1230.48L168.20 1225.77L166.62 1221.29L164.17 1217.22L160.96 1213.73L157.10 1210.95L152.77 1209.00L148.14 1207.97L143.39 1207.88L138.72 1208.76L134.32 1210.55Z" fill="#3c8ed0"/><path d="M134.32 1210.55L138.72 1208.76L143.39 1207.88L148.14 1207.97L152.77 1209.00L157.10 1210.95L160.96 1213.73L164.17 1217.22L166.62 1221.29L168.20 1225.77L168.84 1230.48L159.35 1230.81L158.96 1228.01L158.02 1225.34L156.56 1222.91L154.65 1220.83L152.35 1219.18L149.77 1218.02L147.01 1217.40L144.18 1217.35L141.40 1217.87L138.78 1218.94Z" fill="#fff"/><path d="M145.4 1231.3 L138.8 1218.9" stroke="#8a6a30" stroke-width="0.5"/><path d="M134.3 1210.6 L128.2 1199.1" stroke="#2a5a90" stroke-width="0.35"/><path d="M145.4 1231.3 L141.4 1217.9" stroke="#8a6a30" stroke-width="0.5"/><path d="M138.7 1208.8 L135.0 1196.3" stroke="#2a5a90" stroke-width="0.35"/><path d="M145.4 1231.3 L144.2 1217.3" stroke="#8a6a30" stroke-width="0.5"/><path d="M143.4 1207.9 L142.3 1194.9" stroke="#2a5a90" stroke-width="0.35"/><path d="M145.4 1231.3 L147.0 1217.4" stroke="#8a6a30" stroke-width="0.5"/><path d="M148.1 1208.0 L149.7 1195.1" stroke="#2a5a90" stroke-width="0.35"/><path d="M145.4 1231.3 L149.8 1218.0" stroke="#8a6a30" stroke-width="0.5"/><path d="M152.8 1209.0 L156.9 1196.7" stroke="#2a5a90" stroke-width="0.35"/><path d="M145.4 1231.3 L152.4 1219.2" stroke="#8a6a30" stroke-width="0.5"/><path d="M157.1 1210.9 L163.6 1199.7" stroke="#2a5a90" stroke-width="0.35"/><path d="M145.4 1231.3 L154.6 1220.8" stroke="#8a6a30" stroke-width="0.5"/><path d="M161.0 1213.7 L169.6 1204.0" stroke="#2a5a90" stroke-width="0.35"/><path d="M145.4 1231.3 L156.6 1222.9" stroke="#8a6a30" stroke-width="0.5"/><path d="M164.2 1217.2 L174.6 1209.4" stroke="#2a5a90" stroke-width="0.35"/><path d="M145.4 1231.3 L158.0 1225.3" stroke="#8a6a30" stroke-width="0.5"/><path d="M166.6 1221.3 L178.4 1215.8" stroke="#2a5a90" stroke-width="0.35"/><path d="M145.4 1231.3 L159.0 1228.0" stroke="#8a6a30" stroke-width="0.5"/><path d="M168.2 1225.8 L180.8 1222.7" stroke="#2a5a90" stroke-width="0.35"/><path d="M145.4 1231.3 L159.3 1230.8" stroke="#8a6a30" stroke-width="0.5"/><path d="M168.8 1230.5 L181.8 1230.0" stroke="#2a5a90" stroke-width="0.35"/><ellipse cx="176.8" cy="1230.5" rx="6" ry="4" fill="#fff"/></g></g>
<g transform="translate(157.70 1277.00) rotate(94.00) scale(0.7617 0.7969) translate(-53.5 -80)"><g><clipPath id="fc3"><rect width="107" height="160" rx="6.5"/></clipPath><g clip-path="url(#fc3)"><rect width="107" height="160" fill="#7c9850"/><rect y="120" width="107" height="40" fill="#d3d1d1"/><text x="3.5" y="25.2" font-size="31" font-weight="bold" fill="#fff" stroke="#fff" stroke-width="0.8">1</text><g><path d="M70.54 2.60C70.86 2.66 71.28 3.07 71.34 3.34C71.40 3.62 70.92 3.93 70.90 4.25C70.88 4.57 70.96 4.92 71.23 5.24C71.50 5.56 72.24 5.81 72.51 6.16C72.77 6.52 72.82 7.00 72.83 7.37C72.83 7.74 72.33 7.91 72.55 8.39C72.77 8.87 73.73 9.55 74.16 10.26C74.59 10.96 74.94 11.89 75.13 12.63C75.33 13.37 75.38 14.00 75.30 14.68C75.22 15.36 75.00 16.11 74.64 16.72C74.28 17.34 73.96 17.96 73.17 18.36C72.37 18.75 70.97 19.10 69.88 19.10C68.78 19.10 67.42 18.75 66.60 18.36C65.78 17.96 65.34 17.34 64.96 16.72C64.58 16.11 64.38 15.41 64.30 14.68C64.22 13.94 64.27 13.10 64.47 12.30C64.66 11.51 65.03 10.62 65.44 9.91C65.85 9.20 66.57 8.55 66.93 8.04C67.29 7.54 67.50 7.28 67.60 6.86C67.70 6.43 67.42 5.94 67.52 5.49C67.63 5.03 67.93 4.55 68.24 4.13C68.55 3.72 69.01 3.27 69.39 3.01C69.78 2.76 70.21 2.54 70.54 2.60Z" fill="#fff"/><path d="M69.90 10.03C70.32 10.06 70.78 11.45 71.16 12.09C71.53 12.74 72.07 13.32 72.12 13.91C72.18 14.51 71.88 15.27 71.49 15.67C71.11 16.07 70.36 16.30 69.80 16.30C69.24 16.30 68.49 16.07 68.11 15.67C67.72 15.27 67.40 14.54 67.48 13.91C67.56 13.29 68.19 12.55 68.59 11.91C68.99 11.26 69.47 9.99 69.90 10.03Z" fill="#edd820"/></g><g><path d="M84.24 2.60C84.56 2.66 84.98 3.07 85.04 3.34C85.10 3.62 84.62 3.93 84.60 4.25C84.58 4.57 84.66 4.92 84.93 5.24C85.20 5.56 85.94 5.81 86.21 6.16C86.47 6.52 86.52 7.00 86.53 7.37C86.53 7.74 86.03 7.91 86.25 8.39C86.47 8.87 87.43 9.55 87.86 10.26C88.29 10.96 88.64 11.89 88.83 12.63C89.03 13.37 89.08 14.00 89.00 14.68C88.92 15.36 88.70 16.11 88.34 16.72C87.98 17.34 87.66 17.96 86.87 18.36C86.07 18.75 84.67 19.10 83.58 19.10C82.48 19.10 81.12 18.75 80.30 18.36C79.48 17.96 79.04 17.34 78.66 16.72C78.28 16.11 78.08 15.41 78.00 14.68C77.92 13.94 77.97 13.10 78.17 12.30C78.36 11.51 78.73 10.62 79.14 9.91C79.55 9.20 80.27 8.55 80.63 8.04C80.99 7.54 81.20 7.28 81.30 6.86C81.40 6.43 81.12 5.94 81.22 5.49C81.33 5.03 81.63 4.55 81.94 4.13C82.25 3.72 82.71 3.27 83.09 3.01C83.48 2.76 83.91 2.54 84.24 2.60Z" fill="#fff"/><path d="M83.60 10.03C84.02 10.06 84.48 11.45 84.86 12.09C85.23 12.74 85.77 13.32 85.82 13.91C85.88 14.51 85.58 15.27 85.19 15.67C84.81 16.07 84.06 16.30 83.50 16.30C82.94 16.30 82.19 16.07 81.81 15.67C81.42 15.27 81.10 14.54 81.18 13.91C81.26 13.29 81.89 12.55 82.29 11.91C82.69 11.26 83.17 9.99 83.60 10.03Z" fill="#edd820"/></g><g><path d="M97.84 2.60C98.16 2.66 98.58 3.07 98.64 3.34C98.70 3.62 98.22 3.93 98.20 4.25C98.18 4.57 98.26 4.92 98.53 5.24C98.80 5.56 99.54 5.81 99.81 6.16C100.07 6.52 100.12 7.00 100.12 7.37C100.13 7.74 99.63 7.91 99.85 8.39C100.07 8.87 101.03 9.55 101.46 10.26C101.89 10.96 102.24 11.89 102.43 12.63C102.63 13.37 102.68 14.00 102.60 14.68C102.52 15.36 102.30 16.11 101.94 16.72C101.58 17.34 101.26 17.96 100.47 18.36C99.67 18.75 98.27 19.10 97.18 19.10C96.08 19.10 94.72 18.75 93.90 18.36C93.08 17.96 92.64 17.34 92.26 16.72C91.88 16.11 91.68 15.41 91.60 14.68C91.52 13.94 91.57 13.10 91.77 12.30C91.96 11.51 92.33 10.62 92.74 9.91C93.15 9.20 93.87 8.55 94.23 8.04C94.59 7.54 94.80 7.28 94.90 6.86C95.00 6.43 94.72 5.94 94.82 5.49C94.93 5.03 95.23 4.55 95.54 4.13C95.85 3.72 96.31 3.27 96.69 3.01C97.08 2.76 97.51 2.54 97.84 2.60Z" fill="#fff"/><path d="M97.20 10.03C97.62 10.06 98.08 11.45 98.46 12.09C98.83 12.74 99.37 13.32 99.42 13.91C99.48 14.51 99.18 15.27 98.79 15.67C98.41 16.07 97.66 16.30 97.10 16.30C96.54 16.30 95.79 16.07 95.41 15.67C95.02 15.27 94.70 14.54 94.78 13.91C94.86 13.29 95.49 12.55 95.89 11.91C96.29 11.26 96.77 9.99 97.20 10.03Z" fill="#edd820"/></g><text x="14.2" y="44.5" font-size="14.5" font-weight="bold" fill="#fff" stroke="#fff" stroke-width="0.9" text-anchor="middle">唐</text><text x="14.2" y="59.1" font-size="14.5" font-weight="bold" fill="#fff" stroke="#fff" stroke-width="0.9" text-anchor="middle">傘</text><text x="14.2" y="73.7" font-size="14.5" font-weight="bold" fill="#fff" stroke="#fff" stroke-width="0.9" text-anchor="middle">小</text><text x="14.2" y="88.3" font-size="14.5" font-weight="bold" fill="#fff" stroke="#fff" stroke-width="0.9" text-anchor="middle">僧</text><rect x="2.2" y="33" width="1.3" height="56" fill="#fff" opacity=".55"/><text x="24" y="132.2" font-size="5.6" font-weight="bold" fill="#111" stroke="#111" stroke-width="0.25" textLength="59.0" lengthAdjust="spacingAndGlyphs">セットされたスペルを</text><text x="24" y="138.5" font-size="5.6" font-weight="bold" fill="#111" stroke="#111" stroke-width="0.25" textLength="59.0" lengthAdjust="spacingAndGlyphs">1枚選び、破壊する。</text><text x="24.5" y="145.0" font-size="4.3" fill="#777" textLength="57.8" lengthAdjust="spacingAndGlyphs">Destroy any 1 set sp.</text><path d="M4 144 L6.5 139 H19 L21.5 144Z" fill="#4a4a9e"/><path d="M3 147.5 L4 144 H21.5 L22.5 147.5Z" fill="#9488c0"/><path d="M4 133.5 h5 v-2.5 l4.5 4.5 l-4.5 4.5 v-2.5 h-2.5 v3 h-2.5z" fill="#b8509a"/><g><path d="M16.10 128.50C16.37 128.54 16.71 128.85 16.76 129.06C16.81 129.27 16.41 129.51 16.40 129.75C16.38 129.99 16.45 130.26 16.67 130.50C16.89 130.74 17.50 130.93 17.71 131.20C17.93 131.47 17.97 131.83 17.98 132.11C17.98 132.39 17.57 132.52 17.75 132.89C17.93 133.25 18.71 133.76 19.06 134.30C19.42 134.84 19.71 135.54 19.87 136.10C20.02 136.66 20.07 137.13 20.00 137.65C19.93 138.17 19.75 138.74 19.46 139.20C19.17 139.66 18.90 140.14 18.25 140.44C17.60 140.74 16.46 141.00 15.56 141.00C14.67 141.00 13.55 140.74 12.88 140.44C12.21 140.14 11.85 139.66 11.54 139.20C11.23 138.74 11.07 138.21 11.00 137.65C10.93 137.09 10.98 136.45 11.13 135.85C11.29 135.25 11.60 134.57 11.94 134.04C12.27 133.50 12.86 133.01 13.15 132.62C13.45 132.24 13.62 132.05 13.70 131.72C13.78 131.40 13.55 131.03 13.64 130.69C13.72 130.34 13.97 129.97 14.22 129.66C14.48 129.35 14.85 129.01 15.17 128.81C15.48 128.62 15.84 128.46 16.10 128.50Z" fill="#fff"/><path d="M15.58 134.12C15.93 134.15 16.31 135.20 16.61 135.69C16.91 136.18 17.35 136.62 17.40 137.07C17.45 137.52 17.20 138.10 16.89 138.40C16.57 138.70 15.96 138.88 15.50 138.88C15.04 138.88 14.43 138.70 14.11 138.40C13.80 138.10 13.53 137.54 13.60 137.07C13.67 136.59 14.18 136.04 14.51 135.55C14.84 135.06 15.23 134.10 15.58 134.12Z" fill="#edd820"/></g></g></g></g><clipPath id="hc3"><rect width="107" height="160" rx="6.5" transform="translate(157.70 1277.00) rotate(94.00) scale(0.7617 0.7969) translate(-53.5 -80)"/></clipPath><g clip-path="url(#hc3)"><g stroke="#3a3030" stroke-width="0.3"><path d="M158.89 1276.38C157.13 1275.29 151.42 1275.02 148.29 1275.56C145.16 1276.11 141.90 1278.01 140.14 1279.64C138.37 1281.27 137.42 1283.99 137.69 1285.35C137.96 1286.71 140.54 1288.34 141.77 1287.80C142.99 1287.25 143.40 1283.17 145.03 1282.09C146.66 1281.00 149.24 1281.27 151.55 1281.27C153.86 1281.27 157.67 1282.90 158.89 1282.09C160.12 1281.27 160.66 1277.47 158.89 1276.38Z" fill="#e8b898"/><path d="M127.09 1278.82C128.58 1277.33 133.07 1276.38 135.24 1277.19C137.42 1278.01 139.59 1281.68 140.14 1283.72C140.68 1285.76 140.14 1288.34 138.50 1289.43C136.87 1290.51 132.39 1290.79 130.35 1290.24C128.31 1289.70 126.82 1288.07 126.27 1286.16C125.73 1284.26 125.59 1280.32 127.09 1278.82Z" fill="#8a5020"/><path d="M189.07 1284.53L200.48 1294.32L189.88 1291.06Z" fill="#e8b898"/><path d="M159.38 1262.19L193.96 1287.80L191.51 1291.87L158.08 1296.44L156.12 1290.24L158.89 1283.72L155.63 1277.19L158.89 1270.67Z" fill="#8a5020"/><circle cx="180.4" cy="1280.0" r="5.3" fill="#fff"/><circle cx="180.9" cy="1280.0" r="2.3" fill="#5a5aa0"/><rect x="167.0" y="1272.3" width="5" height="7.5" rx="2" fill="#6a6ab8" transform="rotate(-15 169.5 1274.7)"/></g></g>
<g transform="translate(148.70 1353.20) rotate(105.00) scale(0.7617 0.7969) translate(-53.5 -80)"><g><clipPath id="fc4"><rect width="107" height="160" rx="6.5"/></clipPath><g clip-path="url(#fc4)"><rect width="107" height="160" fill="#a088c0"/><rect y="120" width="107" height="40" fill="#d3d1d1"/><text x="3.5" y="25.2" font-size="31" font-weight="bold" fill="#fff" stroke="#fff" stroke-width="0.8">3</text><g><path d="M70.54 2.60C70.86 2.66 71.28 3.07 71.34 3.34C71.40 3.62 70.92 3.93 70.90 4.25C70.88 4.57 70.96 4.92 71.23 5.24C71.50 5.56 72.24 5.81 72.51 6.16C72.77 6.52 72.82 7.00 72.83 7.37C72.83 7.74 72.33 7.91 72.55 8.39C72.77 8.87 73.73 9.55 74.16 10.26C74.59 10.96 74.94 11.89 75.13 12.63C75.33 13.37 75.38 14.00 75.30 14.68C75.22 15.36 75.00 16.11 74.64 16.72C74.28 17.34 73.96 17.96 73.17 18.36C72.37 18.75 70.97 19.10 69.88 19.10C68.78 19.10 67.42 18.75 66.60 18.36C65.78 17.96 65.34 17.34 64.96 16.72C64.58 16.11 64.38 15.41 64.30 14.68C64.22 13.94 64.27 13.10 64.47 12.30C64.66 11.51 65.03 10.62 65.44 9.91C65.85 9.20 66.57 8.55 66.93 8.04C67.29 7.54 67.50 7.28 67.60 6.86C67.70 6.43 67.42 5.94 67.52 5.49C67.63 5.03 67.93 4.55 68.24 4.13C68.55 3.72 69.01 3.27 69.39 3.01C69.78 2.76 70.21 2.54 70.54 2.60Z" fill="#fff"/><path d="M69.90 10.03C70.32 10.06 70.78 11.45 71.16 12.09C71.53 12.74 72.07 13.32 72.12 13.91C72.18 14.51 71.88 15.27 71.49 15.67C71.11 16.07 70.36 16.30 69.80 16.30C69.24 16.30 68.49 16.07 68.11 15.67C67.72 15.27 67.40 14.54 67.48 13.91C67.56 13.29 68.19 12.55 68.59 11.91C68.99 11.26 69.47 9.99 69.90 10.03Z" fill="#edd820"/></g><g><path d="M84.24 2.60C84.56 2.66 84.98 3.07 85.04 3.34C85.10 3.62 84.62 3.93 84.60 4.25C84.58 4.57 84.66 4.92 84.93 5.24C85.20 5.56 85.94 5.81 86.21 6.16C86.47 6.52 86.52 7.00 86.53 7.37C86.53 7.74 86.03 7.91 86.25 8.39C86.47 8.87 87.43 9.55 87.86 10.26C88.29 10.96 88.64 11.89 88.83 12.63C89.03 13.37 89.08 14.00 89.00 14.68C88.92 15.36 88.70 16.11 88.34 16.72C87.98 17.34 87.66 17.96 86.87 18.36C86.07 18.75 84.67 19.10 83.58 19.10C82.48 19.10 81.12 18.75 80.30 18.36C79.48 17.96 79.04 17.34 78.66 16.72C78.28 16.11 78.08 15.41 78.00 14.68C77.92 13.94 77.97 13.10 78.17 12.30C78.36 11.51 78.73 10.62 79.14 9.91C79.55 9.20 80.27 8.55 80.63 8.04C80.99 7.54 81.20 7.28 81.30 6.86C81.40 6.43 81.12 5.94 81.22 5.49C81.33 5.03 81.63 4.55 81.94 4.13C82.25 3.72 82.71 3.27 83.09 3.01C83.48 2.76 83.91 2.54 84.24 2.60Z" fill="#fff"/><path d="M83.60 10.03C84.02 10.06 84.48 11.45 84.86 12.09C85.23 12.74 85.77 13.32 85.82 13.91C85.88 14.51 85.58 15.27 85.19 15.67C84.81 16.07 84.06 16.30 83.50 16.30C82.94 16.30 82.19 16.07 81.81 15.67C81.42 15.27 81.10 14.54 81.18 13.91C81.26 13.29 81.89 12.55 82.29 11.91C82.69 11.26 83.17 9.99 83.60 10.03Z" fill="#edd820"/></g><g><path d="M97.84 2.60C98.16 2.66 98.58 3.07 98.64 3.34C98.70 3.62 98.22 3.93 98.20 4.25C98.18 4.57 98.26 4.92 98.53 5.24C98.80 5.56 99.54 5.81 99.81 6.16C100.07 6.52 100.12 7.00 100.12 7.37C100.13 7.74 99.63 7.91 99.85 8.39C100.07 8.87 101.03 9.55 101.46 10.26C101.89 10.96 102.24 11.89 102.43 12.63C102.63 13.37 102.68 14.00 102.60 14.68C102.52 15.36 102.30 16.11 101.94 16.72C101.58 17.34 101.26 17.96 100.47 18.36C99.67 18.75 98.27 19.10 97.18 19.10C96.08 19.10 94.72 18.75 93.90 18.36C93.08 17.96 92.64 17.34 92.26 16.72C91.88 16.11 91.68 15.41 91.60 14.68C91.52 13.94 91.57 13.10 91.77 12.30C91.96 11.51 92.33 10.62 92.74 9.91C93.15 9.20 93.87 8.55 94.23 8.04C94.59 7.54 94.80 7.28 94.90 6.86C95.00 6.43 94.72 5.94 94.82 5.49C94.93 5.03 95.23 4.55 95.54 4.13C95.85 3.72 96.31 3.27 96.69 3.01C97.08 2.76 97.51 2.54 97.84 2.60Z" fill="#fff"/><path d="M97.20 10.03C97.62 10.06 98.08 11.45 98.46 12.09C98.83 12.74 99.37 13.32 99.42 13.91C99.48 14.51 99.18 15.27 98.79 15.67C98.41 16.07 97.66 16.30 97.10 16.30C96.54 16.30 95.79 16.07 95.41 15.67C95.02 15.27 94.70 14.54 94.78 13.91C94.86 13.29 95.49 12.55 95.89 11.91C96.29 11.26 96.77 9.99 97.20 10.03Z" fill="#edd820"/></g><text x="14.2" y="44.5" font-size="14.5" font-weight="bold" fill="#fff" stroke="#fff" stroke-width="0.9" text-anchor="middle">轆</text><text x="14.2" y="59.1" font-size="14.5" font-weight="bold" fill="#fff" stroke="#fff" stroke-width="0.9" text-anchor="middle">轤</text><text x="14.2" y="73.7" font-size="14.5" font-weight="bold" fill="#fff" stroke="#fff" stroke-width="0.9" text-anchor="middle">首</text><rect x="2.2" y="33" width="1.3" height="42" fill="#fff" opacity=".55"/><text x="24" y="132.2" font-size="5.6" font-weight="bold" fill="#111" stroke="#111" stroke-width="0.25" textLength="70.8" lengthAdjust="spacingAndGlyphs">この妖怪が、戦闘で妖怪を</text><text x="24" y="138.5" font-size="5.6" font-weight="bold" fill="#111" stroke="#111" stroke-width="0.25" textLength="79.0" lengthAdjust="spacingAndGlyphs">破壊した時、山札を1枚引く。</text><text x="24.5" y="145.0" font-size="4.3" fill="#777" textLength="68.8" lengthAdjust="spacingAndGlyphs">When this yokai defeats a</text><text x="24.5" y="150.0" font-size="4.3" fill="#777" textLength="76.0" lengthAdjust="spacingAndGlyphs">yokai in battle, draw 1 card.</text><path d="M4 144 L7 137 H19 L22 144Z" fill="#a0433a"/><path d="M3 147.5 L4 144 H22 L23 147.5Z" fill="#c48a86"/><g><path d="M13.60 128.50C13.87 128.54 14.21 128.88 14.26 129.11C14.31 129.33 13.91 129.59 13.90 129.85C13.88 130.11 13.95 130.40 14.17 130.66C14.39 130.92 15.00 131.13 15.21 131.42C15.43 131.71 15.47 132.10 15.48 132.40C15.48 132.71 15.07 132.84 15.25 133.24C15.43 133.63 16.21 134.19 16.56 134.76C16.92 135.34 17.21 136.10 17.37 136.71C17.52 137.31 17.57 137.82 17.50 138.38C17.43 138.94 17.25 139.55 16.96 140.06C16.67 140.56 16.40 141.07 15.75 141.39C15.10 141.72 13.96 142.00 13.06 142.00C12.17 142.00 11.05 141.72 10.38 141.39C9.71 141.07 9.35 140.56 9.04 140.06C8.73 139.55 8.57 138.99 8.50 138.38C8.43 137.78 8.48 137.09 8.63 136.44C8.79 135.79 9.10 135.06 9.44 134.48C9.77 133.90 10.36 133.37 10.65 132.96C10.95 132.54 11.12 132.33 11.20 131.98C11.28 131.63 11.05 131.23 11.14 130.86C11.22 130.49 11.47 130.09 11.72 129.76C11.98 129.42 12.35 129.05 12.67 128.84C12.98 128.63 13.34 128.46 13.60 128.50Z" fill="#fff"/><path d="M13.08 134.57C13.43 134.60 13.81 135.74 14.11 136.27C14.41 136.80 14.85 137.27 14.90 137.76C14.95 138.24 14.70 138.87 14.39 139.19C14.07 139.52 13.46 139.70 13.00 139.70C12.54 139.70 11.93 139.52 11.61 139.19C11.30 138.87 11.03 138.27 11.10 137.76C11.17 137.24 11.68 136.64 12.01 136.11C12.34 135.58 12.73 134.55 13.08 134.57Z" fill="#edd820"/></g></g></g></g><clipPath id="hc4"><rect width="107" height="160" rx="6.5" transform="translate(148.70 1353.20) rotate(105.00) scale(0.7617 0.7969) translate(-53.5 -80)"/></clipPath><g clip-path="url(#hc4)"><g stroke="#3a3030" stroke-width="0.3"><path d="M122.52 1331.02L135.24 1345.70L140.46 1355.48L135.24 1366.09L124.64 1377.50L111.59 1372.61L118.93 1355.48L116.97 1342.44Z" fill="#8c2a20"/><rect x="124.6" y="1349.8" width="8" height="7.5" fill="#c8a838" transform="rotate(14 127.9 1353.9)"/><path d="M134.43 1382.40C135.11 1380.63 138.50 1376.14 140.14 1375.06C141.77 1373.97 143.67 1374.92 144.21 1375.87C144.76 1376.82 142.72 1379.13 143.40 1380.77C144.08 1382.40 148.02 1384.44 148.29 1385.66C148.56 1386.88 146.39 1388.38 145.03 1388.11C143.67 1387.83 141.63 1384.44 140.14 1384.03C138.64 1383.62 137.01 1385.93 136.06 1385.66C135.11 1385.39 133.75 1384.16 134.43 1382.40Z" fill="#fff"/><path d="M137.7 1366.9 L132.0 1382.4" stroke="#b89830" stroke-width="1.4"/></g><path d="M139.32 1356.30C140.41 1355.35 144.62 1353.04 145.84 1350.59C147.07 1348.14 145.57 1343.80 146.66 1341.62C147.75 1339.45 150.33 1337.41 152.37 1337.54C154.41 1337.68 158.08 1339.72 158.89 1342.44C159.71 1345.15 156.85 1350.46 157.26 1353.85C157.67 1357.25 159.03 1360.65 161.34 1362.82C163.65 1365.00 169.49 1366.22 171.13 1366.90" fill="none" stroke="#3a3030" stroke-width="5.2" stroke-linecap="round"/><path d="M139.32 1356.30C140.41 1355.35 144.62 1353.04 145.84 1350.59C147.07 1348.14 145.57 1343.80 146.66 1341.62C147.75 1339.45 150.33 1337.41 152.37 1337.54C154.41 1337.68 158.08 1339.72 158.89 1342.44C159.71 1345.15 156.85 1350.46 157.26 1353.85C157.67 1357.25 159.03 1360.65 161.34 1362.82C163.65 1365.00 169.49 1366.22 171.13 1366.90" fill="none" stroke="#f5dcc0" stroke-width="4.5" stroke-linecap="round"/><ellipse cx="182.5" cy="1363.6" rx="10.5" ry="10" fill="#1a1418"/><ellipse cx="188.3" cy="1355.5" rx="6" ry="5" fill="#1a1418"/><ellipse cx="174.4" cy="1369.3" rx="7.5" ry="8.5" fill="#f5dcc0" stroke="#3a3030" stroke-width="0.3"/><path d="M182.5 1357.1 L190.7 1366.9" stroke="#c8a838" stroke-width="2.2"/><circle cx="189.1" cy="1373.8" r="1.6" fill="#a02020"/></g>
<g transform="translate(1035.00 1352.00) rotate(-111.00) scale(0.7617 0.7969) translate(-53.5 -80)"><g><clipPath id="fc8"><rect width="107" height="160" rx="6.5"/></clipPath><g clip-path="url(#fc8)"><rect width="107" height="160" fill="#c4b5da"/><rect y="120" width="107" height="40" fill="#383e62"/><g stroke="#3a3030" stroke-width="0.35"><path d="M71.79 64.22L79.63 59.94L94.62 75.64L81.06 86.34Z" fill="#d4934e"/><path d="M87.5 79.9 C 96.8 92.8 79.6 98.5 66.8 111.3" fill="none" stroke="#9c2828" stroke-width="1.3"/><path d="M88.2 81.3 C 88.2 95.6 98.2 102.8 76.8 111.3" fill="none" stroke="#9c2828" stroke-width="1.3"/><ellipse cx="94.6" cy="94.9" rx="3" ry="4.2" fill="none" stroke="#9c2828" stroke-width="1.2"/><path d="M64.65 110.60L69.64 105.61L71.07 111.32Z" fill="#9c2828" stroke="none"/><path d="M73.93 112.74L77.49 107.04L79.63 112.74Z" fill="#9c2828" stroke="none"/><path d="M49.66 37.11L54.66 33.54L53.23 27.12L58.23 31.40L63.94 28.54L62.51 34.25L68.22 35.68L56.80 39.96Z" fill="#d4934e"/><path d="M45.38 49.95C46.33 45.67 51.09 41.27 55.37 38.53C59.65 35.80 66.55 33.78 71.07 33.54C75.59 33.30 79.75 34.61 82.49 37.11C85.22 39.60 87.25 44.48 87.48 48.52C87.72 52.57 86.65 58.04 83.92 61.37C81.18 64.70 75.35 66.84 71.07 68.50C66.79 70.17 61.80 72.07 58.23 71.36C54.66 70.64 51.81 67.79 49.66 64.22C47.52 60.65 44.43 54.23 45.38 49.95Z" fill="#d4934e"/><path d="M50.38 44.96C49.90 42.46 56.21 39.60 59.65 37.82C63.10 36.04 68.57 33.42 71.07 34.25C73.57 35.08 74.64 39.96 74.64 42.81C74.64 45.67 73.09 49.71 71.07 51.38C69.05 53.04 65.96 53.87 62.51 52.80C59.06 51.73 50.85 47.45 50.38 44.96Z" fill="#9c2828"/><ellipse cx="50.8" cy="59.9" rx="5.2" ry="10.5" transform="rotate(-35 50.8 59.9)" fill="#ead03c"/><ellipse cx="51.8" cy="60.7" rx="2.5" ry="6" transform="rotate(-35 51.8 60.7)" fill="#9c2828"/><ellipse cx="44.0" cy="70.6" rx="4.8" ry="9.3" transform="rotate(12 44.0 70.6)" fill="#ead03c"/><ellipse cx="38.2" cy="93.5" rx="6.2" ry="10.2" transform="rotate(-25 38.2 93.5)" fill="#ead03c"/></g><text x="16.2" y="45.0" font-size="15" font-weight="bold" fill="#fff" stroke="#fff" stroke-width="0.8" text-anchor="middle">小</text><text x="16.2" y="60.6" font-size="15" font-weight="bold" fill="#fff" stroke="#fff" stroke-width="0.8" text-anchor="middle">槌</text><rect x="10" y="33" width="1.2" height="26" fill="#fff" opacity=".55"/><text x="53.5" y="134.6" font-size="5.6" font-weight="bold" fill="#fff" text-anchor="middle" textLength="46" lengthAdjust="spacingAndGlyphs">山札を2枚引く。</text><text x="53.5" y="148.6" font-size="4.3" fill="#ddd" text-anchor="middle" textLength="36" lengthAdjust="spacingAndGlyphs">Draw 2 cards.</text></g></g></g>
<g transform="translate(1026.00 1292.00) rotate(-103.00) scale(0.7617 0.7969) translate(-53.5 -80)"><g><clipPath id="fc7"><rect width="107" height="160" rx="6.5"/></clipPath><g clip-path="url(#fc7)"><rect width="107" height="160" fill="#dc9cb0"/><rect y="120" width="107" height="40" fill="#d3d1d1"/><text x="3.5" y="25.2" font-size="31" font-weight="bold" fill="#fff" stroke="#fff" stroke-width="0.8">2</text><g><path d="M70.54 2.60C70.86 2.66 71.28 3.07 71.34 3.34C71.40 3.62 70.92 3.93 70.90 4.25C70.88 4.57 70.96 4.92 71.23 5.24C71.50 5.56 72.24 5.81 72.51 6.16C72.77 6.52 72.82 7.00 72.83 7.37C72.83 7.74 72.33 7.91 72.55 8.39C72.77 8.87 73.73 9.55 74.16 10.26C74.59 10.96 74.94 11.89 75.13 12.63C75.33 13.37 75.38 14.00 75.30 14.68C75.22 15.36 75.00 16.11 74.64 16.72C74.28 17.34 73.96 17.96 73.17 18.36C72.37 18.75 70.97 19.10 69.88 19.10C68.78 19.10 67.42 18.75 66.60 18.36C65.78 17.96 65.34 17.34 64.96 16.72C64.58 16.11 64.38 15.41 64.30 14.68C64.22 13.94 64.27 13.10 64.47 12.30C64.66 11.51 65.03 10.62 65.44 9.91C65.85 9.20 66.57 8.55 66.93 8.04C67.29 7.54 67.50 7.28 67.60 6.86C67.70 6.43 67.42 5.94 67.52 5.49C67.63 5.03 67.93 4.55 68.24 4.13C68.55 3.72 69.01 3.27 69.39 3.01C69.78 2.76 70.21 2.54 70.54 2.60Z" fill="#fff"/><path d="M69.90 10.03C70.32 10.06 70.78 11.45 71.16 12.09C71.53 12.74 72.07 13.32 72.12 13.91C72.18 14.51 71.88 15.27 71.49 15.67C71.11 16.07 70.36 16.30 69.80 16.30C69.24 16.30 68.49 16.07 68.11 15.67C67.72 15.27 67.40 14.54 67.48 13.91C67.56 13.29 68.19 12.55 68.59 11.91C68.99 11.26 69.47 9.99 69.90 10.03Z" fill="#edd820"/></g><g><path d="M84.24 2.60C84.56 2.66 84.98 3.07 85.04 3.34C85.10 3.62 84.62 3.93 84.60 4.25C84.58 4.57 84.66 4.92 84.93 5.24C85.20 5.56 85.94 5.81 86.21 6.16C86.47 6.52 86.52 7.00 86.53 7.37C86.53 7.74 86.03 7.91 86.25 8.39C86.47 8.87 87.43 9.55 87.86 10.26C88.29 10.96 88.64 11.89 88.83 12.63C89.03 13.37 89.08 14.00 89.00 14.68C88.92 15.36 88.70 16.11 88.34 16.72C87.98 17.34 87.66 17.96 86.87 18.36C86.07 18.75 84.67 19.10 83.58 19.10C82.48 19.10 81.12 18.75 80.30 18.36C79.48 17.96 79.04 17.34 78.66 16.72C78.28 16.11 78.08 15.41 78.00 14.68C77.92 13.94 77.97 13.10 78.17 12.30C78.36 11.51 78.73 10.62 79.14 9.91C79.55 9.20 80.27 8.55 80.63 8.04C80.99 7.54 81.20 7.28 81.30 6.86C81.40 6.43 81.12 5.94 81.22 5.49C81.33 5.03 81.63 4.55 81.94 4.13C82.25 3.72 82.71 3.27 83.09 3.01C83.48 2.76 83.91 2.54 84.24 2.60Z" fill="#fff"/><path d="M83.60 10.03C84.02 10.06 84.48 11.45 84.86 12.09C85.23 12.74 85.77 13.32 85.82 13.91C85.88 14.51 85.58 15.27 85.19 15.67C84.81 16.07 84.06 16.30 83.50 16.30C82.94 16.30 82.19 16.07 81.81 15.67C81.42 15.27 81.10 14.54 81.18 13.91C81.26 13.29 81.89 12.55 82.29 11.91C82.69 11.26 83.17 9.99 83.60 10.03Z" fill="#edd820"/></g><text x="14.2" y="44.5" font-size="14.5" font-weight="bold" fill="#fff" stroke="#fff" stroke-width="0.9" text-anchor="middle">座</text><text x="14.2" y="59.1" font-size="14.5" font-weight="bold" fill="#fff" stroke="#fff" stroke-width="0.9" text-anchor="middle">敷</text><text x="14.2" y="73.7" font-size="14.5" font-weight="bold" fill="#fff" stroke="#fff" stroke-width="0.9" text-anchor="middle">童</text><text x="14.2" y="88.3" font-size="14.5" font-weight="bold" fill="#fff" stroke="#fff" stroke-width="0.9" text-anchor="middle">子</text><rect x="2.2" y="33" width="1.3" height="56" fill="#fff" opacity=".55"/><text x="24" y="132.2" font-size="5.6" font-weight="bold" fill="#111" stroke="#111" stroke-width="0.25" textLength="53.1" lengthAdjust="spacingAndGlyphs">この妖怪がこの場に</text><text x="24" y="138.5" font-size="5.6" font-weight="bold" fill="#111" stroke="#111" stroke-width="0.25" textLength="53.1" lengthAdjust="spacingAndGlyphs">いる限り効果無効。</text><text x="24.5" y="145.0" font-size="4.3" fill="#777" textLength="46.8" lengthAdjust="spacingAndGlyphs">This yokai is not</text><text x="24.5" y="150.0" font-size="4.3" fill="#777" textLength="55.0" lengthAdjust="spacingAndGlyphs">affected while here.</text><path d="M4 144 L7 137 H19 L22 144Z" fill="#a0433a"/><path d="M3 147.5 L4 144 H22 L23 147.5Z" fill="#c48a86"/><g><path d="M13.60 128.50C13.87 128.54 14.21 128.88 14.26 129.11C14.31 129.33 13.91 129.59 13.90 129.85C13.88 130.11 13.95 130.40 14.17 130.66C14.39 130.92 15.00 131.13 15.21 131.42C15.43 131.71 15.47 132.10 15.48 132.40C15.48 132.71 15.07 132.84 15.25 133.24C15.43 133.63 16.21 134.19 16.56 134.76C16.92 135.34 17.21 136.10 17.37 136.71C17.52 137.31 17.57 137.82 17.50 138.38C17.43 138.94 17.25 139.55 16.96 140.06C16.67 140.56 16.40 141.07 15.75 141.39C15.10 141.72 13.96 142.00 13.06 142.00C12.17 142.00 11.05 141.72 10.38 141.39C9.71 141.07 9.35 140.56 9.04 140.06C8.73 139.55 8.57 138.99 8.50 138.38C8.43 137.78 8.48 137.09 8.63 136.44C8.79 135.79 9.10 135.06 9.44 134.48C9.77 133.90 10.36 133.37 10.65 132.96C10.95 132.54 11.12 132.33 11.20 131.98C11.28 131.63 11.05 131.23 11.14 130.86C11.22 130.49 11.47 130.09 11.72 129.76C11.98 129.42 12.35 129.05 12.67 128.84C12.98 128.63 13.34 128.46 13.60 128.50Z" fill="#fff"/><path d="M13.08 134.57C13.43 134.60 13.81 135.74 14.11 136.27C14.41 136.80 14.85 137.27 14.90 137.76C14.95 138.24 14.70 138.87 14.39 139.19C14.07 139.52 13.46 139.70 13.00 139.70C12.54 139.70 11.93 139.52 11.61 139.19C11.30 138.87 11.03 138.27 11.10 137.76C11.17 137.24 11.68 136.64 12.01 136.11C12.34 135.58 12.73 134.55 13.08 134.57Z" fill="#edd820"/></g></g></g></g><clipPath id="hc7"><rect width="107" height="160" rx="6.5" transform="translate(1026.00 1292.00) rotate(-103.00) scale(0.7617 0.7969) translate(-53.5 -80)"/></clipPath><g clip-path="url(#hc7)"><g stroke="#3a3030" stroke-width="0.3"><path d="M983.83 1273.58C985.02 1272.90 990.12 1274.94 990.97 1276.64C991.82 1278.34 990.12 1283.10 988.93 1283.78C987.74 1284.46 984.68 1282.42 983.83 1280.72C982.98 1279.02 982.64 1274.26 983.83 1273.58Z" fill="#fff"/><path d="M1021.55 1268.49C1022.91 1266.45 1031.40 1265.09 1033.78 1266.45C1036.16 1267.81 1037.18 1274.60 1035.82 1276.64C1034.46 1278.68 1028.01 1280.04 1025.63 1278.68C1023.25 1277.32 1020.19 1270.52 1021.55 1268.49Z" fill="#fff"/><path d="M1006.26 1266.45L1025.63 1266.45L1026.65 1280.72L1011.36 1283.78Z" fill="#5a3a50"/><path d="M991.99 1273.58C995.05 1273.07 1002.35 1283.27 1007.28 1285.82C1012.21 1288.36 1016.45 1288.02 1021.55 1288.87C1026.65 1289.72 1035.31 1288.36 1037.86 1290.91C1040.41 1293.46 1039.56 1302.30 1036.84 1304.16C1034.12 1306.03 1026.82 1302.97 1021.55 1302.13C1016.28 1301.28 1010.85 1298.56 1005.24 1299.07C999.63 1299.58 990.63 1306.88 987.91 1305.18C985.19 1303.48 988.25 1294.14 988.93 1288.87C989.61 1283.61 988.93 1274.09 991.99 1273.58Z" fill="#e0d070"/><path d="M1010.34 1281.74L1020.53 1280.72L1021.55 1290.91L1011.36 1292.95Z" fill="#9a2838"/><path d="M1010.34 1309.26C1011.02 1308.24 1015.09 1307.56 1016.45 1308.24C1017.81 1308.92 1019.17 1312.32 1018.49 1313.34C1017.81 1314.36 1013.73 1315.04 1012.38 1314.36C1011.02 1313.68 1009.66 1310.28 1010.34 1309.26Z" fill="#fff"/></g></g>
<g transform="translate(1022.60 1224.70) rotate(-88.50) scale(0.7617 0.7969) translate(-53.5 -80)"><g><clipPath id="fc6"><rect width="107" height="160" rx="6.5"/></clipPath><g clip-path="url(#fc6)"><rect width="107" height="160" fill="#a85560"/><rect y="120" width="107" height="40" fill="#d3d1d1"/><text x="3.5" y="25.2" font-size="31" font-weight="bold" fill="#fff" stroke="#fff" stroke-width="0.8">2</text><g><path d="M70.54 2.60C70.86 2.66 71.28 3.07 71.34 3.34C71.40 3.62 70.92 3.93 70.90 4.25C70.88 4.57 70.96 4.92 71.23 5.24C71.50 5.56 72.24 5.81 72.51 6.16C72.77 6.52 72.82 7.00 72.83 7.37C72.83 7.74 72.33 7.91 72.55 8.39C72.77 8.87 73.73 9.55 74.16 10.26C74.59 10.96 74.94 11.89 75.13 12.63C75.33 13.37 75.38 14.00 75.30 14.68C75.22 15.36 75.00 16.11 74.64 16.72C74.28 17.34 73.96 17.96 73.17 18.36C72.37 18.75 70.97 19.10 69.88 19.10C68.78 19.10 67.42 18.75 66.60 18.36C65.78 17.96 65.34 17.34 64.96 16.72C64.58 16.11 64.38 15.41 64.30 14.68C64.22 13.94 64.27 13.10 64.47 12.30C64.66 11.51 65.03 10.62 65.44 9.91C65.85 9.20 66.57 8.55 66.93 8.04C67.29 7.54 67.50 7.28 67.60 6.86C67.70 6.43 67.42 5.94 67.52 5.49C67.63 5.03 67.93 4.55 68.24 4.13C68.55 3.72 69.01 3.27 69.39 3.01C69.78 2.76 70.21 2.54 70.54 2.60Z" fill="#fff"/><path d="M69.90 10.03C70.32 10.06 70.78 11.45 71.16 12.09C71.53 12.74 72.07 13.32 72.12 13.91C72.18 14.51 71.88 15.27 71.49 15.67C71.11 16.07 70.36 16.30 69.80 16.30C69.24 16.30 68.49 16.07 68.11 15.67C67.72 15.27 67.40 14.54 67.48 13.91C67.56 13.29 68.19 12.55 68.59 11.91C68.99 11.26 69.47 9.99 69.90 10.03Z" fill="#edd820"/></g><g><path d="M84.24 2.60C84.56 2.66 84.98 3.07 85.04 3.34C85.10 3.62 84.62 3.93 84.60 4.25C84.58 4.57 84.66 4.92 84.93 5.24C85.20 5.56 85.94 5.81 86.21 6.16C86.47 6.52 86.52 7.00 86.53 7.37C86.53 7.74 86.03 7.91 86.25 8.39C86.47 8.87 87.43 9.55 87.86 10.26C88.29 10.96 88.64 11.89 88.83 12.63C89.03 13.37 89.08 14.00 89.00 14.68C88.92 15.36 88.70 16.11 88.34 16.72C87.98 17.34 87.66 17.96 86.87 18.36C86.07 18.75 84.67 19.10 83.58 19.10C82.48 19.10 81.12 18.75 80.30 18.36C79.48 17.96 79.04 17.34 78.66 16.72C78.28 16.11 78.08 15.41 78.00 14.68C77.92 13.94 77.97 13.10 78.17 12.30C78.36 11.51 78.73 10.62 79.14 9.91C79.55 9.20 80.27 8.55 80.63 8.04C80.99 7.54 81.20 7.28 81.30 6.86C81.40 6.43 81.12 5.94 81.22 5.49C81.33 5.03 81.63 4.55 81.94 4.13C82.25 3.72 82.71 3.27 83.09 3.01C83.48 2.76 83.91 2.54 84.24 2.60Z" fill="#fff"/><path d="M83.60 10.03C84.02 10.06 84.48 11.45 84.86 12.09C85.23 12.74 85.77 13.32 85.82 13.91C85.88 14.51 85.58 15.27 85.19 15.67C84.81 16.07 84.06 16.30 83.50 16.30C82.94 16.30 82.19 16.07 81.81 15.67C81.42 15.27 81.10 14.54 81.18 13.91C81.26 13.29 81.89 12.55 82.29 11.91C82.69 11.26 83.17 9.99 83.60 10.03Z" fill="#edd820"/></g><g><path d="M97.84 2.60C98.16 2.66 98.58 3.07 98.64 3.34C98.70 3.62 98.22 3.93 98.20 4.25C98.18 4.57 98.26 4.92 98.53 5.24C98.80 5.56 99.54 5.81 99.81 6.16C100.07 6.52 100.12 7.00 100.12 7.37C100.13 7.74 99.63 7.91 99.85 8.39C100.07 8.87 101.03 9.55 101.46 10.26C101.89 10.96 102.24 11.89 102.43 12.63C102.63 13.37 102.68 14.00 102.60 14.68C102.52 15.36 102.30 16.11 101.94 16.72C101.58 17.34 101.26 17.96 100.47 18.36C99.67 18.75 98.27 19.10 97.18 19.10C96.08 19.10 94.72 18.75 93.90 18.36C93.08 17.96 92.64 17.34 92.26 16.72C91.88 16.11 91.68 15.41 91.60 14.68C91.52 13.94 91.57 13.10 91.77 12.30C91.96 11.51 92.33 10.62 92.74 9.91C93.15 9.20 93.87 8.55 94.23 8.04C94.59 7.54 94.80 7.28 94.90 6.86C95.00 6.43 94.72 5.94 94.82 5.49C94.93 5.03 95.23 4.55 95.54 4.13C95.85 3.72 96.31 3.27 96.69 3.01C97.08 2.76 97.51 2.54 97.84 2.60Z" fill="#fff"/><path d="M97.20 10.03C97.62 10.06 98.08 11.45 98.46 12.09C98.83 12.74 99.37 13.32 99.42 13.91C99.48 14.51 99.18 15.27 98.79 15.67C98.41 16.07 97.66 16.30 97.10 16.30C96.54 16.30 95.79 16.07 95.41 15.67C95.02 15.27 94.70 14.54 94.78 13.91C94.86 13.29 95.49 12.55 95.89 11.91C96.29 11.26 96.77 9.99 97.20 10.03Z" fill="#edd820"/></g><text x="14.2" y="44.5" font-size="14.5" font-weight="bold" fill="#fff" stroke="#fff" stroke-width="0.9" text-anchor="middle">河</text><text x="14.2" y="59.1" font-size="14.5" font-weight="bold" fill="#fff" stroke="#fff" stroke-width="0.9" text-anchor="middle">童</text><rect x="2.2" y="33" width="1.3" height="28" fill="#fff" opacity=".55"/><text x="24" y="132.2" font-size="5.6" font-weight="bold" fill="#111" stroke="#111" stroke-width="0.25" textLength="59.0" lengthAdjust="spacingAndGlyphs">この妖怪の攻撃力は、</text><text x="24" y="138.5" font-size="5.6" font-weight="bold" fill="#111" stroke="#111" stroke-width="0.25" textLength="64.9" lengthAdjust="spacingAndGlyphs">1個につき、+1する。</text><text x="24.5" y="145.0" font-size="4.3" fill="#777" textLength="52.2" lengthAdjust="spacingAndGlyphs">This yokai gains +1</text><text x="24.5" y="150.0" font-size="4.3" fill="#777" textLength="60.5" lengthAdjust="spacingAndGlyphs">ATK for each hitodama.</text><path d="M4 144 L7 137 H19 L22 144Z" fill="#a0433a"/><path d="M3 147.5 L4 144 H22 L23 147.5Z" fill="#c48a86"/><g><path d="M13.60 128.50C13.87 128.54 14.21 128.88 14.26 129.11C14.31 129.33 13.91 129.59 13.90 129.85C13.88 130.11 13.95 130.40 14.17 130.66C14.39 130.92 15.00 131.13 15.21 131.42C15.43 131.71 15.47 132.10 15.48 132.40C15.48 132.71 15.07 132.84 15.25 133.24C15.43 133.63 16.21 134.19 16.56 134.76C16.92 135.34 17.21 136.10 17.37 136.71C17.52 137.31 17.57 137.82 17.50 138.38C17.43 138.94 17.25 139.55 16.96 140.06C16.67 140.56 16.40 141.07 15.75 141.39C15.10 141.72 13.96 142.00 13.06 142.00C12.17 142.00 11.05 141.72 10.38 141.39C9.71 141.07 9.35 140.56 9.04 140.06C8.73 139.55 8.57 138.99 8.50 138.38C8.43 137.78 8.48 137.09 8.63 136.44C8.79 135.79 9.10 135.06 9.44 134.48C9.77 133.90 10.36 133.37 10.65 132.96C10.95 132.54 11.12 132.33 11.20 131.98C11.28 131.63 11.05 131.23 11.14 130.86C11.22 130.49 11.47 130.09 11.72 129.76C11.98 129.42 12.35 129.05 12.67 128.84C12.98 128.63 13.34 128.46 13.60 128.50Z" fill="#fff"/><path d="M13.08 134.57C13.43 134.60 13.81 135.74 14.11 136.27C14.41 136.80 14.85 137.27 14.90 137.76C14.95 138.24 14.70 138.87 14.39 139.19C14.07 139.52 13.46 139.70 13.00 139.70C12.54 139.70 11.93 139.52 11.61 139.19C11.30 138.87 11.03 138.27 11.10 137.76C11.17 137.24 11.68 136.64 12.01 136.11C12.34 135.58 12.73 134.55 13.08 134.57Z" fill="#edd820"/></g></g></g></g><clipPath id="hc6"><rect width="107" height="160" rx="6.5" transform="translate(1022.60 1224.70) rotate(-88.50) scale(0.7617 0.7969) translate(-53.5 -80)"/></clipPath><g clip-path="url(#hc6)"><g stroke="#3a3030" stroke-width="0.3"><path d="M1001.16 1210.38C1004.90 1206.98 1015.77 1207.83 1021.55 1207.32C1027.33 1206.81 1031.06 1207.66 1035.82 1207.32C1040.58 1206.98 1047.54 1203.93 1050.09 1205.29C1052.64 1206.64 1053.15 1213.44 1051.11 1215.48C1049.07 1217.52 1041.43 1215.82 1037.86 1217.52C1034.29 1219.22 1030.04 1222.95 1029.70 1225.67C1029.36 1228.39 1032.25 1232.13 1035.82 1233.83C1039.39 1235.53 1048.56 1233.83 1051.11 1235.87C1053.66 1237.91 1053.66 1244.36 1051.11 1246.06C1048.56 1247.76 1040.75 1246.74 1035.82 1246.06C1030.89 1245.38 1026.65 1243.00 1021.55 1241.98C1016.45 1240.96 1008.98 1242.32 1005.24 1239.94C1001.50 1237.57 999.80 1232.64 999.12 1227.71C998.44 1222.78 997.42 1213.78 1001.16 1210.38Z" fill="#3f8f3f"/><ellipse cx="1019.5" cy="1227.7" rx="15.5" ry="12.5" fill="#6b7a28" transform="rotate(8 1019.5 1227.7)"/><path d="M983.83 1215.48C985.02 1212.42 988.42 1208.00 990.97 1207.32C993.52 1206.64 997.42 1208.68 999.12 1211.40C1000.82 1214.12 1001.50 1220.07 1001.16 1223.63C1000.82 1227.20 999.12 1231.45 997.08 1232.81C995.05 1234.17 991.14 1232.98 988.93 1231.79C986.72 1230.60 984.68 1228.39 983.83 1225.67C982.98 1222.95 982.64 1218.54 983.83 1215.48Z" fill="#2f6b35"/><path d="M983.83 1215.48C984.27 1212.25 986.72 1209.36 987.91 1209.36C989.10 1209.36 990.80 1212.42 990.97 1215.48C991.14 1218.54 989.88 1225.50 988.93 1227.71C987.98 1229.92 986.11 1230.77 985.26 1228.73C984.41 1226.69 983.39 1218.71 983.83 1215.48Z" fill="#c8b838"/><circle cx="990.4" cy="1224.7" r="3.2" fill="#fff"/><circle cx="990.4" cy="1224.7" r="1.5" fill="#5a7a90"/></g></g>
<g transform="translate(1039.60 1152.00) rotate(-76.30) scale(0.7617 0.7969) translate(-53.5 -80)"><g><clipPath id="fc5"><rect width="107" height="160" rx="6.5"/></clipPath><g clip-path="url(#fc5)"><rect width="107" height="160" fill="#dd5a45"/><rect y="120" width="107" height="40" fill="#d3d1d1"/><g stroke="#3a3030" stroke-width="0.35"><path d="M64.61 79.44C65.94 77.45 71.46 78.56 72.56 80.76C73.67 82.97 71.68 88.72 71.24 92.69C70.80 96.67 69.25 101.53 69.91 104.62C70.57 107.71 75.43 109.92 75.21 111.24C74.99 112.57 70.46 113.67 68.59 112.57C66.71 111.46 64.61 107.93 63.95 104.62C63.29 101.31 64.50 96.89 64.61 92.69C64.72 88.49 63.29 81.43 64.61 79.44Z" fill="#e8b09a"/><path d="M69.91 86.07C71.24 86.73 73.67 95.89 76.54 97.99C79.41 100.09 84.49 99.54 87.14 98.65C89.79 97.77 91.12 93.02 92.44 92.69C93.77 92.36 95.75 94.68 95.09 96.67C94.43 98.65 91.56 103.29 88.47 104.62C85.37 105.94 79.85 106.39 76.54 104.62C73.23 102.85 69.69 97.11 68.59 94.02C67.48 90.92 68.59 85.40 69.91 86.07Z" fill="#e8b09a"/><path d="M58.25 41.67C59.58 39.46 62.23 37.36 64.61 36.37C67.00 35.38 69.91 34.93 72.56 35.71C75.21 36.48 78.26 38.76 80.51 41.01C82.77 43.26 84.58 46.13 86.08 49.22C87.58 52.32 89.02 56.47 89.53 59.56C90.03 62.65 89.86 65.30 89.13 67.78C88.40 70.25 87.03 72.46 85.15 74.40C83.27 76.35 80.18 78.33 77.86 79.44C75.54 80.54 73.45 80.99 71.24 81.03C69.03 81.07 67.04 80.59 64.61 79.70C62.18 78.82 58.98 77.27 56.66 75.73C54.34 74.18 51.80 72.19 50.70 70.43C49.59 68.66 49.48 66.58 50.03 65.13C50.59 63.67 52.46 62.61 54.01 61.68C55.56 60.75 58.60 60.80 59.31 59.56C60.02 58.32 58.69 55.92 58.25 54.26C57.81 52.60 56.66 51.72 56.66 49.62C56.66 47.52 56.93 43.88 58.25 41.67Z" fill="#e8b09a"/><path d="M52.68 63.54C50.92 63.09 47.83 65.30 46.06 66.19C44.29 67.07 42.52 67.73 42.08 68.84C41.64 69.94 42.08 72.37 43.41 72.81C44.73 73.25 47.83 72.15 50.03 71.49C52.24 70.83 56.22 70.16 56.66 68.84C57.10 67.51 54.45 63.98 52.68 63.54Z" fill="#e8b09a"/><path d="M36.25 29.08L40.49 32.79L47.38 33.85L52.95 32.79L59.31 29.35L60.64 37.30L58.78 44.32L56.40 50.28L47.65 53.47L39.43 51.34L34.13 46.31L34.93 38.36Z" fill="#e8b09a"/><path d="M54.27 33.85L58.78 30.94L59.44 37.83Z" fill="#8c8088" stroke="none"/></g><ellipse cx="74.2" cy="45.0" rx="5.6" ry="4.0" fill="#8c8088"/><ellipse cx="81.8" cy="70.2" rx="6.4" ry="5.8" fill="#8c8088"/><ellipse cx="64.1" cy="56.9" rx="3.7" ry="2.7" fill="#8c8088"/><ellipse cx="64.6" cy="76.5" rx="4.0" ry="2.7" fill="#8c8088"/><ellipse cx="56.7" cy="34.4" rx="2.9" ry="3.7" fill="#8c8088"/><ellipse cx="43.4" cy="37.7" rx="2.7" ry="2.1" fill="#8c8088"/><ellipse cx="68.6" cy="87.4" rx="1.9" ry="2.4" fill="#8c8088"/><ellipse cx="66.6" cy="100.6" rx="1.9" ry="1.9" fill="#8c8088"/><ellipse cx="83.2" cy="100.0" rx="3.3" ry="1.3" fill="#8c8088"/><ellipse cx="62.0" cy="46.3" rx="1.3" ry="1.6" fill="#8c8088"/><ellipse cx="37.6" cy="44.3" rx="2.1" ry="3.6" fill="#3b4a80" transform="rotate(-12 37.6 44.3)"/><ellipse cx="50.8" cy="45.2" rx="5.6" ry="3.2" fill="#3b4a80" transform="rotate(-12 50.8 45.2)"/><path d="M71.24 50.28C71.02 50.28 75.88 54.59 77.86 54.26C79.85 53.93 81.40 50.51 83.16 48.30C84.93 46.09 86.26 43.22 88.47 41.01C90.67 38.80 95.75 35.04 96.42 35.04C97.08 35.04 91.78 39.35 92.44 41.01C93.10 42.66 99.95 43.88 100.39 44.98C100.83 46.09 95.53 46.31 95.09 47.63C94.65 48.96 98.85 52.27 97.74 52.94C96.64 53.60 91.12 50.51 88.47 51.61C85.81 52.71 84.05 58.13 81.84 59.56C79.63 61.00 75.65 61.11 75.21 60.22C74.77 59.34 79.85 55.92 79.19 54.26C78.53 52.60 71.46 50.28 71.24 50.28Z" fill="#3b4a80"/><path d="M39.43 68.84C39.76 67.73 41.86 66.41 43.41 66.19C44.95 65.97 48.27 66.74 48.71 67.51C49.15 68.29 46.94 69.50 46.06 70.83C45.18 72.15 44.18 75.13 43.41 75.46C42.64 75.79 42.08 73.92 41.42 72.81C40.76 71.71 39.10 69.94 39.43 68.84Z" fill="#3b4a80"/><path d="M52.68 66.19C53.35 64.31 58.65 62.65 59.31 62.87C59.97 63.09 56.11 65.86 56.66 67.51C57.21 69.17 62.84 71.71 62.62 72.81C62.40 73.92 56.99 75.24 55.34 74.14C53.68 73.03 52.02 68.06 52.68 66.19Z" fill="#3b4a80"/><path d="M85.81 88.72C86.26 86.95 89.79 83.41 92.44 82.09C95.09 80.76 101.05 80.10 101.72 80.76C102.38 81.43 96.64 84.74 96.42 86.07C96.20 87.39 100.61 87.83 100.39 88.72C100.17 89.60 95.75 89.82 95.09 91.37C94.43 92.91 97.08 96.45 96.42 97.99C95.75 99.54 92.22 101.53 91.12 100.64C90.01 99.76 90.67 94.68 89.79 92.69C88.91 90.70 85.37 90.48 85.81 88.72Z" fill="#3b4a80"/><path d="M65.94 107.27C65.72 106.16 69.25 103.29 71.24 103.29C73.23 103.29 77.20 105.50 77.86 107.27C78.53 109.04 76.54 112.68 75.21 113.89C73.89 115.11 70.35 115.22 69.91 114.56C69.47 113.89 73.23 111.13 72.56 109.92C71.90 108.70 66.16 108.37 65.94 107.27Z" fill="#3b4a80"/><path d="M75.21 101.97C76.32 101.53 80.96 102.85 83.16 103.29C85.37 103.73 88.69 103.96 88.47 104.62C88.24 105.28 83.83 107.05 81.84 107.27C79.85 107.49 77.64 106.83 76.54 105.94C75.43 105.06 74.11 102.41 75.21 101.97Z" fill="#3b4a80"/><text x="3.5" y="25.2" font-size="31" font-weight="bold" fill="#fff" stroke="#fff" stroke-width="0.8">3</text><g><path d="M70.54 2.60C70.86 2.66 71.28 3.07 71.34 3.34C71.40 3.62 70.92 3.93 70.90 4.25C70.88 4.57 70.96 4.92 71.23 5.24C71.50 5.56 72.24 5.81 72.51 6.16C72.77 6.52 72.82 7.00 72.83 7.37C72.83 7.74 72.33 7.91 72.55 8.39C72.77 8.87 73.73 9.55 74.16 10.26C74.59 10.96 74.94 11.89 75.13 12.63C75.33 13.37 75.38 14.00 75.30 14.68C75.22 15.36 75.00 16.11 74.64 16.72C74.28 17.34 73.96 17.96 73.17 18.36C72.37 18.75 70.97 19.10 69.88 19.10C68.78 19.10 67.42 18.75 66.60 18.36C65.78 17.96 65.34 17.34 64.96 16.72C64.58 16.11 64.38 15.41 64.30 14.68C64.22 13.94 64.27 13.10 64.47 12.30C64.66 11.51 65.03 10.62 65.44 9.91C65.85 9.20 66.57 8.55 66.93 8.04C67.29 7.54 67.50 7.28 67.60 6.86C67.70 6.43 67.42 5.94 67.52 5.49C67.63 5.03 67.93 4.55 68.24 4.13C68.55 3.72 69.01 3.27 69.39 3.01C69.78 2.76 70.21 2.54 70.54 2.60Z" fill="#fff"/><path d="M69.90 10.03C70.32 10.06 70.78 11.45 71.16 12.09C71.53 12.74 72.07 13.32 72.12 13.91C72.18 14.51 71.88 15.27 71.49 15.67C71.11 16.07 70.36 16.30 69.80 16.30C69.24 16.30 68.49 16.07 68.11 15.67C67.72 15.27 67.40 14.54 67.48 13.91C67.56 13.29 68.19 12.55 68.59 11.91C68.99 11.26 69.47 9.99 69.90 10.03Z" fill="#edd820"/></g><g><path d="M84.24 2.60C84.56 2.66 84.98 3.07 85.04 3.34C85.10 3.62 84.62 3.93 84.60 4.25C84.58 4.57 84.66 4.92 84.93 5.24C85.20 5.56 85.94 5.81 86.21 6.16C86.47 6.52 86.52 7.00 86.53 7.37C86.53 7.74 86.03 7.91 86.25 8.39C86.47 8.87 87.43 9.55 87.86 10.26C88.29 10.96 88.64 11.89 88.83 12.63C89.03 13.37 89.08 14.00 89.00 14.68C88.92 15.36 88.70 16.11 88.34 16.72C87.98 17.34 87.66 17.96 86.87 18.36C86.07 18.75 84.67 19.10 83.58 19.10C82.48 19.10 81.12 18.75 80.30 18.36C79.48 17.96 79.04 17.34 78.66 16.72C78.28 16.11 78.08 15.41 78.00 14.68C77.92 13.94 77.97 13.10 78.17 12.30C78.36 11.51 78.73 10.62 79.14 9.91C79.55 9.20 80.27 8.55 80.63 8.04C80.99 7.54 81.20 7.28 81.30 6.86C81.40 6.43 81.12 5.94 81.22 5.49C81.33 5.03 81.63 4.55 81.94 4.13C82.25 3.72 82.71 3.27 83.09 3.01C83.48 2.76 83.91 2.54 84.24 2.60Z" fill="#fff"/><path d="M83.60 10.03C84.02 10.06 84.48 11.45 84.86 12.09C85.23 12.74 85.77 13.32 85.82 13.91C85.88 14.51 85.58 15.27 85.19 15.67C84.81 16.07 84.06 16.30 83.50 16.30C82.94 16.30 82.19 16.07 81.81 15.67C81.42 15.27 81.10 14.54 81.18 13.91C81.26 13.29 81.89 12.55 82.29 11.91C82.69 11.26 83.17 9.99 83.60 10.03Z" fill="#edd820"/></g><g><path d="M97.84 2.60C98.16 2.66 98.58 3.07 98.64 3.34C98.70 3.62 98.22 3.93 98.20 4.25C98.18 4.57 98.26 4.92 98.53 5.24C98.80 5.56 99.54 5.81 99.81 6.16C100.07 6.52 100.12 7.00 100.12 7.37C100.13 7.74 99.63 7.91 99.85 8.39C100.07 8.87 101.03 9.55 101.46 10.26C101.89 10.96 102.24 11.89 102.43 12.63C102.63 13.37 102.68 14.00 102.60 14.68C102.52 15.36 102.30 16.11 101.94 16.72C101.58 17.34 101.26 17.96 100.47 18.36C99.67 18.75 98.27 19.10 97.18 19.10C96.08 19.10 94.72 18.75 93.90 18.36C93.08 17.96 92.64 17.34 92.26 16.72C91.88 16.11 91.68 15.41 91.60 14.68C91.52 13.94 91.57 13.10 91.77 12.30C91.96 11.51 92.33 10.62 92.74 9.91C93.15 9.20 93.87 8.55 94.23 8.04C94.59 7.54 94.80 7.28 94.90 6.86C95.00 6.43 94.72 5.94 94.82 5.49C94.93 5.03 95.23 4.55 95.54 4.13C95.85 3.72 96.31 3.27 96.69 3.01C97.08 2.76 97.51 2.54 97.84 2.60Z" fill="#fff"/><path d="M97.20 10.03C97.62 10.06 98.08 11.45 98.46 12.09C98.83 12.74 99.37 13.32 99.42 13.91C99.48 14.51 99.18 15.27 98.79 15.67C98.41 16.07 97.66 16.30 97.10 16.30C96.54 16.30 95.79 16.07 95.41 15.67C95.02 15.27 94.70 14.54 94.78 13.91C94.86 13.29 95.49 12.55 95.89 11.91C96.29 11.26 96.77 9.99 97.20 10.03Z" fill="#edd820"/></g><text x="14.2" y="44.5" font-size="14.5" font-weight="bold" fill="#fff" stroke="#fff" stroke-width="0.9" text-anchor="middle">猫</text><text x="14.2" y="59.1" font-size="14.5" font-weight="bold" fill="#fff" stroke="#fff" stroke-width="0.9" text-anchor="middle">又</text><rect x="2.2" y="33" width="1.3" height="28" fill="#fff" opacity=".55"/><text x="24" y="132.2" font-size="5.6" font-weight="bold" fill="#111" stroke="#111" stroke-width="0.25" textLength="76.7" lengthAdjust="spacingAndGlyphs">相手の場の妖怪を1体選び、</text><text x="24" y="138.5" font-size="5.6" font-weight="bold" fill="#111" stroke="#111" stroke-width="0.25" textLength="64.9" lengthAdjust="spacingAndGlyphs">この妖怪と入れ替える。</text><text x="24.5" y="145.0" font-size="4.3" fill="#777" textLength="76.0" lengthAdjust="spacingAndGlyphs">Switch control of this yokai</text><text x="24.5" y="150.0" font-size="4.3" fill="#777" textLength="68.8" lengthAdjust="spacingAndGlyphs">with an opponent's yokai.</text><path d="M4 144 L6.5 139 H19 L21.5 144Z" fill="#4a4a9e"/><path d="M3 147.5 L4 144 H21.5 L22.5 147.5Z" fill="#9488c0"/><path d="M4 133.5 h5 v-2.5 l4.5 4.5 l-4.5 4.5 v-2.5 h-2.5 v3 h-2.5z" fill="#b8509a"/><g><path d="M16.10 128.50C16.37 128.54 16.71 128.85 16.76 129.06C16.81 129.27 16.41 129.51 16.40 129.75C16.38 129.99 16.45 130.26 16.67 130.50C16.89 130.74 17.50 130.93 17.71 131.20C17.93 131.47 17.97 131.83 17.98 132.11C17.98 132.39 17.57 132.52 17.75 132.89C17.93 133.25 18.71 133.76 19.06 134.30C19.42 134.84 19.71 135.54 19.87 136.10C20.02 136.66 20.07 137.13 20.00 137.65C19.93 138.17 19.75 138.74 19.46 139.20C19.17 139.66 18.90 140.14 18.25 140.44C17.60 140.74 16.46 141.00 15.56 141.00C14.67 141.00 13.55 140.74 12.88 140.44C12.21 140.14 11.85 139.66 11.54 139.20C11.23 138.74 11.07 138.21 11.00 137.65C10.93 137.09 10.98 136.45 11.13 135.85C11.29 135.25 11.60 134.57 11.94 134.04C12.27 133.50 12.86 133.01 13.15 132.62C13.45 132.24 13.62 132.05 13.70 131.72C13.78 131.40 13.55 131.03 13.64 130.69C13.72 130.34 13.97 129.97 14.22 129.66C14.48 129.35 14.85 129.01 15.17 128.81C15.48 128.62 15.84 128.46 16.10 128.50Z" fill="#fff"/><path d="M15.58 134.12C15.93 134.15 16.31 135.20 16.61 135.69C16.91 136.18 17.35 136.62 17.40 137.07C17.45 137.52 17.20 138.10 16.89 138.40C16.57 138.70 15.96 138.88 15.50 138.88C15.04 138.88 14.43 138.70 14.11 138.40C13.80 138.10 13.53 137.54 13.60 137.07C13.67 136.59 14.18 136.04 14.51 135.55C14.84 135.06 15.23 134.10 15.58 134.12Z" fill="#edd820"/></g></g></g></g>
<circle cx="589.1" cy="1224.5" r="12.2" fill="none" stroke="#fff" stroke-width="1.2"/><text x="589.1" y="1232.3" font-size="22" fill="#fff" text-anchor="middle">1</text>
<circle cx="575.2" cy="1343.9" r="12.4" fill="none" stroke="#fff" stroke-width="1.2"/><text x="575.2" y="1351.7" font-size="22" fill="#fff" text-anchor="middle">2</text>
<circle cx="132.5" cy="1399.0" r="12.6" fill="none" stroke="#fff" stroke-width="1.2"/><text x="132.5" y="1406.8" font-size="22" fill="#fff" text-anchor="middle">3</text>
<circle cx="1059.2" cy="1398.0" r="12.6" fill="none" stroke="#fff" stroke-width="1.2"/><text x="1059.2" y="1405.8" font-size="22" fill="#fff" text-anchor="middle">3</text>
<g transform="rotate(-14 582.3 1378.4)"><path d="M583.84 1360.90C584.52 1361.02 585.39 1361.89 585.52 1362.48C585.65 1363.06 584.64 1363.73 584.60 1364.40C584.56 1365.07 584.73 1365.82 585.29 1366.50C585.85 1367.18 587.40 1367.71 587.96 1368.46C588.51 1369.21 588.61 1370.23 588.62 1371.02C588.64 1371.80 587.59 1372.16 588.05 1373.19C588.51 1374.21 590.51 1375.64 591.41 1377.14C592.31 1378.64 593.06 1380.62 593.45 1382.18C593.85 1383.74 593.97 1385.07 593.80 1386.52C593.63 1387.97 593.16 1389.56 592.42 1390.86C591.68 1392.16 591.00 1393.49 589.34 1394.33C587.68 1395.16 584.75 1395.90 582.46 1395.90C580.17 1395.90 577.32 1395.16 575.61 1394.33C573.89 1393.49 572.98 1392.16 572.18 1390.86C571.38 1389.56 570.97 1388.08 570.80 1386.52C570.63 1384.96 570.75 1383.17 571.14 1381.48C571.54 1379.79 572.33 1377.91 573.19 1376.41C574.05 1374.90 575.55 1373.53 576.30 1372.45C577.05 1371.37 577.49 1370.83 577.70 1369.93C577.91 1369.03 577.32 1367.99 577.54 1367.03C577.76 1366.06 578.38 1365.03 579.03 1364.16C579.69 1363.28 580.65 1362.32 581.45 1361.78C582.25 1361.23 583.16 1360.78 583.84 1360.90Z" fill="#fff"/><path d="M582.50 1376.65C583.40 1376.72 584.36 1379.66 585.13 1381.04C585.91 1382.41 587.04 1383.63 587.16 1384.90C587.28 1386.16 586.65 1387.78 585.84 1388.62C585.03 1389.46 583.48 1389.95 582.30 1389.95C581.12 1389.95 579.57 1389.46 578.76 1388.62C577.95 1387.78 577.27 1386.23 577.44 1384.90C577.61 1383.57 578.93 1382.01 579.77 1380.64C580.61 1379.27 581.61 1376.58 582.50 1376.65Z" fill="#edd820"/></g>
<g transform="rotate(6 601.7 1371.6)"><path d="M603.24 1354.10C603.92 1354.22 604.79 1355.09 604.92 1355.67C605.05 1356.26 604.04 1356.93 604.00 1357.60C603.96 1358.27 604.13 1359.02 604.69 1359.70C605.25 1360.38 606.80 1360.91 607.36 1361.66C607.91 1362.41 608.01 1363.43 608.03 1364.21C608.04 1365.00 606.99 1365.36 607.45 1366.38C607.91 1367.41 609.91 1368.84 610.81 1370.34C611.71 1371.84 612.46 1373.82 612.86 1375.38C613.25 1376.94 613.37 1378.27 613.20 1379.72C613.03 1381.17 612.56 1382.76 611.82 1384.06C611.08 1385.36 610.40 1386.68 608.74 1387.52C607.08 1388.36 604.15 1389.10 601.86 1389.10C599.57 1389.10 596.72 1388.36 595.01 1387.52C593.29 1386.68 592.38 1385.36 591.58 1384.06C590.78 1382.76 590.37 1381.28 590.20 1379.72C590.03 1378.16 590.15 1376.37 590.55 1374.68C590.94 1372.99 591.73 1371.11 592.59 1369.61C593.45 1368.10 594.95 1366.73 595.70 1365.65C596.45 1364.57 596.89 1364.03 597.10 1363.13C597.31 1362.23 596.72 1361.19 596.94 1360.22C597.16 1359.26 597.78 1358.23 598.43 1357.36C599.09 1356.48 600.05 1355.52 600.85 1354.97C601.65 1354.43 602.56 1353.98 603.24 1354.10Z" fill="#fff"/><path d="M601.90 1369.85C602.80 1369.92 603.76 1372.86 604.53 1374.24C605.31 1375.61 606.44 1376.83 606.56 1378.10C606.68 1379.36 606.05 1380.98 605.24 1381.82C604.43 1382.66 602.88 1383.15 601.70 1383.15C600.52 1383.15 598.97 1382.66 598.16 1381.82C597.35 1380.98 596.67 1379.43 596.84 1378.10C597.01 1376.77 598.33 1375.21 599.17 1373.84C600.01 1372.47 601.01 1369.78 601.90 1369.85Z" fill="#edd820"/></g>
<g transform="rotate(-8 579.8 1405.5)"><path d="M581.34 1388.00C582.02 1388.12 582.89 1388.99 583.02 1389.58C583.15 1390.16 582.14 1390.83 582.10 1391.50C582.06 1392.17 582.23 1392.92 582.79 1393.60C583.35 1394.28 584.90 1394.81 585.46 1395.56C586.01 1396.31 586.11 1397.33 586.12 1398.12C586.14 1398.90 585.09 1399.26 585.55 1400.29C586.01 1401.31 588.01 1402.74 588.91 1404.24C589.81 1405.74 590.56 1407.72 590.95 1409.28C591.35 1410.84 591.47 1412.17 591.30 1413.62C591.13 1415.07 590.66 1416.66 589.92 1417.96C589.18 1419.26 588.50 1420.59 586.84 1421.42C585.18 1422.26 582.25 1423.00 579.96 1423.00C577.67 1423.00 574.82 1422.26 573.11 1421.42C571.39 1420.59 570.48 1419.26 569.68 1417.96C568.88 1416.66 568.47 1415.18 568.30 1413.62C568.13 1412.06 568.25 1410.27 568.64 1408.58C569.04 1406.89 569.83 1405.01 570.69 1403.51C571.55 1402.00 573.05 1400.63 573.80 1399.55C574.55 1398.47 574.99 1397.93 575.20 1397.03C575.41 1396.13 574.82 1395.09 575.04 1394.12C575.26 1393.16 575.88 1392.13 576.53 1391.26C577.19 1390.38 578.15 1389.42 578.95 1388.88C579.75 1388.33 580.66 1387.88 581.34 1388.00Z" fill="#fff"/><path d="M580.00 1403.75C580.90 1403.82 581.86 1406.76 582.63 1408.14C583.41 1409.51 584.54 1410.73 584.66 1412.00C584.78 1413.26 584.15 1414.88 583.34 1415.72C582.53 1416.56 580.98 1417.05 579.80 1417.05C578.62 1417.05 577.07 1416.56 576.26 1415.72C575.45 1414.88 574.77 1413.33 574.94 1412.00C575.11 1410.67 576.43 1409.11 577.27 1407.74C578.11 1406.37 579.11 1403.68 580.00 1403.75Z" fill="#edd820"/></g>
<g transform="rotate(14 612.0 1406.5)"><path d="M613.54 1389.00C614.22 1389.12 615.09 1389.99 615.22 1390.58C615.35 1391.16 614.34 1391.83 614.30 1392.50C614.26 1393.17 614.43 1393.92 614.99 1394.60C615.55 1395.28 617.10 1395.81 617.66 1396.56C618.21 1397.31 618.31 1398.33 618.33 1399.12C618.34 1399.90 617.29 1400.26 617.75 1401.29C618.21 1402.31 620.21 1403.74 621.11 1405.24C622.01 1406.74 622.76 1408.72 623.15 1410.28C623.55 1411.84 623.67 1413.17 623.50 1414.62C623.33 1416.07 622.86 1417.66 622.12 1418.96C621.38 1420.26 620.70 1421.59 619.04 1422.42C617.38 1423.26 614.45 1424.00 612.16 1424.00C609.87 1424.00 607.02 1423.26 605.31 1422.42C603.59 1421.59 602.68 1420.26 601.88 1418.96C601.08 1417.66 600.67 1416.18 600.50 1414.62C600.33 1413.06 600.45 1411.27 600.85 1409.58C601.24 1407.89 602.03 1406.01 602.89 1404.51C603.75 1403.00 605.25 1401.63 606.00 1400.55C606.75 1399.47 607.19 1398.93 607.40 1398.03C607.61 1397.13 607.02 1396.09 607.24 1395.12C607.46 1394.16 608.08 1393.13 608.73 1392.26C609.39 1391.38 610.35 1390.42 611.15 1389.88C611.95 1389.33 612.86 1388.88 613.54 1389.00Z" fill="#fff"/><path d="M612.20 1404.75C613.10 1404.82 614.06 1407.76 614.83 1409.14C615.61 1410.51 616.74 1411.73 616.86 1413.00C616.98 1414.26 616.35 1415.88 615.54 1416.72C614.73 1417.56 613.18 1418.05 612.00 1418.05C610.82 1418.05 609.27 1417.56 608.46 1416.72C607.65 1415.88 606.97 1414.33 607.14 1413.00C607.31 1411.67 608.63 1410.11 609.47 1408.74C610.31 1407.37 611.31 1404.68 612.20 1404.75Z" fill="#edd820"/></g>
<g><path d="M597.44 1402.50C598.12 1402.62 598.99 1403.49 599.12 1404.08C599.25 1404.66 598.24 1405.33 598.20 1406.00C598.16 1406.67 598.33 1407.42 598.89 1408.10C599.45 1408.78 601.00 1409.31 601.56 1410.06C602.11 1410.81 602.21 1411.83 602.23 1412.62C602.24 1413.40 601.19 1413.76 601.65 1414.79C602.11 1415.81 604.11 1417.24 605.01 1418.74C605.91 1420.24 606.66 1422.22 607.05 1423.78C607.45 1425.34 607.57 1426.67 607.40 1428.12C607.23 1429.57 606.76 1431.16 606.02 1432.46C605.28 1433.76 604.60 1435.09 602.94 1435.92C601.28 1436.76 598.35 1437.50 596.06 1437.50C593.77 1437.50 590.92 1436.76 589.21 1435.92C587.49 1435.09 586.58 1433.76 585.78 1432.46C584.98 1431.16 584.57 1429.68 584.40 1428.12C584.23 1426.56 584.35 1424.77 584.75 1423.08C585.14 1421.39 585.93 1419.51 586.79 1418.01C587.65 1416.50 589.15 1415.13 589.90 1414.05C590.65 1412.97 591.09 1412.43 591.30 1411.53C591.51 1410.63 590.92 1409.59 591.14 1408.62C591.36 1407.66 591.98 1406.63 592.63 1405.76C593.29 1404.88 594.25 1403.92 595.05 1403.38C595.85 1402.83 596.76 1402.38 597.44 1402.50Z" fill="#fff"/><path d="M596.10 1418.25C597.00 1418.32 597.96 1421.26 598.73 1422.64C599.51 1424.01 600.64 1425.23 600.76 1426.50C600.88 1427.76 600.25 1429.38 599.44 1430.22C598.63 1431.06 597.08 1431.55 595.90 1431.55C594.72 1431.55 593.17 1431.06 592.36 1430.22C591.55 1429.38 590.87 1427.83 591.04 1426.50C591.21 1425.17 592.53 1423.61 593.37 1422.24C594.21 1420.87 595.21 1418.18 596.10 1418.25Z" fill="#edd820"/></g>
<g transform="translate(1017.6 2397.7) rotate(20.20)"><path d="M0.00 0.00L62.00 0.00L66.00 4.00L71.00 5.00L74.00 10.00L80.00 12.00L82.00 18.00L88.00 21.00L90.00 27.00L93.00 30.00L93.00 198.50L0.00 198.50Z" fill="#fffefe" stroke="#111" stroke-width="1.3" stroke-linejoin="round"/><path d="M16.50 12.00C18.67 11.37 25.08 14.00 30.00 14.50C34.92 15.00 40.67 15.00 46.00 15.00C51.33 15.00 56.92 15.17 62.00 14.50C67.08 13.83 74.00 10.58 76.50 11.00C79.00 11.42 79.42 15.37 77.00 17.00C74.58 18.63 67.17 20.08 62.00 20.80C56.83 21.52 51.33 21.30 46.00 21.30C40.67 21.30 34.83 21.30 30.00 20.80C25.17 20.30 19.25 19.77 17.00 18.30C14.75 16.83 14.33 12.63 16.50 12.00Z" fill="#2a9088" stroke="#10302c" stroke-width="0.7"/><path d="M19.50 29.00L74.50 28.50L74.70 33.80L19.80 34.30Z" fill="#2a9088" stroke="#10302c" stroke-width="0.7"/><path d="M39.50 18.00L45.50 18.80L28.30 67.50L22.30 65.50Z" fill="#2a9088" stroke="#10302c" stroke-width="0.7"/><path d="M56.80 18.80L62.80 18.00L74.00 65.30L68.00 67.30Z" fill="#2a9088" stroke="#10302c" stroke-width="0.7"/><path d="M19.0 147.0 V161.0" stroke="#2a9088" stroke-width="4.6" stroke-linecap="round"/><circle cx="19.0" cy="147.0" r="4.8" fill="#2a9088" stroke="#10302c" stroke-width="0.6"/><path d="M19.00 156.00C21.17 156.00 23.70 163.50 25.50 167.00C27.30 170.50 29.47 173.67 29.80 177.00C30.13 180.33 29.30 184.17 27.50 187.00C25.70 189.83 21.83 194.00 19.00 194.00C16.17 194.00 12.30 189.83 10.50 187.00C8.70 184.17 7.87 180.33 8.20 177.00C8.53 173.67 10.70 170.50 12.50 167.00C14.30 163.50 16.83 156.00 19.00 156.00Z" fill="#2a9088" stroke="#10302c" stroke-width="0.6"/><path d="M19.00 169.00C19.87 169.00 20.95 172.25 21.60 174.00C22.25 175.75 22.83 177.75 22.90 179.50C22.97 181.25 22.65 183.17 22.00 184.50C21.35 185.83 20.00 187.50 19.00 187.50C18.00 187.50 16.65 185.83 16.00 184.50C15.35 183.17 15.03 181.25 15.10 179.50C15.17 177.75 15.75 175.75 16.40 174.00C17.05 172.25 18.13 169.00 19.00 169.00Z" fill="#fff" stroke="#10302c" stroke-width="0.5"/><path d="M46.0 149.0 V163.0" stroke="#2a9088" stroke-width="4.6" stroke-linecap="round"/><circle cx="46.0" cy="149.0" r="4.8" fill="#2a9088" stroke="#10302c" stroke-width="0.6"/><path d="M46.00 158.00C48.17 158.00 50.70 165.50 52.50 169.00C54.30 172.50 56.47 175.67 56.80 179.00C57.13 182.33 56.30 186.17 54.50 189.00C52.70 191.83 48.83 196.00 46.00 196.00C43.17 196.00 39.30 191.83 37.50 189.00C35.70 186.17 34.87 182.33 35.20 179.00C35.53 175.67 37.70 172.50 39.50 169.00C41.30 165.50 43.83 158.00 46.00 158.00Z" fill="#2a9088" stroke="#10302c" stroke-width="0.6"/><path d="M46.00 171.00C46.87 171.00 47.95 174.25 48.60 176.00C49.25 177.75 49.83 179.75 49.90 181.50C49.97 183.25 49.65 185.17 49.00 186.50C48.35 187.83 47.00 189.50 46.00 189.50C45.00 189.50 43.65 187.83 43.00 186.50C42.35 185.17 42.03 183.25 42.10 181.50C42.17 179.75 42.75 177.75 43.40 176.00C44.05 174.25 45.13 171.00 46.00 171.00Z" fill="#fff" stroke="#10302c" stroke-width="0.5"/><path d="M72.5 147.0 V161.0" stroke="#2a9088" stroke-width="4.6" stroke-linecap="round"/><circle cx="72.5" cy="147.0" r="4.8" fill="#2a9088" stroke="#10302c" stroke-width="0.6"/><path d="M72.50 156.00C74.67 156.00 77.20 163.50 79.00 167.00C80.80 170.50 82.97 173.67 83.30 177.00C83.63 180.33 82.80 184.17 81.00 187.00C79.20 189.83 75.33 194.00 72.50 194.00C69.67 194.00 65.80 189.83 64.00 187.00C62.20 184.17 61.37 180.33 61.70 177.00C62.03 173.67 64.20 170.50 66.00 167.00C67.80 163.50 70.33 156.00 72.50 156.00Z" fill="#2a9088" stroke="#10302c" stroke-width="0.6"/><path d="M72.50 169.00C73.37 169.00 74.45 172.25 75.10 174.00C75.75 175.75 76.33 177.75 76.40 179.50C76.47 181.25 76.15 183.17 75.50 184.50C74.85 185.83 73.50 187.50 72.50 187.50C71.50 187.50 70.15 185.83 69.50 184.50C68.85 183.17 68.53 181.25 68.60 179.50C68.67 177.75 69.25 175.75 69.90 174.00C70.55 172.25 71.63 169.00 72.50 169.00Z" fill="#fff" stroke="#10302c" stroke-width="0.5"/></g>
<path d="M1061.01 2410.55L1070.18 2409.02L1077.83 2392.20L1087.00 2389.14L1094.65 2384.56L1109.94 2382.11L1114.53 2378.44L1113.00 2387.61L1111.47 2393.73L1100.76 2398.32L1094.65 2409.02L1099.24 2416.67L1106.88 2421.25L1119.11 2424.31L1115.44 2430.43L1113.00 2436.54L1116.67 2450.31L1108.41 2453.36L1106.88 2461.01L1103.82 2473.24L1098.32 2477.83L1094.65 2484.86L1090.06 2464.07L1088.53 2448.78L1079.36 2433.49L1070.18 2421.25Z" fill="#3aa598" stroke="#10302c" stroke-width="0.9" stroke-linejoin="round"/><path d="M1116.06 2370.80L1120.64 2357.03L1128.29 2353.98L1125.23 2366.21L1119.11 2372.32Z" fill="#3aa598" stroke="#10302c" stroke-width="0.9"/><path d="M1126.76 2419.72L1132.87 2416.67L1134.40 2422.78L1129.82 2424.92Z" fill="#3aa598" stroke="#10302c" stroke-width="0.9"/><ellipse cx="1082.4" cy="2421.3" rx="3.5" ry="1.8" fill="#0a0a0a" transform="rotate(40 1082.4 2421.3)"/><ellipse cx="1091.6" cy="2433.5" rx="4.0" ry="2.0" fill="#0a0a0a" transform="rotate(60 1091.6 2433.5)"/><ellipse cx="1097.7" cy="2445.7" rx="3.5" ry="2.2" fill="#0a0a0a" transform="rotate(70 1097.7 2445.7)"/><ellipse cx="1094.6" cy="2461.0" rx="3.0" ry="1.6" fill="#0a0a0a" transform="rotate(80 1094.6 2461.0)"/><ellipse cx="1087.0" cy="2428.9" rx="2.5" ry="1.5" fill="#0a0a0a" transform="rotate(30 1087.0 2428.9)"/><ellipse cx="1102.3" cy="2433.5" rx="2.5" ry="1.5" fill="#0a0a0a" transform="rotate(50 1102.3 2433.5)"/><ellipse cx="1093.1" cy="2421.3" rx="2.2" ry="1.2" fill="#0a0a0a" transform="rotate(20 1093.1 2421.3)"/>
<g transform="translate(870.8 2355.5) rotate(-7.50)"><path d="M0.00 0.00L62.00 0.00L66.00 4.00L71.00 5.00L74.00 10.00L80.00 12.00L82.00 18.00L88.00 21.00L90.00 27.00L93.00 30.00L93.00 199.50L0.00 199.50Z" fill="#fffefe" stroke="#111" stroke-width="1.3" stroke-linejoin="round"/><path d="M16.50 12.00C18.67 11.37 25.08 14.00 30.00 14.50C34.92 15.00 40.67 15.00 46.00 15.00C51.33 15.00 56.92 15.17 62.00 14.50C67.08 13.83 74.00 10.58 76.50 11.00C79.00 11.42 79.42 15.37 77.00 17.00C74.58 18.63 67.17 20.08 62.00 20.80C56.83 21.52 51.33 21.30 46.00 21.30C40.67 21.30 34.83 21.30 30.00 20.80C25.17 20.30 19.25 19.77 17.00 18.30C14.75 16.83 14.33 12.63 16.50 12.00Z" fill="#2a9088" stroke="#10302c" stroke-width="0.7"/><path d="M19.50 29.00L74.50 28.50L74.70 33.80L19.80 34.30Z" fill="#2a9088" stroke="#10302c" stroke-width="0.7"/><path d="M39.50 18.00L45.50 18.80L28.30 67.50L22.30 65.50Z" fill="#2a9088" stroke="#10302c" stroke-width="0.7"/><path d="M56.80 18.80L62.80 18.00L74.00 65.30L68.00 67.30Z" fill="#2a9088" stroke="#10302c" stroke-width="0.7"/><path d="M19.0 145.0 V159.0" stroke="#2a9088" stroke-width="4.6" stroke-linecap="round"/><circle cx="19.0" cy="145.0" r="4.8" fill="#2a9088" stroke="#10302c" stroke-width="0.6"/><path d="M19.00 154.00C21.17 154.00 23.70 161.50 25.50 165.00C27.30 168.50 29.47 171.67 29.80 175.00C30.13 178.33 29.30 182.17 27.50 185.00C25.70 187.83 21.83 192.00 19.00 192.00C16.17 192.00 12.30 187.83 10.50 185.00C8.70 182.17 7.87 178.33 8.20 175.00C8.53 171.67 10.70 168.50 12.50 165.00C14.30 161.50 16.83 154.00 19.00 154.00Z" fill="#2a9088" stroke="#10302c" stroke-width="0.6"/><path d="M19.00 167.00C19.87 167.00 20.95 170.25 21.60 172.00C22.25 173.75 22.83 175.75 22.90 177.50C22.97 179.25 22.65 181.17 22.00 182.50C21.35 183.83 20.00 185.50 19.00 185.50C18.00 185.50 16.65 183.83 16.00 182.50C15.35 181.17 15.03 179.25 15.10 177.50C15.17 175.75 15.75 173.75 16.40 172.00C17.05 170.25 18.13 167.00 19.00 167.00Z" fill="#fff" stroke="#10302c" stroke-width="0.5"/><path d="M46.0 147.0 V161.0" stroke="#2a9088" stroke-width="4.6" stroke-linecap="round"/><circle cx="46.0" cy="147.0" r="4.8" fill="#2a9088" stroke="#10302c" stroke-width="0.6"/><path d="M46.00 156.00C48.17 156.00 50.70 163.50 52.50 167.00C54.30 170.50 56.47 173.67 56.80 177.00C57.13 180.33 56.30 184.17 54.50 187.00C52.70 189.83 48.83 194.00 46.00 194.00C43.17 194.00 39.30 189.83 37.50 187.00C35.70 184.17 34.87 180.33 35.20 177.00C35.53 173.67 37.70 170.50 39.50 167.00C41.30 163.50 43.83 156.00 46.00 156.00Z" fill="#2a9088" stroke="#10302c" stroke-width="0.6"/><path d="M46.00 169.00C46.87 169.00 47.95 172.25 48.60 174.00C49.25 175.75 49.83 177.75 49.90 179.50C49.97 181.25 49.65 183.17 49.00 184.50C48.35 185.83 47.00 187.50 46.00 187.50C45.00 187.50 43.65 185.83 43.00 184.50C42.35 183.17 42.03 181.25 42.10 179.50C42.17 177.75 42.75 175.75 43.40 174.00C44.05 172.25 45.13 169.00 46.00 169.00Z" fill="#fff" stroke="#10302c" stroke-width="0.5"/><path d="M72.5 145.0 V159.0" stroke="#2a9088" stroke-width="4.6" stroke-linecap="round"/><circle cx="72.5" cy="145.0" r="4.8" fill="#2a9088" stroke="#10302c" stroke-width="0.6"/><path d="M72.50 154.00C74.67 154.00 77.20 161.50 79.00 165.00C80.80 168.50 82.97 171.67 83.30 175.00C83.63 178.33 82.80 182.17 81.00 185.00C79.20 187.83 75.33 192.00 72.50 192.00C69.67 192.00 65.80 187.83 64.00 185.00C62.20 182.17 61.37 178.33 61.70 175.00C62.03 171.67 64.20 168.50 66.00 165.00C67.80 161.50 70.33 154.00 72.50 154.00Z" fill="#2a9088" stroke="#10302c" stroke-width="0.6"/><path d="M72.50 167.00C73.37 167.00 74.45 170.25 75.10 172.00C75.75 173.75 76.33 175.75 76.40 177.50C76.47 179.25 76.15 181.17 75.50 182.50C74.85 183.83 73.50 185.50 72.50 185.50C71.50 185.50 70.15 183.83 69.50 182.50C68.85 181.17 68.53 179.25 68.60 177.50C68.67 175.75 69.25 173.75 69.90 172.00C70.55 170.25 71.63 167.00 72.50 167.00Z" fill="#fff" stroke="#10302c" stroke-width="0.5"/></g>
<path d="M930.12 2347.25L934.10 2338.69L938.69 2341.74L941.74 2315.75L953.98 2305.05L966.82 2298.32L961.62 2312.69L957.03 2326.45L960.09 2330.12L963.76 2315.75L971.71 2318.81L969.88 2332.57L972.32 2341.74L974.77 2352.45L970.80 2363.15L968.65 2375.99L957.03 2367.74L947.86 2358.56L938.69 2355.50Z" fill="#3aa598" stroke="#10302c" stroke-width="0.9" stroke-linejoin="round"/><path d="M970.80 2285.17L976.91 2268.35L983.03 2265.29L979.97 2277.52L973.85 2286.09Z" fill="#3aa598" stroke="#10302c" stroke-width="0.9"/><path d="M978.44 2309.63L983.94 2300.46L989.14 2305.05L983.03 2313.61Z" fill="#3aa598" stroke="#10302c" stroke-width="0.9"/><ellipse cx="941.7" cy="2352.4" rx="3.2" ry="1.8" fill="#0a0a0a" transform="rotate(30 941.7 2352.4)"/><ellipse cx="952.4" cy="2357.0" rx="3.5" ry="2.0" fill="#0a0a0a" transform="rotate(40 952.4 2357.0)"/><ellipse cx="961.6" cy="2364.7" rx="3.5" ry="2.0" fill="#0a0a0a" transform="rotate(50 961.6 2364.7)"/><ellipse cx="964.7" cy="2352.4" rx="3.0" ry="1.6" fill="#0a0a0a" transform="rotate(70 964.7 2352.4)"/><ellipse cx="958.6" cy="2347.9" rx="2.5" ry="1.4" fill="#0a0a0a" transform="rotate(20 958.6 2347.9)"/><ellipse cx="967.7" cy="2370.8" rx="2.5" ry="1.5" fill="#0a0a0a" transform="rotate(60 967.7 2370.8)"/>
</svg>
<div class="h" style="left:59.3px;top:345.9px;width:139.7px;height:42.2px;line-height:42px"><i class="sq" style="margin-left:6.7px"></i>内容物</div>
<div class="h" style="left:55.3px;top:995.9px;width:244px;height:41.3px;line-height:41px"><i class="sq" style="margin-left:11.6px"></i>ゲームの準備</div>
<div class="h" style="left:59.3px;top:1883.6px;width:244.7px;height:41px;line-height:41px"><i class="sq" style="margin-left:9px"></i>ゲームの流れ</div>
<div style="position:absolute;left:81.3px;top:2517.5px;width:686px;height:94.5px;border:2px solid #fff;border-radius:7px;box-sizing:content-box"></div>

<div class="t" style="left:471.8px;top:1179.7px;width:27px;text-align:center;font-size:23px;line-height:23.7px;white-space:normal">自<br>分<br>の<br>場</div>
<div class="t" style="left:683.5px;top:1176.3px;width:27px;text-align:center;font-size:23px;line-height:23.4px;white-space:normal">相<br>手<br>の<br>場</div>
<div class="t" style="left:532.5px;top:1355.5px;width:26px;text-align:center;font-size:22.5px;line-height:24.0px;white-space:normal">自<br>分<br>の</div>
<div class="t" style="left:506.0px;top:1357.8px;width:26px;text-align:center;font-size:22.5px;line-height:23.5px;white-space:normal">山<br>札</div>
<div class="t" style="left:649.4px;top:1355.5px;width:26px;text-align:center;font-size:22.5px;line-height:24.0px;white-space:normal">相<br>手<br>の</div>
<div class="t" style="left:623.2px;top:1357.8px;width:26px;text-align:center;font-size:22.5px;line-height:23.5px;white-space:normal">山<br>札</div>
<p class="t" style="left:208px;top:234.5px;font-size:24px;line-height:29px;letter-spacing:0.80px;"><i class="q">「</i>妖怪1504<i class="c">」</i>は古き良きTCGの読み合いを凝縮した2人用の対戦カードゲームです<i class="c">。</i></p>
<p class="t" style="left:208px;top:272.5px;font-size:24px;line-height:29px;letter-spacing:0.31px;">様々な効果を持つ妖怪と<i class="c">、</i>妖怪を強化する<i class="q">「</i>ヒトダマ<i class="c">」</i>が勝利の鍵を握ります<i class="c">。</i></p>
<p class="t" style="left:66px;top:401.5px;font-size:24px;line-height:29px;letter-spacing:1.21px;"><i class="d">・</i>カード30枚 (15枚2セット)</p>
<p class="t" style="left:66px;top:439.5px;font-size:24px;line-height:29px;letter-spacing:0.59px;"><i class="d">・</i>ライフカウンター2個 (2×2セット)</p>
<p class="t" style="left:497px;top:401.5px;font-size:24px;line-height:29px;letter-spacing:0.11px;"><i class="d">・</i>ヒトダマタイル11個</p>
<p class="t" style="left:497px;top:439.5px;font-size:24px;line-height:29px;letter-spacing:-0.30px;"><i class="d">・</i>ライフチップ2個</p>
<p class="t" style="left:788px;top:439.5px;font-size:24px;line-height:29px;letter-spacing:0.86px;"><i class="d">・</i>説明書1部</p>
<p class="t" style="left:92px;top:521px;font-size:28px;line-height:34px;letter-spacing:-1.12px;"><i class="o"></i>妖怪カード<i class="q">（</i>妖怪<i class="c">）</i></p>
<p class="t" style="left:84px;top:551px;font-size:24px;line-height:29px;letter-spacing:0.24px;">a.名前&nbsp; b.効果. c.攻撃力. d.ヒトダマの上限</p>
<p class="t" style="left:84px;top:603px;font-size:24px;line-height:29px;letter-spacing:-0.22px;">妖怪の効果には3つの種類があります<i class="c">。</i></p>
<p class="t" style="left:194.5px;top:656.5px;font-size:24px;line-height:29px;letter-spacing:-0.14px;">①憑依効果</p>
<p class="t" style="left:194.5px;top:682.8px;font-size:24px;line-height:29px;letter-spacing:-0.51px;">妖怪に<b>ヒトダマタイルが1個以上置かれている時のみ</b>発動し続ける効果です<i class="c">。</i></p>
<p class="t" style="left:194.5px;top:734.8px;font-size:24px;line-height:29px;letter-spacing:-0.14px;">②解放効果</p>
<p class="t" style="left:194.5px;top:761.1px;font-size:24px;line-height:29px;letter-spacing:-0.63px;"><b>妖怪に置かれているヒトダマタイル1個をストックに戻す</b>ことで発動する効果です<i class="c">。</i></p>
<p class="t" style="left:194.5px;top:812.5px;font-size:24px;line-height:29px;letter-spacing:-0.14px;">③常在効果</p>
<p class="t" style="left:194.5px;top:840.5px;font-size:24px;line-height:29px;letter-spacing:-0.66px;">アイコンのない効果は<i class="c">、</i>妖怪が場にいる限り発動し続ける効果です<i class="c">。</i></p>
<p class="t" style="left:84px;top:895.6px;font-size:28px;line-height:34px;letter-spacing:-1.55px;"><i class="o"></i>スペルカード<i class="q">（</i>スペル<i class="c">）</i></p>
<p class="t" style="left:84px;top:926.2px;font-size:24px;line-height:29px;letter-spacing:0.27px;">a.名前　b.効果</p>
<p class="t" style="left:50px;top:1467.9px;font-size:24px;line-height:29px;letter-spacing:-0.48px;">①各プレイヤーは同じ色のライフカウンター2個とライフチップを1個ずつ受け取ります<i class="c">。</i></p>
<p class="t" style="left:50px;top:1504.6px;font-size:24px;line-height:29px;letter-spacing:-0.54px;">ライフカウンターを繋ぎ合わせ<i class="c">、</i>15の位置にライフチップを置きます<i class="c">。</i></p>
<p class="t" style="left:50px;top:1577.4px;font-size:24px;line-height:29px;letter-spacing:-0.81px;">②テーブルの中央に全てのヒトダマタイルをまとめてストックとして置きます<i class="c">。</i></p>
<p class="t" style="left:50px;top:1649.5px;font-size:24px;line-height:29px;letter-spacing:-0.18px;">③カード30枚を背面の色で15枚ずつに分け<i class="c">、</i>ライフカウンターと同じ色の15枚を各プレイヤーに</p>
<p class="t" style="left:50px;top:1685px;font-size:24px;line-height:29px;letter-spacing:-0.41px;">渡します<i class="c">。</i></p>
<p class="t" style="left:50px;top:1721.1px;font-size:24px;line-height:29px;letter-spacing:-0.51px;">プレイヤーは15枚のカードを裏向きにしてよくまぜ<i class="c">、</i>山札とします<i class="c">。</i></p>
<p class="t" style="left:50px;top:1756.5px;font-size:24px;line-height:29px;letter-spacing:-0.52px;">その後<i class="c">、</i>山札からカードを<b>4枚引き</b>自分の手札とします<i class="c">。</i>自分の手札の内容は自分だけが確認できます<i class="c">。</i></p>
<p class="t" style="left:50px;top:1826.9px;font-size:24px;line-height:29px;letter-spacing:-0.74px;">④ジャンケンをして<i class="c">、</i>勝ったプレイヤーが先攻か後攻か選んだら<i class="c">、</i>ゲームを始めます<i class="c">。</i></p>
<p class="t" style="left:54px;top:1945.5px;font-size:24px;line-height:29px;letter-spacing:-0.78px;">このゲームでは<i class="c">、</i>手札のカードをプレイして相手にダメージを与え<i class="c">、</i>先に相手のライフを0にした</p>
<p class="t" style="left:54px;top:1981.1px;font-size:24px;line-height:29px;letter-spacing:-0.79px;">プレイヤーが勝者となります<i class="c">。</i></p>
<p class="t" style="left:54px;top:2016.5px;font-size:24px;line-height:29px;letter-spacing:-0.83px;">ダメージを受けたプレイヤーは<i class="c">、</i>受けたダメージに等しい数値を<i class="c">、</i>ライフカウンター上の残りの</p>
<p class="t" style="left:54px;top:2052.5px;font-size:24px;line-height:29px;letter-spacing:-0.79px;">ライフから減らします<i class="c">。</i>どちらかのライフが0になるまで手番を交互に行います<i class="c">。</i></p>
<p class="t" style="left:54px;top:2088.1px;font-size:24px;line-height:29px;letter-spacing:-0.56px;">自分の手番では以下の順番に行います<i class="c">。</i></p>
<p class="t" style="left:52px;top:2125.4px;font-size:28px;line-height:34px;letter-spacing:-1.38px;">①メインフェイズ</p>
<p class="t" style="left:52px;top:2166.3px;font-size:28px;line-height:34px;letter-spacing:-1.40px;">②バトルフェイズ<i class="q">（</i>任意<i class="c">）</i></p>
<p class="t" style="left:52px;top:2207.3px;font-size:28px;line-height:34px;letter-spacing:-0.50px;">③手番の交代</p>
<p class="t" style="left:54px;top:2252.2px;font-size:24px;line-height:29px;letter-spacing:-0.81px;">※先攻の最初の手番のみ<i class="c">、</i>バトルフェイズを行うことができません<i class="c">。</i></p>
<p class="t" style="left:52px;top:2344.7px;font-size:30px;line-height:36px;font-weight:bold;-webkit-text-stroke:0.45px #fff;letter-spacing:0.48px;">①メインフェイズ</p>
<p class="t" style="left:54px;top:2392.9px;font-size:24px;line-height:29px;letter-spacing:-0.61px;">メインフェイズの開始時<i class="c">、</i>自分の山札からカードを1枚引きます<i class="c">。</i></p>
<p class="t" style="left:54px;top:2428.3px;font-size:24px;line-height:29px;letter-spacing:-0.80px;">その後<i class="c">、</i>以下のアクションを好きな回数<i class="c">、</i>好きな順番で行うことができます<i class="c">。</i></p>
<p class="t" style="left:54px;top:2464.5px;font-size:24px;line-height:29px;letter-spacing:-0.74px;">この時<i class="c">、</i>★のアクションは合計で2回までしか行うことができません<i class="c">。</i></p>
<p class="t" style="left:98px;top:2533.5px;font-size:24px;line-height:29px;font-weight:bold;-webkit-text-stroke:0.45px #fff;letter-spacing:-0.50px;">A.カードをプレイする★</p>
<p class="t" style="left:98px;top:2569px;font-size:24px;line-height:29px;font-weight:bold;-webkit-text-stroke:0.45px #fff;letter-spacing:-0.30px;">C.解放効果をつかう</p>
<p class="t" style="left:437px;top:2533.5px;font-size:24px;line-height:29px;font-weight:bold;-webkit-text-stroke:0.45px #fff;letter-spacing:-0.70px;">B.ヒトダマを置く★</p>
<p class="t" style="left:437px;top:2569px;font-size:24px;line-height:29px;font-weight:bold;-webkit-text-stroke:0.45px #fff;letter-spacing:-0.71px;">D.スペルカードをセットする</p>
<p class="t" style="left:54px;top:2645.6px;font-size:27px;line-height:32px;font-weight:bold;-webkit-text-stroke:0.45px #fff;letter-spacing:0.17px;">A.カードをプレイする★</p>
<p class="t" style="left:54px;top:2685px;font-size:24px;line-height:29px;letter-spacing:-0.72px;">プレイしたいカードを<i class="c">、</i>手札もしくはセットから1枚選び<i class="c">、</i>自分の場に表向きで出します<i class="c">。</i></p>
<p class="t" style="left:40px;top:2760px;font-size:22px;line-height:26px;font-weight:bold;-webkit-text-stroke:0.45px #fff;letter-spacing:1.14px;">【妖怪の場合】</p>
<p class="t" style="left:54px;top:2795.1px;font-size:24px;line-height:29px;letter-spacing:-0.71px;">妖怪は<i class="c">、</i>戦闘や効果で破壊されない限り<i class="c">、</i>自分の場に残り続けます<i class="c">。</i></p>
<p class="t" style="left:54px;top:2830.5px;font-size:24px;line-height:29px;letter-spacing:-0.99px;"><i class="q">（</i>破壊された場合は<i class="c">、</i>自分の墓地に置かれます<i class="c">。</i><i class="c">）</i></p>
<p class="t" style="left:54px;top:2866.5px;font-size:24px;line-height:29px;letter-spacing:-0.73px;">また<i class="c">、</i>妖怪は自分の場に3体までしか出すことはできません<i class="c">。</i></p>
<p class="t" style="left:40px;top:2940.3px;font-size:22px;line-height:26px;font-weight:bold;-webkit-text-stroke:0.45px #fff;letter-spacing:0.38px;">【スペルの場合】</p>
<p class="t" style="left:54px;top:2975.5px;font-size:24px;line-height:29px;letter-spacing:-0.67px;">即座にカードに書いてある効果を発動し<i class="c">、</i>その後自分の墓地に置きます<i class="c">。</i></p>
<p class="t" style="left:776px;top:557.5px;font-size:24px;line-height:29px;">表</p>
<p class="t" style="left:981px;top:557.5px;font-size:24px;line-height:29px;">裏</p>
<p class="t" style="left:785px;top:966.5px;font-size:24px;line-height:29px;">表</p>
<p class="t" style="left:989.5px;top:966.5px;font-size:24px;line-height:29px;">裏</p>
<p class="t" style="left:75.4px;top:1415px;font-size:23.5px;line-height:28px;letter-spacing:-0.68px;">自分の手札</p>
<p class="t" style="left:1000px;top:1414.7px;font-size:23.5px;line-height:28px;letter-spacing:-0.54px;">相手の手札</p>
<p class="t" style="left:261px;top:1411px;font-size:19.5px;line-height:23px;letter-spacing:-0.80px;">自分の墓地</p>
<p class="t" style="left:821.2px;top:1410.1px;font-size:19.5px;line-height:23px;letter-spacing:-0.20px;">相手の墓地</p>
</div></body></html>
